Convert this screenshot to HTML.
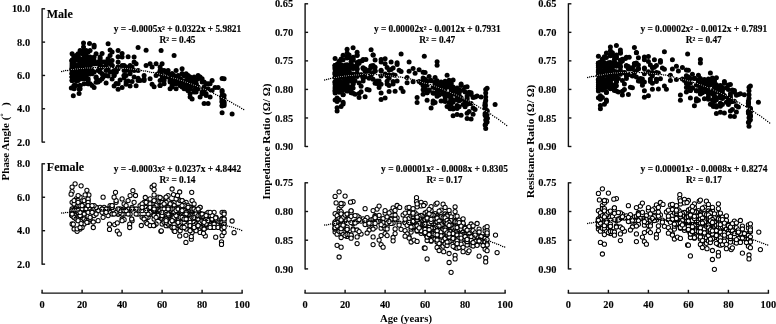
<!DOCTYPE html>
<html><head><meta charset="utf-8"><title>chart</title>
<style>
html,body{margin:0;padding:0;background:#fff;}
body{width:776px;height:324px;overflow:hidden;}
svg{display:block;font-family:"Liberation Serif", serif;font-weight:bold;fill:#000;will-change:transform;opacity:0.999;}
.ax{stroke:#111;stroke-width:1.4;fill:none;}
.tk{font-size:10.4px;stroke:#000;stroke-width:0.12;}
.grp{font-size:12px;stroke:#000;stroke-width:0.12;}
.xt{font-size:10.7px;}
.yt{font-size:11.05px;}
.yt2{font-size:11.2px;}
.eq{font-size:9.4px;stroke:#000;stroke-width:0.15;}
.fd circle{fill:#000;}
.od circle{fill:#fff;stroke:#000;stroke-width:1.02;}
.tr{fill:#000;}
.trm{fill:#c4c4c4;mix-blend-mode:difference;}
</style></head><body>
<svg width="776" height="324" viewBox="0 0 776 324">
<g class="fd"><circle cx="74.1" cy="60.5" r="2.5"/><circle cx="72.1" cy="60.5" r="2.5"/><circle cx="74.1" cy="85.4" r="2.5"/><circle cx="72.1" cy="60.5" r="2.5"/><circle cx="72.1" cy="68.8" r="2.5"/><circle cx="72.1" cy="67.1" r="2.5"/><circle cx="72.1" cy="77.1" r="2.5"/><circle cx="72.1" cy="77.1" r="2.5"/><circle cx="72.1" cy="53.8" r="2.5"/><circle cx="74.1" cy="78.8" r="2.5"/><circle cx="76.1" cy="75.4" r="2.5"/><circle cx="72.1" cy="60.5" r="2.5"/><circle cx="72.1" cy="77.1" r="2.5"/><circle cx="72.1" cy="80.4" r="2.5"/><circle cx="74.1" cy="73.8" r="2.5"/><circle cx="74.1" cy="88.8" r="2.5"/><circle cx="74.1" cy="73.8" r="2.5"/><circle cx="76.1" cy="68.8" r="2.5"/><circle cx="74.1" cy="87.1" r="2.5"/><circle cx="76.1" cy="80.4" r="2.5"/><circle cx="72.1" cy="63.8" r="2.5"/><circle cx="74.1" cy="63.8" r="2.5"/><circle cx="72.1" cy="65.5" r="2.5"/><circle cx="76.1" cy="85.4" r="2.5"/><circle cx="74.1" cy="73.8" r="2.5"/><circle cx="74.1" cy="77.1" r="2.5"/><circle cx="72.1" cy="60.5" r="2.5"/><circle cx="76.1" cy="55.5" r="2.5"/><circle cx="74.1" cy="85.4" r="2.5"/><circle cx="74.1" cy="70.5" r="2.5"/><circle cx="76.1" cy="80.4" r="2.5"/><circle cx="74.1" cy="67.1" r="2.5"/><circle cx="72.1" cy="68.8" r="2.5"/><circle cx="76.1" cy="68.8" r="2.5"/><circle cx="74.1" cy="60.5" r="2.5"/><circle cx="76.1" cy="70.5" r="2.5"/><circle cx="74.1" cy="65.5" r="2.5"/><circle cx="74.1" cy="57.1" r="2.5"/><circle cx="74.1" cy="63.8" r="2.5"/><circle cx="72.1" cy="62.1" r="2.5"/><circle cx="72.1" cy="80.4" r="2.5"/><circle cx="74.1" cy="70.5" r="2.5"/><circle cx="76.1" cy="77.1" r="2.5"/><circle cx="72.1" cy="73.8" r="2.5"/><circle cx="76.1" cy="77.1" r="2.5"/><circle cx="74.1" cy="57.1" r="2.5"/><circle cx="76.1" cy="67.1" r="2.5"/><circle cx="74.1" cy="77.1" r="2.5"/><circle cx="74.1" cy="67.1" r="2.5"/><circle cx="72.1" cy="73.8" r="2.5"/><circle cx="76.1" cy="68.8" r="2.5"/><circle cx="72.1" cy="73.8" r="2.5"/><circle cx="72.1" cy="72.1" r="2.5"/><circle cx="74.1" cy="72.1" r="2.5"/><circle cx="74.1" cy="72.1" r="2.5"/><circle cx="74.1" cy="57.1" r="2.5"/><circle cx="72.1" cy="68.8" r="2.5"/><circle cx="74.1" cy="65.5" r="2.5"/><circle cx="76.1" cy="67.1" r="2.5"/><circle cx="76.1" cy="65.5" r="2.5"/><circle cx="78.1" cy="57.1" r="2.5"/><circle cx="78.1" cy="77.1" r="2.5"/><circle cx="82.1" cy="75.4" r="2.5"/><circle cx="80.1" cy="73.8" r="2.5"/><circle cx="82.1" cy="72.1" r="2.5"/><circle cx="80.1" cy="78.8" r="2.5"/><circle cx="80.1" cy="85.4" r="2.5"/><circle cx="78.1" cy="58.8" r="2.5"/><circle cx="84.1" cy="68.8" r="2.5"/><circle cx="82.1" cy="53.8" r="2.5"/><circle cx="82.1" cy="60.5" r="2.5"/><circle cx="80.1" cy="70.5" r="2.5"/><circle cx="82.1" cy="62.1" r="2.5"/><circle cx="78.1" cy="55.5" r="2.5"/><circle cx="78.1" cy="67.1" r="2.5"/><circle cx="84.1" cy="72.1" r="2.5"/><circle cx="84.1" cy="83.8" r="2.5"/><circle cx="82.1" cy="75.4" r="2.5"/><circle cx="84.1" cy="55.5" r="2.5"/><circle cx="78.1" cy="65.5" r="2.5"/><circle cx="80.1" cy="73.8" r="2.5"/><circle cx="84.1" cy="65.5" r="2.5"/><circle cx="84.1" cy="73.8" r="2.5"/><circle cx="80.1" cy="75.4" r="2.5"/><circle cx="78.1" cy="67.1" r="2.5"/><circle cx="84.1" cy="72.1" r="2.5"/><circle cx="80.1" cy="68.8" r="2.5"/><circle cx="80.1" cy="67.1" r="2.5"/><circle cx="84.1" cy="77.1" r="2.5"/><circle cx="82.1" cy="72.1" r="2.5"/><circle cx="84.1" cy="77.1" r="2.5"/><circle cx="80.1" cy="85.4" r="2.5"/><circle cx="78.1" cy="70.5" r="2.5"/><circle cx="78.1" cy="80.4" r="2.5"/><circle cx="80.1" cy="73.8" r="2.5"/><circle cx="78.1" cy="67.1" r="2.5"/><circle cx="84.1" cy="58.8" r="2.5"/><circle cx="78.1" cy="73.8" r="2.5"/><circle cx="78.1" cy="60.5" r="2.5"/><circle cx="78.1" cy="68.8" r="2.5"/><circle cx="80.1" cy="63.8" r="2.5"/><circle cx="84.1" cy="78.8" r="2.5"/><circle cx="82.1" cy="68.8" r="2.5"/><circle cx="80.1" cy="78.8" r="2.5"/><circle cx="78.1" cy="73.8" r="2.5"/><circle cx="80.1" cy="63.8" r="2.5"/><circle cx="82.1" cy="65.5" r="2.5"/><circle cx="80.1" cy="88.8" r="2.5"/><circle cx="82.1" cy="73.8" r="2.5"/><circle cx="84.1" cy="52.1" r="2.5"/><circle cx="84.1" cy="63.8" r="2.5"/><circle cx="80.1" cy="63.8" r="2.5"/><circle cx="84.1" cy="72.1" r="2.5"/><circle cx="82.1" cy="60.5" r="2.5"/><circle cx="82.1" cy="78.8" r="2.5"/><circle cx="78.1" cy="77.1" r="2.5"/><circle cx="82.1" cy="72.1" r="2.5"/><circle cx="80.1" cy="63.8" r="2.5"/><circle cx="82.1" cy="72.1" r="2.5"/><circle cx="80.1" cy="68.8" r="2.5"/><circle cx="84.1" cy="60.5" r="2.5"/><circle cx="82.1" cy="78.8" r="2.5"/><circle cx="84.1" cy="68.8" r="2.5"/><circle cx="78.1" cy="67.1" r="2.5"/><circle cx="78.1" cy="68.8" r="2.5"/><circle cx="78.1" cy="67.1" r="2.5"/><circle cx="80.1" cy="50.5" r="2.5"/><circle cx="84.1" cy="65.5" r="2.5"/><circle cx="80.1" cy="58.8" r="2.5"/><circle cx="78.1" cy="65.5" r="2.5"/><circle cx="80.1" cy="70.5" r="2.5"/><circle cx="82.1" cy="60.5" r="2.5"/><circle cx="84.1" cy="68.8" r="2.5"/><circle cx="82.1" cy="68.8" r="2.5"/><circle cx="78.1" cy="53.8" r="2.5"/><circle cx="80.1" cy="75.4" r="2.5"/><circle cx="84.1" cy="53.8" r="2.5"/><circle cx="84.1" cy="75.4" r="2.5"/><circle cx="84.1" cy="60.5" r="2.5"/><circle cx="80.1" cy="60.5" r="2.5"/><circle cx="80.1" cy="75.4" r="2.5"/><circle cx="78.1" cy="68.8" r="2.5"/><circle cx="82.1" cy="72.1" r="2.5"/><circle cx="84.1" cy="58.8" r="2.5"/><circle cx="88.1" cy="78.8" r="2.5"/><circle cx="86.1" cy="73.8" r="2.5"/><circle cx="88.1" cy="58.8" r="2.5"/><circle cx="88.1" cy="57.1" r="2.5"/><circle cx="86.1" cy="50.5" r="2.5"/><circle cx="86.1" cy="68.8" r="2.5"/><circle cx="88.1" cy="62.1" r="2.5"/><circle cx="90.1" cy="65.5" r="2.5"/><circle cx="86.1" cy="53.8" r="2.5"/><circle cx="86.1" cy="70.5" r="2.5"/><circle cx="86.1" cy="72.1" r="2.5"/><circle cx="86.1" cy="77.1" r="2.5"/><circle cx="86.1" cy="75.4" r="2.5"/><circle cx="90.1" cy="73.8" r="2.5"/><circle cx="88.1" cy="58.8" r="2.5"/><circle cx="90.1" cy="57.1" r="2.5"/><circle cx="90.1" cy="58.8" r="2.5"/><circle cx="90.1" cy="70.5" r="2.5"/><circle cx="90.1" cy="67.1" r="2.5"/><circle cx="86.1" cy="62.1" r="2.5"/><circle cx="90.1" cy="73.8" r="2.5"/><circle cx="86.1" cy="65.5" r="2.5"/><circle cx="90.1" cy="70.5" r="2.5"/><circle cx="88.1" cy="80.4" r="2.5"/><circle cx="90.1" cy="73.8" r="2.5"/><circle cx="88.1" cy="52.1" r="2.5"/><circle cx="90.1" cy="50.5" r="2.5"/><circle cx="86.1" cy="70.5" r="2.5"/><circle cx="90.1" cy="83.8" r="2.5"/><circle cx="88.1" cy="67.1" r="2.5"/><circle cx="86.1" cy="70.5" r="2.5"/><circle cx="88.1" cy="65.5" r="2.5"/><circle cx="90.1" cy="68.8" r="2.5"/><circle cx="90.1" cy="70.5" r="2.5"/><circle cx="86.1" cy="73.8" r="2.5"/><circle cx="90.1" cy="72.1" r="2.5"/><circle cx="86.1" cy="78.8" r="2.5"/><circle cx="90.1" cy="62.1" r="2.5"/><circle cx="88.1" cy="70.5" r="2.5"/><circle cx="88.1" cy="83.8" r="2.5"/><circle cx="90.1" cy="60.5" r="2.5"/><circle cx="88.1" cy="58.8" r="2.5"/><circle cx="90.1" cy="58.8" r="2.5"/><circle cx="88.1" cy="83.8" r="2.5"/><circle cx="86.1" cy="65.5" r="2.5"/><circle cx="90.1" cy="70.5" r="2.5"/><circle cx="96.1" cy="53.8" r="2.5"/><circle cx="94.1" cy="63.8" r="2.5"/><circle cx="94.1" cy="47.1" r="2.5"/><circle cx="94.1" cy="63.8" r="2.5"/><circle cx="96.1" cy="77.1" r="2.5"/><circle cx="94.1" cy="60.5" r="2.5"/><circle cx="94.1" cy="62.1" r="2.5"/><circle cx="92.1" cy="85.4" r="2.5"/><circle cx="92.1" cy="70.5" r="2.5"/><circle cx="94.1" cy="72.1" r="2.5"/><circle cx="96.1" cy="63.8" r="2.5"/><circle cx="94.1" cy="57.1" r="2.5"/><circle cx="92.1" cy="73.8" r="2.5"/><circle cx="100.1" cy="72.1" r="2.5"/><circle cx="106.1" cy="62.1" r="2.5"/><circle cx="110.1" cy="55.5" r="2.5"/><circle cx="110.1" cy="72.1" r="2.5"/><circle cx="106.1" cy="75.4" r="2.5"/><circle cx="98.1" cy="70.5" r="2.5"/><circle cx="106.1" cy="70.5" r="2.5"/><circle cx="102.1" cy="78.8" r="2.5"/><circle cx="106.1" cy="65.5" r="2.5"/><circle cx="102.1" cy="62.1" r="2.5"/><circle cx="108.1" cy="62.1" r="2.5"/><circle cx="108.1" cy="68.8" r="2.5"/><circle cx="108.1" cy="58.8" r="2.5"/><circle cx="100.1" cy="65.5" r="2.5"/><circle cx="110.1" cy="63.8" r="2.5"/><circle cx="102.1" cy="67.1" r="2.5"/><circle cx="100.1" cy="67.1" r="2.5"/><circle cx="100.1" cy="68.8" r="2.5"/><circle cx="100.1" cy="65.5" r="2.5"/><circle cx="100.1" cy="57.1" r="2.5"/><circle cx="104.1" cy="75.4" r="2.5"/><circle cx="100.1" cy="58.8" r="2.5"/><circle cx="98.1" cy="62.1" r="2.5"/><circle cx="102.1" cy="67.1" r="2.5"/><circle cx="108.1" cy="60.5" r="2.5"/><circle cx="98.1" cy="82.1" r="2.5"/><circle cx="104.1" cy="62.1" r="2.5"/><circle cx="102.1" cy="73.8" r="2.5"/><circle cx="98.1" cy="80.4" r="2.5"/><circle cx="110.1" cy="62.1" r="2.5"/><circle cx="130.1" cy="73.8" r="2.5"/><circle cx="128.1" cy="68.8" r="2.5"/><circle cx="118.1" cy="83.8" r="2.5"/><circle cx="116.1" cy="72.1" r="2.5"/><circle cx="134.1" cy="70.5" r="2.5"/><circle cx="126.1" cy="82.1" r="2.5"/><circle cx="112.1" cy="60.5" r="2.5"/><circle cx="112.1" cy="72.1" r="2.5"/><circle cx="116.1" cy="72.1" r="2.5"/><circle cx="124.1" cy="75.4" r="2.5"/><circle cx="114.1" cy="70.5" r="2.5"/><circle cx="118.1" cy="50.5" r="2.5"/><circle cx="130.1" cy="65.5" r="2.5"/><circle cx="126.1" cy="68.8" r="2.5"/><circle cx="118.1" cy="62.1" r="2.5"/><circle cx="118.1" cy="67.1" r="2.5"/><circle cx="132.1" cy="67.1" r="2.5"/><circle cx="126.1" cy="67.1" r="2.5"/><circle cx="114.1" cy="75.4" r="2.5"/><circle cx="122.1" cy="57.1" r="2.5"/><circle cx="122.1" cy="65.5" r="2.5"/><circle cx="124.1" cy="75.4" r="2.5"/><circle cx="134.1" cy="57.1" r="2.5"/><circle cx="126.1" cy="70.5" r="2.5"/><circle cx="118.1" cy="68.8" r="2.5"/><circle cx="136.1" cy="63.8" r="2.5"/><circle cx="130.1" cy="70.5" r="2.5"/><circle cx="118.1" cy="67.1" r="2.5"/><circle cx="112.1" cy="65.5" r="2.5"/><circle cx="124.1" cy="70.5" r="2.5"/><circle cx="130.1" cy="68.8" r="2.5"/><circle cx="112.1" cy="65.5" r="2.5"/><circle cx="134.1" cy="62.1" r="2.5"/><circle cx="114.1" cy="75.4" r="2.5"/><circle cx="116.1" cy="70.5" r="2.5"/><circle cx="126.1" cy="75.4" r="2.5"/><circle cx="124.1" cy="65.5" r="2.5"/><circle cx="126.1" cy="68.8" r="2.5"/><circle cx="146.1" cy="65.5" r="2.5"/><circle cx="140.1" cy="80.4" r="2.5"/><circle cx="150.1" cy="78.8" r="2.5"/><circle cx="150.1" cy="63.8" r="2.5"/><circle cx="144.1" cy="80.4" r="2.5"/><circle cx="144.1" cy="75.4" r="2.5"/><circle cx="152.1" cy="67.1" r="2.5"/><circle cx="158.1" cy="73.8" r="2.5"/><circle cx="138.1" cy="80.4" r="2.5"/><circle cx="138.1" cy="70.5" r="2.5"/><circle cx="156.1" cy="75.4" r="2.5"/><circle cx="156.1" cy="63.8" r="2.5"/><circle cx="164.1" cy="70.5" r="2.5"/><circle cx="168.1" cy="70.5" r="2.5"/><circle cx="160.1" cy="70.5" r="2.5"/><circle cx="166.1" cy="77.1" r="2.5"/><circle cx="166.1" cy="72.1" r="2.5"/><circle cx="166.1" cy="72.1" r="2.5"/><circle cx="160.1" cy="72.1" r="2.5"/><circle cx="162.1" cy="78.8" r="2.5"/><circle cx="164.1" cy="83.8" r="2.5"/><circle cx="168.1" cy="73.8" r="2.5"/><circle cx="162.1" cy="75.4" r="2.5"/><circle cx="160.1" cy="80.4" r="2.5"/><circle cx="162.1" cy="63.8" r="2.5"/><circle cx="160.1" cy="73.8" r="2.5"/><circle cx="160.1" cy="67.1" r="2.5"/><circle cx="162.1" cy="75.4" r="2.5"/><circle cx="162.1" cy="70.5" r="2.5"/><circle cx="160.1" cy="85.4" r="2.5"/><circle cx="164.1" cy="80.4" r="2.5"/><circle cx="164.1" cy="77.1" r="2.5"/><circle cx="172.1" cy="73.8" r="2.5"/><circle cx="178.1" cy="75.4" r="2.5"/><circle cx="174.1" cy="75.4" r="2.5"/><circle cx="172.1" cy="77.1" r="2.5"/><circle cx="176.1" cy="80.4" r="2.5"/><circle cx="176.1" cy="78.8" r="2.5"/><circle cx="176.1" cy="82.1" r="2.5"/><circle cx="174.1" cy="78.8" r="2.5"/><circle cx="178.1" cy="77.1" r="2.5"/><circle cx="170.1" cy="78.8" r="2.5"/><circle cx="176.1" cy="70.5" r="2.5"/><circle cx="180.1" cy="85.4" r="2.5"/><circle cx="178.1" cy="80.4" r="2.5"/><circle cx="170.1" cy="82.1" r="2.5"/><circle cx="172.1" cy="75.4" r="2.5"/><circle cx="180.1" cy="80.4" r="2.5"/><circle cx="170.1" cy="80.4" r="2.5"/><circle cx="174.1" cy="83.8" r="2.5"/><circle cx="172.1" cy="73.8" r="2.5"/><circle cx="176.1" cy="77.1" r="2.5"/><circle cx="176.1" cy="77.1" r="2.5"/><circle cx="178.1" cy="82.1" r="2.5"/><circle cx="180.1" cy="78.8" r="2.5"/><circle cx="180.1" cy="85.4" r="2.5"/><circle cx="174.1" cy="78.8" r="2.5"/><circle cx="176.1" cy="88.8" r="2.5"/><circle cx="174.1" cy="82.1" r="2.5"/><circle cx="176.1" cy="78.8" r="2.5"/><circle cx="172.1" cy="87.1" r="2.5"/><circle cx="176.1" cy="83.8" r="2.5"/><circle cx="172.1" cy="75.4" r="2.5"/><circle cx="172.1" cy="85.4" r="2.5"/><circle cx="170.1" cy="88.8" r="2.5"/><circle cx="180.1" cy="83.8" r="2.5"/><circle cx="190.1" cy="82.1" r="2.5"/><circle cx="184.1" cy="75.4" r="2.5"/><circle cx="188.1" cy="85.4" r="2.5"/><circle cx="182.1" cy="73.8" r="2.5"/><circle cx="182.1" cy="87.1" r="2.5"/><circle cx="184.1" cy="75.4" r="2.5"/><circle cx="186.1" cy="88.8" r="2.5"/><circle cx="200.1" cy="97.1" r="2.5"/><circle cx="196.1" cy="83.8" r="2.5"/><circle cx="194.1" cy="82.1" r="2.5"/><circle cx="192.1" cy="80.4" r="2.5"/><circle cx="188.1" cy="75.4" r="2.5"/><circle cx="182.1" cy="83.8" r="2.5"/><circle cx="194.1" cy="90.4" r="2.5"/><circle cx="190.1" cy="87.1" r="2.5"/><circle cx="188.1" cy="90.4" r="2.5"/><circle cx="196.1" cy="88.8" r="2.5"/><circle cx="182.1" cy="85.4" r="2.5"/><circle cx="188.1" cy="90.4" r="2.5"/><circle cx="196.1" cy="80.4" r="2.5"/><circle cx="194.1" cy="82.1" r="2.5"/><circle cx="194.1" cy="92.1" r="2.5"/><circle cx="198.1" cy="88.8" r="2.5"/><circle cx="186.1" cy="73.8" r="2.5"/><circle cx="198.1" cy="78.8" r="2.5"/><circle cx="194.1" cy="90.4" r="2.5"/><circle cx="182.1" cy="68.8" r="2.5"/><circle cx="184.1" cy="75.4" r="2.5"/><circle cx="196.1" cy="88.8" r="2.5"/><circle cx="186.1" cy="85.4" r="2.5"/><circle cx="188.1" cy="77.1" r="2.5"/><circle cx="190.1" cy="77.1" r="2.5"/><circle cx="190.1" cy="78.8" r="2.5"/><circle cx="190.1" cy="97.1" r="2.5"/><circle cx="188.1" cy="88.8" r="2.5"/><circle cx="188.1" cy="83.8" r="2.5"/><circle cx="186.1" cy="88.8" r="2.5"/><circle cx="190.1" cy="88.8" r="2.5"/><circle cx="186.1" cy="80.4" r="2.5"/><circle cx="198.1" cy="75.4" r="2.5"/><circle cx="196.1" cy="92.1" r="2.5"/><circle cx="184.1" cy="82.1" r="2.5"/><circle cx="194.1" cy="85.4" r="2.5"/><circle cx="194.1" cy="77.1" r="2.5"/><circle cx="192.1" cy="85.4" r="2.5"/><circle cx="188.1" cy="78.8" r="2.5"/><circle cx="182.1" cy="82.1" r="2.5"/><circle cx="190.1" cy="93.8" r="2.5"/><circle cx="200.1" cy="77.1" r="2.5"/><circle cx="182.1" cy="80.4" r="2.5"/><circle cx="190.1" cy="88.8" r="2.5"/><circle cx="198.1" cy="87.1" r="2.5"/><circle cx="196.1" cy="83.8" r="2.5"/><circle cx="182.1" cy="73.8" r="2.5"/><circle cx="190.1" cy="78.8" r="2.5"/><circle cx="188.1" cy="87.1" r="2.5"/><circle cx="186.1" cy="80.4" r="2.5"/><circle cx="196.1" cy="85.4" r="2.5"/><circle cx="188.1" cy="83.8" r="2.5"/><circle cx="184.1" cy="88.8" r="2.5"/><circle cx="206.1" cy="93.8" r="2.5"/><circle cx="202.1" cy="78.8" r="2.5"/><circle cx="206.1" cy="95.4" r="2.5"/><circle cx="210.1" cy="83.8" r="2.5"/><circle cx="204.1" cy="88.8" r="2.5"/><circle cx="202.1" cy="93.8" r="2.5"/><circle cx="204.1" cy="82.1" r="2.5"/><circle cx="202.1" cy="82.1" r="2.5"/><circle cx="204.1" cy="87.1" r="2.5"/><circle cx="210.1" cy="97.1" r="2.5"/><circle cx="208.1" cy="88.8" r="2.5"/><circle cx="206.1" cy="83.8" r="2.5"/><circle cx="212.1" cy="90.4" r="2.5"/><circle cx="202.1" cy="92.1" r="2.5"/><circle cx="208.1" cy="83.8" r="2.5"/><circle cx="204.1" cy="88.8" r="2.5"/><circle cx="204.1" cy="90.4" r="2.5"/><circle cx="212.1" cy="80.4" r="2.5"/><circle cx="222.1" cy="98.8" r="2.5"/><circle cx="222.1" cy="102.1" r="2.5"/><circle cx="222.1" cy="100.4" r="2.5"/><circle cx="222.1" cy="92.1" r="2.5"/><circle cx="222.1" cy="97.1" r="2.5"/><circle cx="222.1" cy="90.4" r="2.5"/><circle cx="222.1" cy="95.4" r="2.5"/><circle cx="222.1" cy="105.4" r="2.5"/><circle cx="224.1" cy="105.4" r="2.5"/><circle cx="224.1" cy="95.4" r="2.5"/><circle cx="224.1" cy="102.1" r="2.5"/><circle cx="224.1" cy="103.8" r="2.5"/><circle cx="224.1" cy="98.8" r="2.5"/><circle cx="83.5" cy="43.1" r="2.5"/><circle cx="83.5" cy="47.0" r="2.5"/><circle cx="83.5" cy="51.0" r="2.5"/><circle cx="89.5" cy="43.5" r="2.5"/><circle cx="94.1" cy="45.3" r="2.5"/><circle cx="108.1" cy="43.8" r="2.5"/><circle cx="110.1" cy="50.0" r="2.5"/><circle cx="112.1" cy="52.0" r="2.5"/><circle cx="102.1" cy="53.5" r="2.5"/><circle cx="122.1" cy="53.5" r="2.5"/><circle cx="118.1" cy="56.8" r="2.5"/><circle cx="128.1" cy="56.8" r="2.5"/><circle cx="138.1" cy="47.4" r="2.5"/><circle cx="146.1" cy="50.3" r="2.5"/><circle cx="161.1" cy="50.5" r="2.5"/><circle cx="174.1" cy="55.4" r="2.5"/><circle cx="73.3" cy="95.8" r="2.5"/><circle cx="79.1" cy="93.6" r="2.5"/><circle cx="79.1" cy="89.3" r="2.5"/><circle cx="71.3" cy="88.0" r="2.5"/><circle cx="94.1" cy="87.4" r="2.5"/><circle cx="118.1" cy="89.3" r="2.5"/><circle cx="122.1" cy="87.4" r="2.5"/><circle cx="136.1" cy="85.7" r="2.5"/><circle cx="154.1" cy="86.8" r="2.5"/><circle cx="152.1" cy="84.2" r="2.5"/><circle cx="160.1" cy="85.5" r="2.5"/><circle cx="96.1" cy="82.2" r="2.5"/><circle cx="96.1" cy="77.7" r="2.5"/><circle cx="103.1" cy="77.0" r="2.5"/><circle cx="112.1" cy="79.0" r="2.5"/><circle cx="116.1" cy="83.5" r="2.5"/><circle cx="126.1" cy="84.2" r="2.5"/><circle cx="132.1" cy="81.6" r="2.5"/><circle cx="138.1" cy="78.3" r="2.5"/><circle cx="144.1" cy="79.0" r="2.5"/><circle cx="100.1" cy="80.5" r="2.5"/><circle cx="106.1" cy="83.0" r="2.5"/><circle cx="108.1" cy="76.0" r="2.5"/><circle cx="114.1" cy="86.0" r="2.5"/><circle cx="120.1" cy="80.0" r="2.5"/><circle cx="124.1" cy="78.0" r="2.5"/><circle cx="128.1" cy="81.0" r="2.5"/><circle cx="130.1" cy="86.0" r="2.5"/><circle cx="134.1" cy="77.0" r="2.5"/><circle cx="222.1" cy="78.5" r="2.5"/><circle cx="224.1" cy="78.8" r="2.5"/><circle cx="222.1" cy="112.8" r="2.5"/><circle cx="232.1" cy="114.0" r="2.5"/><circle cx="204.1" cy="103.5" r="2.5"/><circle cx="208.1" cy="103.5" r="2.5"/><circle cx="192.1" cy="99.0" r="2.5"/><circle cx="215.1" cy="87.4" r="2.5"/><circle cx="218.1" cy="87.4" r="2.5"/><circle cx="222.1" cy="106.0" r="2.5"/><circle cx="222.1" cy="102.0" r="2.5"/><circle cx="222.1" cy="98.0" r="2.5"/></g>
<g fill="#000"><rect x="61" y="70.88" width="1.25" height="1.25"/><rect x="63" y="70.38" width="1.25" height="1.25"/><rect x="65" y="69.88" width="1.25" height="1.25"/><rect x="67" y="69.88" width="1.25" height="1.25"/><rect x="69" y="69.38" width="1.25" height="1.25"/><rect x="93" y="66.88" width="1.25" height="1.25"/><rect x="95" y="66.88" width="1.25" height="1.25"/><rect x="97" y="66.88" width="1.25" height="1.25"/><rect x="113" y="66.88" width="1.25" height="1.25"/><rect x="115" y="66.88" width="1.25" height="1.25"/><rect x="121" y="67.38" width="1.25" height="1.25"/><rect x="141" y="69.88" width="1.25" height="1.25"/><rect x="143" y="70.38" width="1.25" height="1.25"/><rect x="145" y="70.38" width="1.25" height="1.25"/><rect x="147" y="70.88" width="1.25" height="1.25"/><rect x="149" y="71.38" width="1.25" height="1.25"/><rect x="151" y="71.88" width="1.25" height="1.25"/><rect x="153" y="71.88" width="1.25" height="1.25"/><rect x="155" y="72.38" width="1.25" height="1.25"/><rect x="169" y="75.88" width="1.25" height="1.25"/><rect x="201" y="87.38" width="1.25" height="1.25"/><rect x="209" y="90.88" width="1.25" height="1.25"/><rect x="213" y="92.88" width="1.25" height="1.25"/><rect x="215" y="93.88" width="1.25" height="1.25"/><rect x="217" y="94.88" width="1.25" height="1.25"/><rect x="219" y="95.88" width="1.25" height="1.25"/><rect x="227" y="99.88" width="1.25" height="1.25"/><rect x="229" y="100.88" width="1.25" height="1.25"/><rect x="231" y="101.88" width="1.25" height="1.25"/><rect x="233" y="103.38" width="1.25" height="1.25"/><rect x="235" y="104.38" width="1.25" height="1.25"/><rect x="237" y="105.38" width="1.25" height="1.25"/><rect x="239" y="106.38" width="1.25" height="1.25"/><rect x="241" y="107.88" width="1.25" height="1.25"/><rect x="243" y="108.88" width="1.25" height="1.25"/></g>
<g fill="#b4b4b4"><rect x="71.1" y="69.05" width="0.9" height="0.9"/><rect x="73.1" y="69.05" width="0.9" height="0.9"/><rect x="75.1" y="68.55" width="0.9" height="0.9"/><rect x="77.1" y="68.55" width="0.9" height="0.9"/><rect x="79.1" y="68.05" width="0.9" height="0.9"/><rect x="81.1" y="68.05" width="0.9" height="0.9"/><rect x="83.1" y="68.05" width="0.9" height="0.9"/><rect x="85.1" y="67.55" width="0.9" height="0.9"/><rect x="87.1" y="67.55" width="0.9" height="0.9"/><rect x="89.1" y="67.55" width="0.9" height="0.9"/><rect x="91.1" y="67.55" width="0.9" height="0.9"/><rect x="99.1" y="67.05" width="0.9" height="0.9"/><rect x="101.1" y="67.05" width="0.9" height="0.9"/><rect x="103.1" y="67.05" width="0.9" height="0.9"/><rect x="105.1" y="67.05" width="0.9" height="0.9"/><rect x="107.1" y="67.05" width="0.9" height="0.9"/><rect x="109.1" y="67.05" width="0.9" height="0.9"/><rect x="111.1" y="67.05" width="0.9" height="0.9"/><rect x="117.1" y="67.55" width="0.9" height="0.9"/><rect x="119.1" y="67.55" width="0.9" height="0.9"/><rect x="123.1" y="68.05" width="0.9" height="0.9"/><rect x="125.1" y="68.05" width="0.9" height="0.9"/><rect x="127.1" y="68.05" width="0.9" height="0.9"/><rect x="129.1" y="68.55" width="0.9" height="0.9"/><rect x="131.1" y="68.55" width="0.9" height="0.9"/><rect x="133.1" y="69.05" width="0.9" height="0.9"/><rect x="135.1" y="69.05" width="0.9" height="0.9"/><rect x="137.1" y="69.55" width="0.9" height="0.9"/><rect x="139.1" y="69.55" width="0.9" height="0.9"/><rect x="157.1" y="73.05" width="0.9" height="0.9"/><rect x="159.1" y="73.55" width="0.9" height="0.9"/><rect x="161.1" y="74.05" width="0.9" height="0.9"/><rect x="163.1" y="74.55" width="0.9" height="0.9"/><rect x="165.1" y="75.05" width="0.9" height="0.9"/><rect x="167.1" y="75.55" width="0.9" height="0.9"/><rect x="171.1" y="77.05" width="0.9" height="0.9"/><rect x="173.1" y="77.55" width="0.9" height="0.9"/><rect x="175.1" y="78.05" width="0.9" height="0.9"/><rect x="177.1" y="78.55" width="0.9" height="0.9"/><rect x="179.1" y="79.55" width="0.9" height="0.9"/><rect x="181.1" y="80.05" width="0.9" height="0.9"/><rect x="183.1" y="80.55" width="0.9" height="0.9"/><rect x="185.1" y="81.55" width="0.9" height="0.9"/><rect x="187.1" y="82.05" width="0.9" height="0.9"/><rect x="189.1" y="83.05" width="0.9" height="0.9"/><rect x="191.1" y="83.55" width="0.9" height="0.9"/><rect x="193.1" y="84.55" width="0.9" height="0.9"/><rect x="195.1" y="85.05" width="0.9" height="0.9"/><rect x="197.1" y="86.05" width="0.9" height="0.9"/><rect x="199.1" y="86.55" width="0.9" height="0.9"/><rect x="203.1" y="88.55" width="0.9" height="0.9"/><rect x="205.1" y="89.05" width="0.9" height="0.9"/><rect x="207.1" y="90.05" width="0.9" height="0.9"/><rect x="211.1" y="92.05" width="0.9" height="0.9"/><rect x="221.1" y="97.05" width="0.9" height="0.9"/><rect x="223.1" y="98.05" width="0.9" height="0.9"/><rect x="225.1" y="99.05" width="0.9" height="0.9"/></g>
<g class="fd"><circle cx="337.1" cy="70.0" r="2.5"/><circle cx="335.1" cy="65.6" r="2.5"/><circle cx="337.1" cy="101.6" r="2.5"/><circle cx="335.1" cy="67.4" r="2.5"/><circle cx="335.1" cy="72.2" r="2.5"/><circle cx="335.1" cy="77.2" r="2.5"/><circle cx="335.1" cy="91.1" r="2.5"/><circle cx="335.1" cy="88.8" r="2.5"/><circle cx="335.1" cy="58.5" r="2.5"/><circle cx="337.1" cy="85.9" r="2.5"/><circle cx="339.1" cy="76.4" r="2.5"/><circle cx="335.1" cy="65.4" r="2.5"/><circle cx="335.1" cy="82.8" r="2.5"/><circle cx="335.1" cy="93.1" r="2.5"/><circle cx="337.1" cy="86.0" r="2.5"/><circle cx="337.1" cy="98.0" r="2.5"/><circle cx="337.1" cy="75.9" r="2.5"/><circle cx="339.1" cy="77.9" r="2.5"/><circle cx="337.1" cy="99.4" r="2.5"/><circle cx="339.1" cy="88.5" r="2.5"/><circle cx="335.1" cy="68.1" r="2.5"/><circle cx="337.1" cy="67.7" r="2.5"/><circle cx="335.1" cy="74.5" r="2.5"/><circle cx="339.1" cy="99.7" r="2.5"/><circle cx="337.1" cy="79.0" r="2.5"/><circle cx="337.1" cy="89.5" r="2.5"/><circle cx="335.1" cy="69.5" r="2.5"/><circle cx="339.1" cy="61.2" r="2.5"/><circle cx="337.1" cy="107.7" r="2.5"/><circle cx="337.1" cy="75.6" r="2.5"/><circle cx="339.1" cy="82.6" r="2.5"/><circle cx="337.1" cy="73.4" r="2.5"/><circle cx="335.1" cy="73.1" r="2.5"/><circle cx="339.1" cy="73.1" r="2.5"/><circle cx="337.1" cy="66.7" r="2.5"/><circle cx="339.1" cy="75.8" r="2.5"/><circle cx="337.1" cy="74.8" r="2.5"/><circle cx="337.1" cy="64.2" r="2.5"/><circle cx="337.1" cy="72.9" r="2.5"/><circle cx="335.1" cy="65.5" r="2.5"/><circle cx="335.1" cy="90.8" r="2.5"/><circle cx="337.1" cy="76.2" r="2.5"/><circle cx="339.1" cy="82.0" r="2.5"/><circle cx="335.1" cy="87.0" r="2.5"/><circle cx="339.1" cy="92.3" r="2.5"/><circle cx="337.1" cy="68.5" r="2.5"/><circle cx="339.1" cy="78.0" r="2.5"/><circle cx="337.1" cy="83.5" r="2.5"/><circle cx="337.1" cy="73.6" r="2.5"/><circle cx="335.1" cy="81.5" r="2.5"/><circle cx="339.1" cy="76.7" r="2.5"/><circle cx="335.1" cy="84.6" r="2.5"/><circle cx="335.1" cy="82.0" r="2.5"/><circle cx="337.1" cy="75.7" r="2.5"/><circle cx="337.1" cy="75.4" r="2.5"/><circle cx="337.1" cy="68.3" r="2.5"/><circle cx="335.1" cy="73.9" r="2.5"/><circle cx="337.1" cy="78.1" r="2.5"/><circle cx="339.1" cy="66.0" r="2.5"/><circle cx="339.1" cy="77.5" r="2.5"/><circle cx="341.1" cy="64.8" r="2.5"/><circle cx="341.1" cy="87.4" r="2.5"/><circle cx="345.1" cy="81.1" r="2.5"/><circle cx="343.1" cy="89.5" r="2.5"/><circle cx="345.1" cy="84.0" r="2.5"/><circle cx="343.1" cy="85.5" r="2.5"/><circle cx="343.1" cy="94.7" r="2.5"/><circle cx="341.1" cy="59.0" r="2.5"/><circle cx="347.1" cy="77.5" r="2.5"/><circle cx="345.1" cy="69.1" r="2.5"/><circle cx="345.1" cy="65.0" r="2.5"/><circle cx="343.1" cy="75.6" r="2.5"/><circle cx="345.1" cy="67.9" r="2.5"/><circle cx="341.1" cy="68.7" r="2.5"/><circle cx="341.1" cy="73.8" r="2.5"/><circle cx="347.1" cy="79.4" r="2.5"/><circle cx="347.1" cy="91.0" r="2.5"/><circle cx="345.1" cy="75.2" r="2.5"/><circle cx="347.1" cy="69.3" r="2.5"/><circle cx="341.1" cy="73.2" r="2.5"/><circle cx="343.1" cy="77.6" r="2.5"/><circle cx="347.1" cy="72.8" r="2.5"/><circle cx="347.1" cy="84.1" r="2.5"/><circle cx="343.1" cy="77.6" r="2.5"/><circle cx="341.1" cy="83.7" r="2.5"/><circle cx="347.1" cy="77.4" r="2.5"/><circle cx="343.1" cy="74.4" r="2.5"/><circle cx="343.1" cy="74.9" r="2.5"/><circle cx="347.1" cy="85.2" r="2.5"/><circle cx="345.1" cy="74.7" r="2.5"/><circle cx="347.1" cy="81.8" r="2.5"/><circle cx="343.1" cy="102.3" r="2.5"/><circle cx="341.1" cy="74.5" r="2.5"/><circle cx="341.1" cy="90.4" r="2.5"/><circle cx="343.1" cy="89.6" r="2.5"/><circle cx="341.1" cy="76.0" r="2.5"/><circle cx="347.1" cy="64.8" r="2.5"/><circle cx="341.1" cy="81.9" r="2.5"/><circle cx="341.1" cy="73.4" r="2.5"/><circle cx="341.1" cy="82.9" r="2.5"/><circle cx="343.1" cy="73.0" r="2.5"/><circle cx="347.1" cy="90.8" r="2.5"/><circle cx="345.1" cy="69.5" r="2.5"/><circle cx="343.1" cy="86.4" r="2.5"/><circle cx="341.1" cy="84.8" r="2.5"/><circle cx="343.1" cy="73.2" r="2.5"/><circle cx="345.1" cy="71.4" r="2.5"/><circle cx="343.1" cy="94.5" r="2.5"/><circle cx="345.1" cy="76.6" r="2.5"/><circle cx="347.1" cy="57.9" r="2.5"/><circle cx="347.1" cy="72.9" r="2.5"/><circle cx="343.1" cy="67.4" r="2.5"/><circle cx="347.1" cy="77.4" r="2.5"/><circle cx="345.1" cy="66.2" r="2.5"/><circle cx="345.1" cy="89.3" r="2.5"/><circle cx="341.1" cy="83.5" r="2.5"/><circle cx="345.1" cy="80.4" r="2.5"/><circle cx="343.1" cy="72.0" r="2.5"/><circle cx="345.1" cy="71.0" r="2.5"/><circle cx="343.1" cy="75.1" r="2.5"/><circle cx="347.1" cy="71.6" r="2.5"/><circle cx="345.1" cy="84.9" r="2.5"/><circle cx="347.1" cy="79.1" r="2.5"/><circle cx="341.1" cy="77.0" r="2.5"/><circle cx="341.1" cy="76.2" r="2.5"/><circle cx="341.1" cy="76.8" r="2.5"/><circle cx="343.1" cy="55.2" r="2.5"/><circle cx="347.1" cy="81.5" r="2.5"/><circle cx="343.1" cy="59.7" r="2.5"/><circle cx="341.1" cy="69.6" r="2.5"/><circle cx="343.1" cy="76.9" r="2.5"/><circle cx="345.1" cy="70.3" r="2.5"/><circle cx="347.1" cy="80.0" r="2.5"/><circle cx="345.1" cy="72.1" r="2.5"/><circle cx="341.1" cy="59.9" r="2.5"/><circle cx="343.1" cy="85.2" r="2.5"/><circle cx="347.1" cy="57.1" r="2.5"/><circle cx="347.1" cy="88.3" r="2.5"/><circle cx="347.1" cy="68.0" r="2.5"/><circle cx="343.1" cy="67.6" r="2.5"/><circle cx="343.1" cy="82.8" r="2.5"/><circle cx="341.1" cy="76.3" r="2.5"/><circle cx="345.1" cy="79.0" r="2.5"/><circle cx="347.1" cy="69.7" r="2.5"/><circle cx="351.1" cy="92.7" r="2.5"/><circle cx="349.1" cy="81.1" r="2.5"/><circle cx="351.1" cy="66.4" r="2.5"/><circle cx="351.1" cy="64.6" r="2.5"/><circle cx="349.1" cy="55.1" r="2.5"/><circle cx="349.1" cy="75.8" r="2.5"/><circle cx="351.1" cy="67.4" r="2.5"/><circle cx="353.1" cy="67.6" r="2.5"/><circle cx="349.1" cy="57.4" r="2.5"/><circle cx="349.1" cy="77.4" r="2.5"/><circle cx="349.1" cy="74.6" r="2.5"/><circle cx="349.1" cy="89.6" r="2.5"/><circle cx="349.1" cy="90.7" r="2.5"/><circle cx="353.1" cy="80.1" r="2.5"/><circle cx="351.1" cy="61.7" r="2.5"/><circle cx="353.1" cy="59.0" r="2.5"/><circle cx="353.1" cy="68.3" r="2.5"/><circle cx="353.1" cy="83.9" r="2.5"/><circle cx="353.1" cy="80.5" r="2.5"/><circle cx="349.1" cy="74.3" r="2.5"/><circle cx="353.1" cy="88.0" r="2.5"/><circle cx="349.1" cy="72.7" r="2.5"/><circle cx="353.1" cy="76.9" r="2.5"/><circle cx="351.1" cy="91.7" r="2.5"/><circle cx="353.1" cy="83.7" r="2.5"/><circle cx="351.1" cy="58.6" r="2.5"/><circle cx="353.1" cy="60.3" r="2.5"/><circle cx="349.1" cy="79.1" r="2.5"/><circle cx="353.1" cy="93.2" r="2.5"/><circle cx="351.1" cy="67.7" r="2.5"/><circle cx="349.1" cy="89.2" r="2.5"/><circle cx="351.1" cy="74.5" r="2.5"/><circle cx="353.1" cy="74.8" r="2.5"/><circle cx="353.1" cy="79.3" r="2.5"/><circle cx="349.1" cy="77.8" r="2.5"/><circle cx="353.1" cy="74.7" r="2.5"/><circle cx="349.1" cy="87.4" r="2.5"/><circle cx="353.1" cy="68.4" r="2.5"/><circle cx="351.1" cy="73.9" r="2.5"/><circle cx="351.1" cy="91.8" r="2.5"/><circle cx="353.1" cy="57.3" r="2.5"/><circle cx="351.1" cy="64.7" r="2.5"/><circle cx="353.1" cy="66.0" r="2.5"/><circle cx="351.1" cy="87.3" r="2.5"/><circle cx="349.1" cy="71.2" r="2.5"/><circle cx="353.1" cy="74.0" r="2.5"/><circle cx="359.1" cy="61.5" r="2.5"/><circle cx="357.1" cy="69.2" r="2.5"/><circle cx="357.1" cy="55.5" r="2.5"/><circle cx="357.1" cy="72.9" r="2.5"/><circle cx="359.1" cy="82.9" r="2.5"/><circle cx="357.1" cy="65.4" r="2.5"/><circle cx="357.1" cy="68.7" r="2.5"/><circle cx="355.1" cy="94.3" r="2.5"/><circle cx="355.1" cy="75.0" r="2.5"/><circle cx="357.1" cy="76.5" r="2.5"/><circle cx="359.1" cy="63.3" r="2.5"/><circle cx="357.1" cy="62.6" r="2.5"/><circle cx="355.1" cy="80.7" r="2.5"/><circle cx="363.1" cy="80.9" r="2.5"/><circle cx="369.1" cy="71.1" r="2.5"/><circle cx="373.1" cy="54.9" r="2.5"/><circle cx="373.1" cy="79.3" r="2.5"/><circle cx="369.1" cy="90.0" r="2.5"/><circle cx="361.1" cy="75.0" r="2.5"/><circle cx="369.1" cy="78.2" r="2.5"/><circle cx="365.1" cy="96.8" r="2.5"/><circle cx="369.1" cy="70.1" r="2.5"/><circle cx="365.1" cy="68.9" r="2.5"/><circle cx="371.1" cy="65.9" r="2.5"/><circle cx="371.1" cy="75.2" r="2.5"/><circle cx="371.1" cy="67.5" r="2.5"/><circle cx="363.1" cy="67.8" r="2.5"/><circle cx="373.1" cy="73.1" r="2.5"/><circle cx="365.1" cy="70.4" r="2.5"/><circle cx="363.1" cy="77.9" r="2.5"/><circle cx="363.1" cy="77.6" r="2.5"/><circle cx="363.1" cy="76.7" r="2.5"/><circle cx="363.1" cy="59.6" r="2.5"/><circle cx="367.1" cy="89.4" r="2.5"/><circle cx="363.1" cy="68.5" r="2.5"/><circle cx="361.1" cy="74.7" r="2.5"/><circle cx="365.1" cy="71.4" r="2.5"/><circle cx="371.1" cy="66.3" r="2.5"/><circle cx="361.1" cy="91.8" r="2.5"/><circle cx="367.1" cy="71.2" r="2.5"/><circle cx="365.1" cy="77.0" r="2.5"/><circle cx="361.1" cy="86.2" r="2.5"/><circle cx="373.1" cy="65.4" r="2.5"/><circle cx="393.1" cy="83.9" r="2.5"/><circle cx="391.1" cy="69.5" r="2.5"/><circle cx="381.1" cy="93.1" r="2.5"/><circle cx="379.1" cy="87.5" r="2.5"/><circle cx="397.1" cy="81.1" r="2.5"/><circle cx="389.1" cy="85.6" r="2.5"/><circle cx="375.1" cy="67.3" r="2.5"/><circle cx="375.1" cy="83.2" r="2.5"/><circle cx="379.1" cy="84.5" r="2.5"/><circle cx="387.1" cy="83.9" r="2.5"/><circle cx="377.1" cy="82.0" r="2.5"/><circle cx="381.1" cy="59.4" r="2.5"/><circle cx="393.1" cy="67.9" r="2.5"/><circle cx="389.1" cy="76.2" r="2.5"/><circle cx="381.1" cy="71.0" r="2.5"/><circle cx="381.1" cy="70.3" r="2.5"/><circle cx="395.1" cy="75.2" r="2.5"/><circle cx="389.1" cy="70.1" r="2.5"/><circle cx="377.1" cy="83.5" r="2.5"/><circle cx="385.1" cy="63.7" r="2.5"/><circle cx="385.1" cy="73.9" r="2.5"/><circle cx="387.1" cy="81.2" r="2.5"/><circle cx="397.1" cy="62.8" r="2.5"/><circle cx="389.1" cy="74.9" r="2.5"/><circle cx="381.1" cy="76.0" r="2.5"/><circle cx="399.1" cy="70.2" r="2.5"/><circle cx="393.1" cy="81.6" r="2.5"/><circle cx="381.1" cy="84.2" r="2.5"/><circle cx="375.1" cy="71.1" r="2.5"/><circle cx="387.1" cy="76.1" r="2.5"/><circle cx="393.1" cy="74.8" r="2.5"/><circle cx="375.1" cy="71.1" r="2.5"/><circle cx="397.1" cy="64.4" r="2.5"/><circle cx="377.1" cy="80.9" r="2.5"/><circle cx="379.1" cy="81.1" r="2.5"/><circle cx="389.1" cy="78.3" r="2.5"/><circle cx="387.1" cy="67.4" r="2.5"/><circle cx="389.1" cy="75.1" r="2.5"/><circle cx="409.1" cy="71.3" r="2.5"/><circle cx="403.1" cy="91.6" r="2.5"/><circle cx="413.1" cy="81.8" r="2.5"/><circle cx="413.1" cy="68.4" r="2.5"/><circle cx="407.1" cy="82.7" r="2.5"/><circle cx="407.1" cy="77.5" r="2.5"/><circle cx="415.1" cy="73.3" r="2.5"/><circle cx="421.1" cy="82.9" r="2.5"/><circle cx="401.1" cy="88.2" r="2.5"/><circle cx="401.1" cy="71.6" r="2.5"/><circle cx="419.1" cy="81.4" r="2.5"/><circle cx="419.1" cy="69.7" r="2.5"/><circle cx="427.1" cy="80.9" r="2.5"/><circle cx="431.1" cy="80.7" r="2.5"/><circle cx="423.1" cy="78.0" r="2.5"/><circle cx="429.1" cy="90.5" r="2.5"/><circle cx="429.1" cy="89.9" r="2.5"/><circle cx="429.1" cy="76.6" r="2.5"/><circle cx="423.1" cy="85.7" r="2.5"/><circle cx="425.1" cy="89.9" r="2.5"/><circle cx="427.1" cy="92.7" r="2.5"/><circle cx="431.1" cy="80.5" r="2.5"/><circle cx="425.1" cy="81.6" r="2.5"/><circle cx="423.1" cy="89.8" r="2.5"/><circle cx="425.1" cy="72.4" r="2.5"/><circle cx="423.1" cy="81.1" r="2.5"/><circle cx="423.1" cy="72.2" r="2.5"/><circle cx="425.1" cy="88.9" r="2.5"/><circle cx="425.1" cy="79.2" r="2.5"/><circle cx="423.1" cy="94.2" r="2.5"/><circle cx="427.1" cy="92.7" r="2.5"/><circle cx="427.1" cy="85.2" r="2.5"/><circle cx="435.1" cy="82.0" r="2.5"/><circle cx="441.1" cy="83.5" r="2.5"/><circle cx="437.1" cy="80.7" r="2.5"/><circle cx="435.1" cy="87.8" r="2.5"/><circle cx="439.1" cy="88.2" r="2.5"/><circle cx="439.1" cy="85.9" r="2.5"/><circle cx="439.1" cy="89.8" r="2.5"/><circle cx="437.1" cy="87.8" r="2.5"/><circle cx="441.1" cy="81.9" r="2.5"/><circle cx="433.1" cy="93.0" r="2.5"/><circle cx="439.1" cy="84.8" r="2.5"/><circle cx="443.1" cy="94.1" r="2.5"/><circle cx="441.1" cy="90.5" r="2.5"/><circle cx="433.1" cy="93.0" r="2.5"/><circle cx="435.1" cy="83.0" r="2.5"/><circle cx="443.1" cy="91.0" r="2.5"/><circle cx="433.1" cy="87.3" r="2.5"/><circle cx="437.1" cy="91.5" r="2.5"/><circle cx="435.1" cy="77.6" r="2.5"/><circle cx="439.1" cy="84.9" r="2.5"/><circle cx="439.1" cy="87.9" r="2.5"/><circle cx="441.1" cy="89.6" r="2.5"/><circle cx="443.1" cy="89.0" r="2.5"/><circle cx="443.1" cy="85.6" r="2.5"/><circle cx="437.1" cy="96.3" r="2.5"/><circle cx="439.1" cy="94.6" r="2.5"/><circle cx="437.1" cy="94.3" r="2.5"/><circle cx="439.1" cy="87.2" r="2.5"/><circle cx="435.1" cy="93.2" r="2.5"/><circle cx="439.1" cy="95.1" r="2.5"/><circle cx="435.1" cy="84.2" r="2.5"/><circle cx="435.1" cy="102.5" r="2.5"/><circle cx="433.1" cy="103.2" r="2.5"/><circle cx="443.1" cy="93.0" r="2.5"/><circle cx="453.1" cy="89.7" r="2.5"/><circle cx="447.1" cy="82.8" r="2.5"/><circle cx="451.1" cy="89.5" r="2.5"/><circle cx="445.1" cy="84.0" r="2.5"/><circle cx="445.1" cy="101.6" r="2.5"/><circle cx="447.1" cy="87.0" r="2.5"/><circle cx="449.1" cy="106.9" r="2.5"/><circle cx="463.1" cy="104.6" r="2.5"/><circle cx="459.1" cy="92.3" r="2.5"/><circle cx="457.1" cy="93.0" r="2.5"/><circle cx="455.1" cy="89.3" r="2.5"/><circle cx="451.1" cy="84.0" r="2.5"/><circle cx="445.1" cy="96.4" r="2.5"/><circle cx="457.1" cy="105.6" r="2.5"/><circle cx="453.1" cy="100.0" r="2.5"/><circle cx="451.1" cy="98.8" r="2.5"/><circle cx="459.1" cy="100.7" r="2.5"/><circle cx="445.1" cy="99.3" r="2.5"/><circle cx="451.1" cy="99.7" r="2.5"/><circle cx="459.1" cy="96.6" r="2.5"/><circle cx="457.1" cy="91.7" r="2.5"/><circle cx="457.1" cy="97.8" r="2.5"/><circle cx="461.1" cy="99.4" r="2.5"/><circle cx="449.1" cy="80.3" r="2.5"/><circle cx="461.1" cy="85.6" r="2.5"/><circle cx="457.1" cy="108.5" r="2.5"/><circle cx="445.1" cy="87.4" r="2.5"/><circle cx="447.1" cy="75.2" r="2.5"/><circle cx="459.1" cy="92.3" r="2.5"/><circle cx="449.1" cy="102.4" r="2.5"/><circle cx="451.1" cy="86.2" r="2.5"/><circle cx="453.1" cy="80.0" r="2.5"/><circle cx="453.1" cy="90.4" r="2.5"/><circle cx="453.1" cy="109.1" r="2.5"/><circle cx="451.1" cy="103.9" r="2.5"/><circle cx="451.1" cy="92.4" r="2.5"/><circle cx="449.1" cy="96.3" r="2.5"/><circle cx="453.1" cy="108.1" r="2.5"/><circle cx="449.1" cy="93.6" r="2.5"/><circle cx="461.1" cy="83.9" r="2.5"/><circle cx="459.1" cy="106.8" r="2.5"/><circle cx="447.1" cy="86.4" r="2.5"/><circle cx="457.1" cy="100.0" r="2.5"/><circle cx="457.1" cy="87.9" r="2.5"/><circle cx="455.1" cy="94.3" r="2.5"/><circle cx="451.1" cy="82.8" r="2.5"/><circle cx="445.1" cy="87.9" r="2.5"/><circle cx="453.1" cy="115.7" r="2.5"/><circle cx="463.1" cy="90.3" r="2.5"/><circle cx="445.1" cy="93.2" r="2.5"/><circle cx="453.1" cy="102.1" r="2.5"/><circle cx="461.1" cy="97.7" r="2.5"/><circle cx="459.1" cy="89.7" r="2.5"/><circle cx="445.1" cy="81.2" r="2.5"/><circle cx="453.1" cy="87.0" r="2.5"/><circle cx="451.1" cy="95.8" r="2.5"/><circle cx="449.1" cy="84.4" r="2.5"/><circle cx="459.1" cy="95.3" r="2.5"/><circle cx="451.1" cy="99.2" r="2.5"/><circle cx="447.1" cy="106.6" r="2.5"/><circle cx="469.1" cy="103.6" r="2.5"/><circle cx="465.1" cy="87.2" r="2.5"/><circle cx="469.1" cy="111.6" r="2.5"/><circle cx="473.1" cy="97.6" r="2.5"/><circle cx="467.1" cy="100.2" r="2.5"/><circle cx="465.1" cy="106.7" r="2.5"/><circle cx="467.1" cy="86.8" r="2.5"/><circle cx="465.1" cy="91.9" r="2.5"/><circle cx="467.1" cy="96.1" r="2.5"/><circle cx="473.1" cy="114.3" r="2.5"/><circle cx="471.1" cy="103.5" r="2.5"/><circle cx="469.1" cy="92.2" r="2.5"/><circle cx="475.1" cy="109.4" r="2.5"/><circle cx="465.1" cy="101.0" r="2.5"/><circle cx="471.1" cy="92.8" r="2.5"/><circle cx="467.1" cy="98.3" r="2.5"/><circle cx="467.1" cy="104.2" r="2.5"/><circle cx="475.1" cy="96.9" r="2.5"/><circle cx="485.1" cy="115.2" r="2.5"/><circle cx="485.1" cy="124.9" r="2.5"/><circle cx="485.1" cy="105.9" r="2.5"/><circle cx="485.1" cy="103.1" r="2.5"/><circle cx="485.1" cy="108.3" r="2.5"/><circle cx="485.1" cy="104.7" r="2.5"/><circle cx="485.1" cy="105.4" r="2.5"/><circle cx="485.1" cy="113.5" r="2.5"/><circle cx="487.1" cy="118.4" r="2.5"/><circle cx="487.1" cy="111.6" r="2.5"/><circle cx="487.1" cy="118.3" r="2.5"/><circle cx="487.1" cy="114.6" r="2.5"/><circle cx="487.1" cy="110.6" r="2.5"/><circle cx="347.1" cy="49.3" r="2.5"/><circle cx="347.1" cy="53.0" r="2.5"/><circle cx="347.1" cy="57.0" r="2.5"/><circle cx="353.1" cy="47.8" r="2.5"/><circle cx="357.1" cy="52.3" r="2.5"/><circle cx="357.1" cy="54.9" r="2.5"/><circle cx="371.1" cy="49.7" r="2.5"/><circle cx="373.1" cy="54.9" r="2.5"/><circle cx="375.1" cy="60.1" r="2.5"/><circle cx="362.1" cy="60.8" r="2.5"/><circle cx="365.9" cy="59.5" r="2.5"/><circle cx="385.1" cy="58.8" r="2.5"/><circle cx="381.1" cy="62.0" r="2.5"/><circle cx="391.1" cy="62.0" r="2.5"/><circle cx="401.1" cy="54.0" r="2.5"/><circle cx="409.1" cy="62.0" r="2.5"/><circle cx="424.3" cy="56.2" r="2.5"/><circle cx="437.1" cy="61.7" r="2.5"/><circle cx="437.1" cy="65.3" r="2.5"/><circle cx="337.1" cy="111.0" r="2.5"/><circle cx="341.1" cy="106.5" r="2.5"/><circle cx="343.1" cy="103.9" r="2.5"/><circle cx="335.1" cy="100.0" r="2.5"/><circle cx="359.1" cy="97.4" r="2.5"/><circle cx="359.1" cy="93.5" r="2.5"/><circle cx="381.1" cy="99.6" r="2.5"/><circle cx="385.1" cy="98.0" r="2.5"/><circle cx="389.1" cy="91.6" r="2.5"/><circle cx="395.1" cy="91.3" r="2.5"/><circle cx="417.1" cy="97.4" r="2.5"/><circle cx="417.1" cy="102.6" r="2.5"/><circle cx="427.1" cy="100.3" r="2.5"/><circle cx="431.1" cy="108.1" r="2.5"/><circle cx="433.1" cy="101.0" r="2.5"/><circle cx="441.1" cy="101.0" r="2.5"/><circle cx="450.1" cy="108.8" r="2.5"/><circle cx="457.1" cy="114.6" r="2.5"/><circle cx="461.1" cy="115.2" r="2.5"/><circle cx="467.1" cy="113.3" r="2.5"/><circle cx="467.1" cy="118.5" r="2.5"/><circle cx="471.1" cy="118.9" r="2.5"/><circle cx="473.1" cy="108.1" r="2.5"/><circle cx="471.1" cy="94.5" r="2.5"/><circle cx="477.1" cy="96.0" r="2.5"/><circle cx="481.1" cy="97.0" r="2.5"/><circle cx="485.7" cy="89.5" r="2.5"/><circle cx="487.1" cy="88.3" r="2.5"/><circle cx="495.1" cy="104.6" r="2.5"/><circle cx="485.7" cy="128.6" r="2.5"/><circle cx="485.7" cy="124.0" r="2.5"/><circle cx="485.7" cy="120.0" r="2.5"/><circle cx="485.7" cy="116.0" r="2.5"/><circle cx="485.7" cy="93.0" r="2.5"/><circle cx="485.7" cy="97.0" r="2.5"/><circle cx="485.7" cy="100.5" r="2.5"/><circle cx="487.1" cy="122.0" r="2.5"/><circle cx="487.1" cy="118.0" r="2.5"/></g>
<g fill="#000"><rect x="324" y="79.38" width="1.25" height="1.25"/><rect x="326" y="78.88" width="1.25" height="1.25"/><rect x="328" y="78.38" width="1.25" height="1.25"/><rect x="330" y="77.88" width="1.25" height="1.25"/><rect x="332" y="77.38" width="1.25" height="1.25"/><rect x="364" y="73.88" width="1.25" height="1.25"/><rect x="366" y="73.88" width="1.25" height="1.25"/><rect x="368" y="73.88" width="1.25" height="1.25"/><rect x="376" y="73.88" width="1.25" height="1.25"/><rect x="378" y="74.38" width="1.25" height="1.25"/><rect x="398" y="76.38" width="1.25" height="1.25"/><rect x="400" y="76.38" width="1.25" height="1.25"/><rect x="402" y="76.88" width="1.25" height="1.25"/><rect x="404" y="77.38" width="1.25" height="1.25"/><rect x="410" y="78.38" width="1.25" height="1.25"/><rect x="412" y="78.88" width="1.25" height="1.25"/><rect x="414" y="79.38" width="1.25" height="1.25"/><rect x="416" y="79.88" width="1.25" height="1.25"/><rect x="430" y="83.88" width="1.25" height="1.25"/><rect x="446" y="89.88" width="1.25" height="1.25"/><rect x="474" y="103.88" width="1.25" height="1.25"/><rect x="476" y="104.88" width="1.25" height="1.25"/><rect x="478" y="106.38" width="1.25" height="1.25"/><rect x="480" y="107.38" width="1.25" height="1.25"/><rect x="482" y="108.38" width="1.25" height="1.25"/><rect x="490" y="113.38" width="1.25" height="1.25"/><rect x="492" y="114.88" width="1.25" height="1.25"/><rect x="494" y="116.38" width="1.25" height="1.25"/><rect x="496" y="117.38" width="1.25" height="1.25"/><rect x="498" y="118.88" width="1.25" height="1.25"/><rect x="500" y="120.38" width="1.25" height="1.25"/><rect x="502" y="121.88" width="1.25" height="1.25"/><rect x="504" y="123.38" width="1.25" height="1.25"/><rect x="506" y="124.88" width="1.25" height="1.25"/></g>
<g fill="#b4b4b4"><rect x="334.1" y="77.05" width="0.9" height="0.9"/><rect x="336.1" y="77.05" width="0.9" height="0.9"/><rect x="338.1" y="76.55" width="0.9" height="0.9"/><rect x="340.1" y="76.05" width="0.9" height="0.9"/><rect x="342.1" y="76.05" width="0.9" height="0.9"/><rect x="344.1" y="75.55" width="0.9" height="0.9"/><rect x="346.1" y="75.55" width="0.9" height="0.9"/><rect x="348.1" y="75.05" width="0.9" height="0.9"/><rect x="350.1" y="75.05" width="0.9" height="0.9"/><rect x="352.1" y="75.05" width="0.9" height="0.9"/><rect x="354.1" y="74.55" width="0.9" height="0.9"/><rect x="356.1" y="74.55" width="0.9" height="0.9"/><rect x="358.1" y="74.55" width="0.9" height="0.9"/><rect x="360.1" y="74.05" width="0.9" height="0.9"/><rect x="362.1" y="74.05" width="0.9" height="0.9"/><rect x="370.1" y="74.05" width="0.9" height="0.9"/><rect x="372.1" y="74.05" width="0.9" height="0.9"/><rect x="374.1" y="74.05" width="0.9" height="0.9"/><rect x="380.1" y="74.55" width="0.9" height="0.9"/><rect x="382.1" y="74.55" width="0.9" height="0.9"/><rect x="384.1" y="74.55" width="0.9" height="0.9"/><rect x="386.1" y="75.05" width="0.9" height="0.9"/><rect x="388.1" y="75.05" width="0.9" height="0.9"/><rect x="390.1" y="75.55" width="0.9" height="0.9"/><rect x="392.1" y="75.55" width="0.9" height="0.9"/><rect x="394.1" y="76.05" width="0.9" height="0.9"/><rect x="396.1" y="76.05" width="0.9" height="0.9"/><rect x="406.1" y="78.05" width="0.9" height="0.9"/><rect x="408.1" y="78.55" width="0.9" height="0.9"/><rect x="418.1" y="80.55" width="0.9" height="0.9"/><rect x="420.1" y="81.05" width="0.9" height="0.9"/><rect x="422.1" y="82.05" width="0.9" height="0.9"/><rect x="424.1" y="82.55" width="0.9" height="0.9"/><rect x="426.1" y="83.05" width="0.9" height="0.9"/><rect x="428.1" y="83.55" width="0.9" height="0.9"/><rect x="432.1" y="85.05" width="0.9" height="0.9"/><rect x="434.1" y="85.55" width="0.9" height="0.9"/><rect x="436.1" y="86.55" width="0.9" height="0.9"/><rect x="438.1" y="87.05" width="0.9" height="0.9"/><rect x="440.1" y="88.05" width="0.9" height="0.9"/><rect x="442.1" y="88.55" width="0.9" height="0.9"/><rect x="444.1" y="89.55" width="0.9" height="0.9"/><rect x="448.1" y="91.05" width="0.9" height="0.9"/><rect x="450.1" y="92.05" width="0.9" height="0.9"/><rect x="452.1" y="93.05" width="0.9" height="0.9"/><rect x="454.1" y="93.55" width="0.9" height="0.9"/><rect x="456.1" y="94.55" width="0.9" height="0.9"/><rect x="458.1" y="95.55" width="0.9" height="0.9"/><rect x="460.1" y="96.55" width="0.9" height="0.9"/><rect x="462.1" y="97.55" width="0.9" height="0.9"/><rect x="464.1" y="98.55" width="0.9" height="0.9"/><rect x="466.1" y="99.55" width="0.9" height="0.9"/><rect x="468.1" y="100.55" width="0.9" height="0.9"/><rect x="470.1" y="101.55" width="0.9" height="0.9"/><rect x="472.1" y="103.05" width="0.9" height="0.9"/><rect x="484.1" y="110.05" width="0.9" height="0.9"/><rect x="486.1" y="111.05" width="0.9" height="0.9"/><rect x="488.1" y="112.55" width="0.9" height="0.9"/></g>
<g class="fd"><circle cx="600.4" cy="67.7" r="2.5"/><circle cx="598.4" cy="63.3" r="2.5"/><circle cx="600.4" cy="99.3" r="2.5"/><circle cx="598.4" cy="65.1" r="2.5"/><circle cx="598.4" cy="70.0" r="2.5"/><circle cx="598.4" cy="74.9" r="2.5"/><circle cx="598.4" cy="88.8" r="2.5"/><circle cx="598.4" cy="86.5" r="2.5"/><circle cx="598.4" cy="56.2" r="2.5"/><circle cx="600.4" cy="83.6" r="2.5"/><circle cx="602.4" cy="74.2" r="2.5"/><circle cx="598.4" cy="63.1" r="2.5"/><circle cx="598.4" cy="80.5" r="2.5"/><circle cx="598.4" cy="90.9" r="2.5"/><circle cx="600.4" cy="83.7" r="2.5"/><circle cx="600.4" cy="95.7" r="2.5"/><circle cx="600.4" cy="73.6" r="2.5"/><circle cx="602.4" cy="75.6" r="2.5"/><circle cx="600.4" cy="97.1" r="2.5"/><circle cx="602.4" cy="86.2" r="2.5"/><circle cx="598.4" cy="65.8" r="2.5"/><circle cx="600.4" cy="65.5" r="2.5"/><circle cx="598.4" cy="72.2" r="2.5"/><circle cx="602.4" cy="97.4" r="2.5"/><circle cx="600.4" cy="76.8" r="2.5"/><circle cx="600.4" cy="87.2" r="2.5"/><circle cx="598.4" cy="67.2" r="2.5"/><circle cx="602.4" cy="58.9" r="2.5"/><circle cx="600.4" cy="105.4" r="2.5"/><circle cx="600.4" cy="73.3" r="2.5"/><circle cx="602.4" cy="80.3" r="2.5"/><circle cx="600.4" cy="71.2" r="2.5"/><circle cx="598.4" cy="70.9" r="2.5"/><circle cx="602.4" cy="70.8" r="2.5"/><circle cx="600.4" cy="64.4" r="2.5"/><circle cx="602.4" cy="73.5" r="2.5"/><circle cx="600.4" cy="72.5" r="2.5"/><circle cx="600.4" cy="61.9" r="2.5"/><circle cx="600.4" cy="70.6" r="2.5"/><circle cx="598.4" cy="63.2" r="2.5"/><circle cx="598.4" cy="88.5" r="2.5"/><circle cx="600.4" cy="73.9" r="2.5"/><circle cx="602.4" cy="79.7" r="2.5"/><circle cx="598.4" cy="84.7" r="2.5"/><circle cx="602.4" cy="90.0" r="2.5"/><circle cx="600.4" cy="66.2" r="2.5"/><circle cx="602.4" cy="75.7" r="2.5"/><circle cx="600.4" cy="81.2" r="2.5"/><circle cx="600.4" cy="71.4" r="2.5"/><circle cx="598.4" cy="79.2" r="2.5"/><circle cx="602.4" cy="74.4" r="2.5"/><circle cx="598.4" cy="82.3" r="2.5"/><circle cx="598.4" cy="79.8" r="2.5"/><circle cx="600.4" cy="73.5" r="2.5"/><circle cx="600.4" cy="73.1" r="2.5"/><circle cx="600.4" cy="66.0" r="2.5"/><circle cx="598.4" cy="71.6" r="2.5"/><circle cx="600.4" cy="75.9" r="2.5"/><circle cx="602.4" cy="63.7" r="2.5"/><circle cx="602.4" cy="75.2" r="2.5"/><circle cx="604.4" cy="62.5" r="2.5"/><circle cx="604.4" cy="85.1" r="2.5"/><circle cx="608.4" cy="78.8" r="2.5"/><circle cx="606.4" cy="87.2" r="2.5"/><circle cx="608.4" cy="81.7" r="2.5"/><circle cx="606.4" cy="83.3" r="2.5"/><circle cx="606.4" cy="92.4" r="2.5"/><circle cx="604.4" cy="56.7" r="2.5"/><circle cx="610.4" cy="75.2" r="2.5"/><circle cx="608.4" cy="66.8" r="2.5"/><circle cx="608.4" cy="62.7" r="2.5"/><circle cx="606.4" cy="73.3" r="2.5"/><circle cx="608.4" cy="65.6" r="2.5"/><circle cx="604.4" cy="66.4" r="2.5"/><circle cx="604.4" cy="71.5" r="2.5"/><circle cx="610.4" cy="77.1" r="2.5"/><circle cx="610.4" cy="88.7" r="2.5"/><circle cx="608.4" cy="72.9" r="2.5"/><circle cx="610.4" cy="67.1" r="2.5"/><circle cx="604.4" cy="70.9" r="2.5"/><circle cx="606.4" cy="75.3" r="2.5"/><circle cx="610.4" cy="70.5" r="2.5"/><circle cx="610.4" cy="81.8" r="2.5"/><circle cx="606.4" cy="75.3" r="2.5"/><circle cx="604.4" cy="81.5" r="2.5"/><circle cx="610.4" cy="75.2" r="2.5"/><circle cx="606.4" cy="72.1" r="2.5"/><circle cx="606.4" cy="72.6" r="2.5"/><circle cx="610.4" cy="82.9" r="2.5"/><circle cx="608.4" cy="72.4" r="2.5"/><circle cx="610.4" cy="79.6" r="2.5"/><circle cx="606.4" cy="100.0" r="2.5"/><circle cx="604.4" cy="72.2" r="2.5"/><circle cx="604.4" cy="88.2" r="2.5"/><circle cx="606.4" cy="87.3" r="2.5"/><circle cx="604.4" cy="73.8" r="2.5"/><circle cx="610.4" cy="62.5" r="2.5"/><circle cx="604.4" cy="79.6" r="2.5"/><circle cx="604.4" cy="71.1" r="2.5"/><circle cx="604.4" cy="80.6" r="2.5"/><circle cx="606.4" cy="70.7" r="2.5"/><circle cx="610.4" cy="88.5" r="2.5"/><circle cx="608.4" cy="67.2" r="2.5"/><circle cx="606.4" cy="84.1" r="2.5"/><circle cx="604.4" cy="82.5" r="2.5"/><circle cx="606.4" cy="70.9" r="2.5"/><circle cx="608.4" cy="69.1" r="2.5"/><circle cx="606.4" cy="92.2" r="2.5"/><circle cx="608.4" cy="74.4" r="2.5"/><circle cx="610.4" cy="55.7" r="2.5"/><circle cx="610.4" cy="70.6" r="2.5"/><circle cx="606.4" cy="65.1" r="2.5"/><circle cx="610.4" cy="75.2" r="2.5"/><circle cx="608.4" cy="63.9" r="2.5"/><circle cx="608.4" cy="87.0" r="2.5"/><circle cx="604.4" cy="81.2" r="2.5"/><circle cx="608.4" cy="78.1" r="2.5"/><circle cx="606.4" cy="69.8" r="2.5"/><circle cx="608.4" cy="68.7" r="2.5"/><circle cx="606.4" cy="72.8" r="2.5"/><circle cx="610.4" cy="69.3" r="2.5"/><circle cx="608.4" cy="82.6" r="2.5"/><circle cx="610.4" cy="76.8" r="2.5"/><circle cx="604.4" cy="74.7" r="2.5"/><circle cx="604.4" cy="73.9" r="2.5"/><circle cx="604.4" cy="74.5" r="2.5"/><circle cx="606.4" cy="52.9" r="2.5"/><circle cx="610.4" cy="79.2" r="2.5"/><circle cx="606.4" cy="57.5" r="2.5"/><circle cx="604.4" cy="67.3" r="2.5"/><circle cx="606.4" cy="74.7" r="2.5"/><circle cx="608.4" cy="68.1" r="2.5"/><circle cx="610.4" cy="77.7" r="2.5"/><circle cx="608.4" cy="69.8" r="2.5"/><circle cx="604.4" cy="57.6" r="2.5"/><circle cx="606.4" cy="82.9" r="2.5"/><circle cx="610.4" cy="54.8" r="2.5"/><circle cx="610.4" cy="86.0" r="2.5"/><circle cx="610.4" cy="65.7" r="2.5"/><circle cx="606.4" cy="65.4" r="2.5"/><circle cx="606.4" cy="80.6" r="2.5"/><circle cx="604.4" cy="74.0" r="2.5"/><circle cx="608.4" cy="76.7" r="2.5"/><circle cx="610.4" cy="67.4" r="2.5"/><circle cx="614.4" cy="90.4" r="2.5"/><circle cx="612.4" cy="78.8" r="2.5"/><circle cx="614.4" cy="64.2" r="2.5"/><circle cx="614.4" cy="62.3" r="2.5"/><circle cx="612.4" cy="52.8" r="2.5"/><circle cx="612.4" cy="73.5" r="2.5"/><circle cx="614.4" cy="65.1" r="2.5"/><circle cx="616.4" cy="65.4" r="2.5"/><circle cx="612.4" cy="55.1" r="2.5"/><circle cx="612.4" cy="75.1" r="2.5"/><circle cx="612.4" cy="72.4" r="2.5"/><circle cx="612.4" cy="87.3" r="2.5"/><circle cx="612.4" cy="88.4" r="2.5"/><circle cx="616.4" cy="77.8" r="2.5"/><circle cx="614.4" cy="59.4" r="2.5"/><circle cx="616.4" cy="56.7" r="2.5"/><circle cx="616.4" cy="66.0" r="2.5"/><circle cx="616.4" cy="81.7" r="2.5"/><circle cx="616.4" cy="78.3" r="2.5"/><circle cx="612.4" cy="72.0" r="2.5"/><circle cx="616.4" cy="85.7" r="2.5"/><circle cx="612.4" cy="70.4" r="2.5"/><circle cx="616.4" cy="74.6" r="2.5"/><circle cx="614.4" cy="89.4" r="2.5"/><circle cx="616.4" cy="81.5" r="2.5"/><circle cx="614.4" cy="56.3" r="2.5"/><circle cx="616.4" cy="58.0" r="2.5"/><circle cx="612.4" cy="76.8" r="2.5"/><circle cx="616.4" cy="90.9" r="2.5"/><circle cx="614.4" cy="65.4" r="2.5"/><circle cx="612.4" cy="86.9" r="2.5"/><circle cx="614.4" cy="72.2" r="2.5"/><circle cx="616.4" cy="72.5" r="2.5"/><circle cx="616.4" cy="77.0" r="2.5"/><circle cx="612.4" cy="75.6" r="2.5"/><circle cx="616.4" cy="72.4" r="2.5"/><circle cx="612.4" cy="85.1" r="2.5"/><circle cx="616.4" cy="66.1" r="2.5"/><circle cx="614.4" cy="71.6" r="2.5"/><circle cx="614.4" cy="89.5" r="2.5"/><circle cx="616.4" cy="55.0" r="2.5"/><circle cx="614.4" cy="62.4" r="2.5"/><circle cx="616.4" cy="63.8" r="2.5"/><circle cx="614.4" cy="85.0" r="2.5"/><circle cx="612.4" cy="69.0" r="2.5"/><circle cx="616.4" cy="71.8" r="2.5"/><circle cx="622.4" cy="59.2" r="2.5"/><circle cx="620.4" cy="66.9" r="2.5"/><circle cx="620.4" cy="53.2" r="2.5"/><circle cx="620.4" cy="70.6" r="2.5"/><circle cx="622.4" cy="80.6" r="2.5"/><circle cx="620.4" cy="63.1" r="2.5"/><circle cx="620.4" cy="66.5" r="2.5"/><circle cx="618.4" cy="92.0" r="2.5"/><circle cx="618.4" cy="72.7" r="2.5"/><circle cx="620.4" cy="74.2" r="2.5"/><circle cx="622.4" cy="61.0" r="2.5"/><circle cx="620.4" cy="60.3" r="2.5"/><circle cx="618.4" cy="78.4" r="2.5"/><circle cx="626.4" cy="78.6" r="2.5"/><circle cx="632.4" cy="68.8" r="2.5"/><circle cx="636.4" cy="52.7" r="2.5"/><circle cx="636.4" cy="77.0" r="2.5"/><circle cx="632.4" cy="87.7" r="2.5"/><circle cx="624.4" cy="72.7" r="2.5"/><circle cx="632.4" cy="75.9" r="2.5"/><circle cx="628.4" cy="94.5" r="2.5"/><circle cx="632.4" cy="67.8" r="2.5"/><circle cx="628.4" cy="66.6" r="2.5"/><circle cx="634.4" cy="63.6" r="2.5"/><circle cx="634.4" cy="73.0" r="2.5"/><circle cx="634.4" cy="65.2" r="2.5"/><circle cx="626.4" cy="65.6" r="2.5"/><circle cx="636.4" cy="70.8" r="2.5"/><circle cx="628.4" cy="68.1" r="2.5"/><circle cx="626.4" cy="75.6" r="2.5"/><circle cx="626.4" cy="75.3" r="2.5"/><circle cx="626.4" cy="74.4" r="2.5"/><circle cx="626.4" cy="57.3" r="2.5"/><circle cx="630.4" cy="87.2" r="2.5"/><circle cx="626.4" cy="66.2" r="2.5"/><circle cx="624.4" cy="72.4" r="2.5"/><circle cx="628.4" cy="69.1" r="2.5"/><circle cx="634.4" cy="64.0" r="2.5"/><circle cx="624.4" cy="89.6" r="2.5"/><circle cx="630.4" cy="68.9" r="2.5"/><circle cx="628.4" cy="74.7" r="2.5"/><circle cx="624.4" cy="84.0" r="2.5"/><circle cx="636.4" cy="63.1" r="2.5"/><circle cx="656.4" cy="81.6" r="2.5"/><circle cx="654.4" cy="67.2" r="2.5"/><circle cx="644.4" cy="90.8" r="2.5"/><circle cx="642.4" cy="85.2" r="2.5"/><circle cx="660.4" cy="78.8" r="2.5"/><circle cx="652.4" cy="83.3" r="2.5"/><circle cx="638.4" cy="65.0" r="2.5"/><circle cx="638.4" cy="80.9" r="2.5"/><circle cx="642.4" cy="82.2" r="2.5"/><circle cx="650.4" cy="81.6" r="2.5"/><circle cx="640.4" cy="79.8" r="2.5"/><circle cx="644.4" cy="57.1" r="2.5"/><circle cx="656.4" cy="65.6" r="2.5"/><circle cx="652.4" cy="73.9" r="2.5"/><circle cx="644.4" cy="68.7" r="2.5"/><circle cx="644.4" cy="68.0" r="2.5"/><circle cx="658.4" cy="72.9" r="2.5"/><circle cx="652.4" cy="67.8" r="2.5"/><circle cx="640.4" cy="81.2" r="2.5"/><circle cx="648.4" cy="61.4" r="2.5"/><circle cx="648.4" cy="71.7" r="2.5"/><circle cx="650.4" cy="79.0" r="2.5"/><circle cx="660.4" cy="60.6" r="2.5"/><circle cx="652.4" cy="72.6" r="2.5"/><circle cx="644.4" cy="73.7" r="2.5"/><circle cx="662.4" cy="67.9" r="2.5"/><circle cx="656.4" cy="79.3" r="2.5"/><circle cx="644.4" cy="81.9" r="2.5"/><circle cx="638.4" cy="68.8" r="2.5"/><circle cx="650.4" cy="73.8" r="2.5"/><circle cx="656.4" cy="72.5" r="2.5"/><circle cx="638.4" cy="68.8" r="2.5"/><circle cx="660.4" cy="62.2" r="2.5"/><circle cx="640.4" cy="78.6" r="2.5"/><circle cx="642.4" cy="78.9" r="2.5"/><circle cx="652.4" cy="76.0" r="2.5"/><circle cx="650.4" cy="65.1" r="2.5"/><circle cx="652.4" cy="72.8" r="2.5"/><circle cx="672.4" cy="69.0" r="2.5"/><circle cx="666.4" cy="89.3" r="2.5"/><circle cx="676.4" cy="79.5" r="2.5"/><circle cx="676.4" cy="66.2" r="2.5"/><circle cx="670.4" cy="80.5" r="2.5"/><circle cx="670.4" cy="75.2" r="2.5"/><circle cx="678.4" cy="71.0" r="2.5"/><circle cx="684.4" cy="80.6" r="2.5"/><circle cx="664.4" cy="85.9" r="2.5"/><circle cx="664.4" cy="69.3" r="2.5"/><circle cx="682.4" cy="79.1" r="2.5"/><circle cx="682.4" cy="67.4" r="2.5"/><circle cx="690.4" cy="78.6" r="2.5"/><circle cx="694.4" cy="78.4" r="2.5"/><circle cx="686.4" cy="75.7" r="2.5"/><circle cx="692.4" cy="88.2" r="2.5"/><circle cx="692.4" cy="87.7" r="2.5"/><circle cx="692.4" cy="74.3" r="2.5"/><circle cx="686.4" cy="83.4" r="2.5"/><circle cx="688.4" cy="87.6" r="2.5"/><circle cx="690.4" cy="90.4" r="2.5"/><circle cx="694.4" cy="78.2" r="2.5"/><circle cx="688.4" cy="79.3" r="2.5"/><circle cx="686.4" cy="87.6" r="2.5"/><circle cx="688.4" cy="70.2" r="2.5"/><circle cx="686.4" cy="78.8" r="2.5"/><circle cx="686.4" cy="69.9" r="2.5"/><circle cx="688.4" cy="86.6" r="2.5"/><circle cx="688.4" cy="76.9" r="2.5"/><circle cx="686.4" cy="92.0" r="2.5"/><circle cx="690.4" cy="90.4" r="2.5"/><circle cx="690.4" cy="82.9" r="2.5"/><circle cx="698.4" cy="79.7" r="2.5"/><circle cx="704.4" cy="81.2" r="2.5"/><circle cx="700.4" cy="78.4" r="2.5"/><circle cx="698.4" cy="85.5" r="2.5"/><circle cx="702.4" cy="85.9" r="2.5"/><circle cx="702.4" cy="83.6" r="2.5"/><circle cx="702.4" cy="87.6" r="2.5"/><circle cx="700.4" cy="85.5" r="2.5"/><circle cx="704.4" cy="79.6" r="2.5"/><circle cx="696.4" cy="90.7" r="2.5"/><circle cx="702.4" cy="82.5" r="2.5"/><circle cx="706.4" cy="91.8" r="2.5"/><circle cx="704.4" cy="88.3" r="2.5"/><circle cx="696.4" cy="90.7" r="2.5"/><circle cx="698.4" cy="80.7" r="2.5"/><circle cx="706.4" cy="88.7" r="2.5"/><circle cx="696.4" cy="85.0" r="2.5"/><circle cx="700.4" cy="89.3" r="2.5"/><circle cx="698.4" cy="75.3" r="2.5"/><circle cx="702.4" cy="82.6" r="2.5"/><circle cx="702.4" cy="85.6" r="2.5"/><circle cx="704.4" cy="87.3" r="2.5"/><circle cx="706.4" cy="86.7" r="2.5"/><circle cx="706.4" cy="83.3" r="2.5"/><circle cx="700.4" cy="94.0" r="2.5"/><circle cx="702.4" cy="92.3" r="2.5"/><circle cx="700.4" cy="92.1" r="2.5"/><circle cx="702.4" cy="84.9" r="2.5"/><circle cx="698.4" cy="90.9" r="2.5"/><circle cx="702.4" cy="92.8" r="2.5"/><circle cx="698.4" cy="81.9" r="2.5"/><circle cx="698.4" cy="100.3" r="2.5"/><circle cx="696.4" cy="100.9" r="2.5"/><circle cx="706.4" cy="90.7" r="2.5"/><circle cx="716.4" cy="87.4" r="2.5"/><circle cx="710.4" cy="80.5" r="2.5"/><circle cx="714.4" cy="87.3" r="2.5"/><circle cx="708.4" cy="81.7" r="2.5"/><circle cx="708.4" cy="99.3" r="2.5"/><circle cx="710.4" cy="84.7" r="2.5"/><circle cx="712.4" cy="104.7" r="2.5"/><circle cx="726.4" cy="102.3" r="2.5"/><circle cx="722.4" cy="90.0" r="2.5"/><circle cx="720.4" cy="90.7" r="2.5"/><circle cx="718.4" cy="87.0" r="2.5"/><circle cx="714.4" cy="81.7" r="2.5"/><circle cx="708.4" cy="94.1" r="2.5"/><circle cx="720.4" cy="103.3" r="2.5"/><circle cx="716.4" cy="97.7" r="2.5"/><circle cx="714.4" cy="96.6" r="2.5"/><circle cx="722.4" cy="98.5" r="2.5"/><circle cx="708.4" cy="97.1" r="2.5"/><circle cx="714.4" cy="97.4" r="2.5"/><circle cx="722.4" cy="94.3" r="2.5"/><circle cx="720.4" cy="89.5" r="2.5"/><circle cx="720.4" cy="95.5" r="2.5"/><circle cx="724.4" cy="97.1" r="2.5"/><circle cx="712.4" cy="78.1" r="2.5"/><circle cx="724.4" cy="83.3" r="2.5"/><circle cx="720.4" cy="106.2" r="2.5"/><circle cx="708.4" cy="85.2" r="2.5"/><circle cx="710.4" cy="72.9" r="2.5"/><circle cx="722.4" cy="90.0" r="2.5"/><circle cx="712.4" cy="100.1" r="2.5"/><circle cx="714.4" cy="83.9" r="2.5"/><circle cx="716.4" cy="77.7" r="2.5"/><circle cx="716.4" cy="88.1" r="2.5"/><circle cx="716.4" cy="106.9" r="2.5"/><circle cx="714.4" cy="101.6" r="2.5"/><circle cx="714.4" cy="90.1" r="2.5"/><circle cx="712.4" cy="94.1" r="2.5"/><circle cx="716.4" cy="105.8" r="2.5"/><circle cx="712.4" cy="91.4" r="2.5"/><circle cx="724.4" cy="81.6" r="2.5"/><circle cx="722.4" cy="104.5" r="2.5"/><circle cx="710.4" cy="84.1" r="2.5"/><circle cx="720.4" cy="97.8" r="2.5"/><circle cx="720.4" cy="85.6" r="2.5"/><circle cx="718.4" cy="92.0" r="2.5"/><circle cx="714.4" cy="80.5" r="2.5"/><circle cx="708.4" cy="85.6" r="2.5"/><circle cx="716.4" cy="113.4" r="2.5"/><circle cx="726.4" cy="88.1" r="2.5"/><circle cx="708.4" cy="91.0" r="2.5"/><circle cx="716.4" cy="99.8" r="2.5"/><circle cx="724.4" cy="95.5" r="2.5"/><circle cx="722.4" cy="87.5" r="2.5"/><circle cx="708.4" cy="78.9" r="2.5"/><circle cx="716.4" cy="84.7" r="2.5"/><circle cx="714.4" cy="93.5" r="2.5"/><circle cx="712.4" cy="82.1" r="2.5"/><circle cx="722.4" cy="93.0" r="2.5"/><circle cx="714.4" cy="96.9" r="2.5"/><circle cx="710.4" cy="104.3" r="2.5"/><circle cx="732.4" cy="101.4" r="2.5"/><circle cx="728.4" cy="84.9" r="2.5"/><circle cx="732.4" cy="109.4" r="2.5"/><circle cx="736.4" cy="95.3" r="2.5"/><circle cx="730.4" cy="98.0" r="2.5"/><circle cx="728.4" cy="104.4" r="2.5"/><circle cx="730.4" cy="84.5" r="2.5"/><circle cx="728.4" cy="89.6" r="2.5"/><circle cx="730.4" cy="93.8" r="2.5"/><circle cx="736.4" cy="112.0" r="2.5"/><circle cx="734.4" cy="101.2" r="2.5"/><circle cx="732.4" cy="89.9" r="2.5"/><circle cx="738.4" cy="107.1" r="2.5"/><circle cx="728.4" cy="98.7" r="2.5"/><circle cx="734.4" cy="90.5" r="2.5"/><circle cx="730.4" cy="96.0" r="2.5"/><circle cx="730.4" cy="101.9" r="2.5"/><circle cx="738.4" cy="94.6" r="2.5"/><circle cx="748.4" cy="112.9" r="2.5"/><circle cx="748.4" cy="122.6" r="2.5"/><circle cx="748.4" cy="103.6" r="2.5"/><circle cx="748.4" cy="100.9" r="2.5"/><circle cx="748.4" cy="106.0" r="2.5"/><circle cx="748.4" cy="102.4" r="2.5"/><circle cx="748.4" cy="103.2" r="2.5"/><circle cx="748.4" cy="111.2" r="2.5"/><circle cx="750.4" cy="116.1" r="2.5"/><circle cx="750.4" cy="109.3" r="2.5"/><circle cx="750.4" cy="116.0" r="2.5"/><circle cx="750.4" cy="112.3" r="2.5"/><circle cx="750.4" cy="108.3" r="2.5"/><circle cx="610.4" cy="47.0" r="2.5"/><circle cx="610.4" cy="50.7" r="2.5"/><circle cx="610.4" cy="54.7" r="2.5"/><circle cx="616.4" cy="45.5" r="2.5"/><circle cx="620.4" cy="50.0" r="2.5"/><circle cx="620.4" cy="52.6" r="2.5"/><circle cx="634.4" cy="47.4" r="2.5"/><circle cx="636.4" cy="52.6" r="2.5"/><circle cx="638.4" cy="57.8" r="2.5"/><circle cx="625.4" cy="58.5" r="2.5"/><circle cx="629.2" cy="57.2" r="2.5"/><circle cx="648.4" cy="56.5" r="2.5"/><circle cx="644.4" cy="59.7" r="2.5"/><circle cx="654.4" cy="59.7" r="2.5"/><circle cx="664.4" cy="51.7" r="2.5"/><circle cx="672.4" cy="59.7" r="2.5"/><circle cx="687.6" cy="53.9" r="2.5"/><circle cx="700.4" cy="59.4" r="2.5"/><circle cx="700.4" cy="63.0" r="2.5"/><circle cx="600.4" cy="108.7" r="2.5"/><circle cx="604.4" cy="104.2" r="2.5"/><circle cx="606.4" cy="101.6" r="2.5"/><circle cx="598.4" cy="97.7" r="2.5"/><circle cx="622.4" cy="95.1" r="2.5"/><circle cx="622.4" cy="91.2" r="2.5"/><circle cx="644.4" cy="97.3" r="2.5"/><circle cx="648.4" cy="95.7" r="2.5"/><circle cx="652.4" cy="89.3" r="2.5"/><circle cx="658.4" cy="89.0" r="2.5"/><circle cx="680.4" cy="95.1" r="2.5"/><circle cx="680.4" cy="100.3" r="2.5"/><circle cx="690.4" cy="98.0" r="2.5"/><circle cx="694.4" cy="105.8" r="2.5"/><circle cx="696.4" cy="98.7" r="2.5"/><circle cx="704.4" cy="98.7" r="2.5"/><circle cx="713.4" cy="106.5" r="2.5"/><circle cx="720.4" cy="112.3" r="2.5"/><circle cx="724.4" cy="112.9" r="2.5"/><circle cx="730.4" cy="111.0" r="2.5"/><circle cx="730.4" cy="116.2" r="2.5"/><circle cx="734.4" cy="116.6" r="2.5"/><circle cx="736.4" cy="105.8" r="2.5"/><circle cx="734.4" cy="92.2" r="2.5"/><circle cx="740.4" cy="93.7" r="2.5"/><circle cx="744.4" cy="94.7" r="2.5"/><circle cx="749.0" cy="87.2" r="2.5"/><circle cx="750.4" cy="86.0" r="2.5"/><circle cx="758.4" cy="102.3" r="2.5"/><circle cx="749.0" cy="126.3" r="2.5"/><circle cx="749.0" cy="121.7" r="2.5"/><circle cx="749.0" cy="117.7" r="2.5"/><circle cx="749.0" cy="113.7" r="2.5"/><circle cx="749.0" cy="90.7" r="2.5"/><circle cx="749.0" cy="94.7" r="2.5"/><circle cx="749.0" cy="98.2" r="2.5"/><circle cx="750.4" cy="119.7" r="2.5"/><circle cx="750.4" cy="115.7" r="2.5"/></g>
<g fill="#000"><rect x="587" y="76.88" width="1.25" height="1.25"/><rect x="589" y="76.38" width="1.25" height="1.25"/><rect x="591" y="75.88" width="1.25" height="1.25"/><rect x="593" y="75.88" width="1.25" height="1.25"/><rect x="595" y="75.38" width="1.25" height="1.25"/><rect x="629" y="71.88" width="1.25" height="1.25"/><rect x="631" y="71.88" width="1.25" height="1.25"/><rect x="639" y="71.88" width="1.25" height="1.25"/><rect x="641" y="71.88" width="1.25" height="1.25"/><rect x="661" y="73.88" width="1.25" height="1.25"/><rect x="663" y="74.38" width="1.25" height="1.25"/><rect x="665" y="74.38" width="1.25" height="1.25"/><rect x="667" y="74.88" width="1.25" height="1.25"/><rect x="673" y="76.38" width="1.25" height="1.25"/><rect x="679" y="77.88" width="1.25" height="1.25"/><rect x="693" y="81.88" width="1.25" height="1.25"/><rect x="709" y="87.88" width="1.25" height="1.25"/><rect x="711" y="88.38" width="1.25" height="1.25"/><rect x="727" y="95.88" width="1.25" height="1.25"/><rect x="737" y="101.38" width="1.25" height="1.25"/><rect x="739" y="102.38" width="1.25" height="1.25"/><rect x="741" y="103.88" width="1.25" height="1.25"/><rect x="743" y="104.88" width="1.25" height="1.25"/><rect x="745" y="105.88" width="1.25" height="1.25"/><rect x="753" y="110.88" width="1.25" height="1.25"/><rect x="755" y="112.38" width="1.25" height="1.25"/><rect x="757" y="113.88" width="1.25" height="1.25"/><rect x="759" y="114.88" width="1.25" height="1.25"/><rect x="761" y="116.38" width="1.25" height="1.25"/><rect x="763" y="117.88" width="1.25" height="1.25"/><rect x="765" y="119.38" width="1.25" height="1.25"/><rect x="767" y="120.88" width="1.25" height="1.25"/><rect x="769" y="122.38" width="1.25" height="1.25"/></g>
<g fill="#b4b4b4"><rect x="597.1" y="75.05" width="0.9" height="0.9"/><rect x="599.1" y="74.55" width="0.9" height="0.9"/><rect x="601.1" y="74.55" width="0.9" height="0.9"/><rect x="603.1" y="74.05" width="0.9" height="0.9"/><rect x="605.1" y="73.55" width="0.9" height="0.9"/><rect x="607.1" y="73.55" width="0.9" height="0.9"/><rect x="609.1" y="73.05" width="0.9" height="0.9"/><rect x="611.1" y="73.05" width="0.9" height="0.9"/><rect x="613.1" y="72.55" width="0.9" height="0.9"/><rect x="615.1" y="72.55" width="0.9" height="0.9"/><rect x="617.1" y="72.55" width="0.9" height="0.9"/><rect x="619.1" y="72.05" width="0.9" height="0.9"/><rect x="621.1" y="72.05" width="0.9" height="0.9"/><rect x="623.1" y="72.05" width="0.9" height="0.9"/><rect x="625.1" y="72.05" width="0.9" height="0.9"/><rect x="627.1" y="72.05" width="0.9" height="0.9"/><rect x="633.1" y="72.05" width="0.9" height="0.9"/><rect x="635.1" y="72.05" width="0.9" height="0.9"/><rect x="637.1" y="72.05" width="0.9" height="0.9"/><rect x="643.1" y="72.05" width="0.9" height="0.9"/><rect x="645.1" y="72.05" width="0.9" height="0.9"/><rect x="647.1" y="72.55" width="0.9" height="0.9"/><rect x="649.1" y="72.55" width="0.9" height="0.9"/><rect x="651.1" y="73.05" width="0.9" height="0.9"/><rect x="653.1" y="73.05" width="0.9" height="0.9"/><rect x="655.1" y="73.05" width="0.9" height="0.9"/><rect x="657.1" y="73.55" width="0.9" height="0.9"/><rect x="659.1" y="74.05" width="0.9" height="0.9"/><rect x="669.1" y="75.55" width="0.9" height="0.9"/><rect x="671.1" y="76.05" width="0.9" height="0.9"/><rect x="675.1" y="77.05" width="0.9" height="0.9"/><rect x="677.1" y="77.55" width="0.9" height="0.9"/><rect x="681.1" y="78.55" width="0.9" height="0.9"/><rect x="683.1" y="79.05" width="0.9" height="0.9"/><rect x="685.1" y="79.55" width="0.9" height="0.9"/><rect x="687.1" y="80.05" width="0.9" height="0.9"/><rect x="689.1" y="80.55" width="0.9" height="0.9"/><rect x="691.1" y="81.05" width="0.9" height="0.9"/><rect x="695.1" y="82.55" width="0.9" height="0.9"/><rect x="697.1" y="83.05" width="0.9" height="0.9"/><rect x="699.1" y="84.05" width="0.9" height="0.9"/><rect x="701.1" y="84.55" width="0.9" height="0.9"/><rect x="703.1" y="85.55" width="0.9" height="0.9"/><rect x="705.1" y="86.05" width="0.9" height="0.9"/><rect x="707.1" y="87.05" width="0.9" height="0.9"/><rect x="713.1" y="89.55" width="0.9" height="0.9"/><rect x="715.1" y="90.55" width="0.9" height="0.9"/><rect x="717.1" y="91.55" width="0.9" height="0.9"/><rect x="719.1" y="92.05" width="0.9" height="0.9"/><rect x="721.1" y="93.05" width="0.9" height="0.9"/><rect x="723.1" y="94.05" width="0.9" height="0.9"/><rect x="725.1" y="95.05" width="0.9" height="0.9"/><rect x="729.1" y="97.05" width="0.9" height="0.9"/><rect x="731.1" y="98.05" width="0.9" height="0.9"/><rect x="733.1" y="99.55" width="0.9" height="0.9"/><rect x="735.1" y="100.55" width="0.9" height="0.9"/><rect x="747.1" y="107.55" width="0.9" height="0.9"/><rect x="749.1" y="108.55" width="0.9" height="0.9"/><rect x="751.1" y="110.05" width="0.9" height="0.9"/></g>
<g class="od"><circle cx="72.1" cy="215.6" r="2.12"/><circle cx="72.1" cy="212.3" r="2.12"/><circle cx="72.1" cy="215.6" r="2.12"/><circle cx="76.1" cy="209.0" r="2.12"/><circle cx="76.1" cy="210.6" r="2.12"/><circle cx="76.1" cy="209.0" r="2.12"/><circle cx="76.1" cy="207.3" r="2.12"/><circle cx="72.1" cy="210.6" r="2.12"/><circle cx="76.1" cy="198.9" r="2.12"/><circle cx="76.1" cy="212.3" r="2.12"/><circle cx="72.1" cy="209.0" r="2.12"/><circle cx="74.1" cy="215.6" r="2.12"/><circle cx="72.1" cy="224.0" r="2.12"/><circle cx="72.1" cy="214.0" r="2.12"/><circle cx="74.1" cy="210.6" r="2.12"/><circle cx="74.1" cy="203.9" r="2.12"/><circle cx="72.1" cy="210.6" r="2.12"/><circle cx="76.1" cy="210.6" r="2.12"/><circle cx="76.1" cy="200.6" r="2.12"/><circle cx="76.1" cy="209.0" r="2.12"/><circle cx="74.1" cy="210.6" r="2.12"/><circle cx="72.1" cy="215.6" r="2.12"/><circle cx="72.1" cy="202.3" r="2.12"/><circle cx="74.1" cy="217.3" r="2.12"/><circle cx="74.1" cy="229.0" r="2.12"/><circle cx="76.1" cy="212.3" r="2.12"/><circle cx="74.1" cy="203.9" r="2.12"/><circle cx="72.1" cy="215.6" r="2.12"/><circle cx="76.1" cy="210.6" r="2.12"/><circle cx="76.1" cy="215.6" r="2.12"/><circle cx="74.1" cy="217.3" r="2.12"/><circle cx="74.1" cy="200.6" r="2.12"/><circle cx="74.1" cy="210.6" r="2.12"/><circle cx="72.1" cy="214.0" r="2.12"/><circle cx="76.1" cy="219.0" r="2.12"/><circle cx="76.1" cy="210.6" r="2.12"/><circle cx="78.1" cy="215.6" r="2.12"/><circle cx="80.1" cy="203.9" r="2.12"/><circle cx="82.1" cy="205.6" r="2.12"/><circle cx="82.1" cy="214.0" r="2.12"/><circle cx="84.1" cy="219.0" r="2.12"/><circle cx="80.1" cy="212.3" r="2.12"/><circle cx="80.1" cy="214.0" r="2.12"/><circle cx="82.1" cy="217.3" r="2.12"/><circle cx="80.1" cy="214.0" r="2.12"/><circle cx="78.1" cy="205.6" r="2.12"/><circle cx="80.1" cy="229.0" r="2.12"/><circle cx="82.1" cy="212.3" r="2.12"/><circle cx="80.1" cy="197.2" r="2.12"/><circle cx="82.1" cy="209.0" r="2.12"/><circle cx="78.1" cy="195.6" r="2.12"/><circle cx="84.1" cy="214.0" r="2.12"/><circle cx="82.1" cy="215.6" r="2.12"/><circle cx="84.1" cy="203.9" r="2.12"/><circle cx="84.1" cy="214.0" r="2.12"/><circle cx="84.1" cy="203.9" r="2.12"/><circle cx="80.1" cy="215.6" r="2.12"/><circle cx="84.1" cy="217.3" r="2.12"/><circle cx="78.1" cy="205.6" r="2.12"/><circle cx="84.1" cy="214.0" r="2.12"/><circle cx="82.1" cy="205.6" r="2.12"/><circle cx="78.1" cy="217.3" r="2.12"/><circle cx="80.1" cy="205.6" r="2.12"/><circle cx="78.1" cy="219.0" r="2.12"/><circle cx="78.1" cy="200.6" r="2.12"/><circle cx="80.1" cy="215.6" r="2.12"/><circle cx="80.1" cy="215.6" r="2.12"/><circle cx="84.1" cy="224.0" r="2.12"/><circle cx="78.1" cy="220.7" r="2.12"/><circle cx="82.1" cy="227.4" r="2.12"/><circle cx="80.1" cy="205.6" r="2.12"/><circle cx="78.1" cy="212.3" r="2.12"/><circle cx="78.1" cy="210.6" r="2.12"/><circle cx="78.1" cy="202.3" r="2.12"/><circle cx="84.1" cy="219.0" r="2.12"/><circle cx="82.1" cy="205.6" r="2.12"/><circle cx="84.1" cy="200.6" r="2.12"/><circle cx="80.1" cy="212.3" r="2.12"/><circle cx="86.1" cy="209.0" r="2.12"/><circle cx="88.1" cy="220.7" r="2.12"/><circle cx="86.1" cy="220.7" r="2.12"/><circle cx="88.1" cy="200.6" r="2.12"/><circle cx="90.1" cy="209.0" r="2.12"/><circle cx="88.1" cy="220.7" r="2.12"/><circle cx="88.1" cy="198.9" r="2.12"/><circle cx="88.1" cy="222.3" r="2.12"/><circle cx="90.1" cy="219.0" r="2.12"/><circle cx="90.1" cy="217.3" r="2.12"/><circle cx="88.1" cy="202.3" r="2.12"/><circle cx="88.1" cy="212.3" r="2.12"/><circle cx="88.1" cy="205.6" r="2.12"/><circle cx="88.1" cy="205.6" r="2.12"/><circle cx="102.1" cy="212.3" r="2.12"/><circle cx="92.1" cy="210.6" r="2.12"/><circle cx="100.1" cy="207.3" r="2.12"/><circle cx="96.1" cy="207.3" r="2.12"/><circle cx="106.1" cy="212.3" r="2.12"/><circle cx="104.1" cy="207.3" r="2.12"/><circle cx="110.1" cy="212.3" r="2.12"/><circle cx="108.1" cy="209.0" r="2.12"/><circle cx="98.1" cy="220.7" r="2.12"/><circle cx="94.1" cy="209.0" r="2.12"/><circle cx="94.1" cy="215.6" r="2.12"/><circle cx="98.1" cy="210.6" r="2.12"/><circle cx="108.1" cy="215.6" r="2.12"/><circle cx="96.1" cy="207.3" r="2.12"/><circle cx="96.1" cy="214.0" r="2.12"/><circle cx="92.1" cy="212.3" r="2.12"/><circle cx="110.1" cy="205.6" r="2.12"/><circle cx="106.1" cy="209.0" r="2.12"/><circle cx="94.1" cy="205.6" r="2.12"/><circle cx="92.1" cy="205.6" r="2.12"/><circle cx="102.1" cy="209.0" r="2.12"/><circle cx="106.1" cy="212.3" r="2.12"/><circle cx="112.1" cy="207.3" r="2.12"/><circle cx="116.1" cy="202.3" r="2.12"/><circle cx="122.1" cy="198.9" r="2.12"/><circle cx="128.1" cy="200.6" r="2.12"/><circle cx="124.1" cy="214.0" r="2.12"/><circle cx="112.1" cy="205.6" r="2.12"/><circle cx="138.1" cy="214.0" r="2.12"/><circle cx="120.1" cy="209.0" r="2.12"/><circle cx="118.1" cy="214.0" r="2.12"/><circle cx="122.1" cy="219.0" r="2.12"/><circle cx="116.1" cy="200.6" r="2.12"/><circle cx="136.1" cy="214.0" r="2.12"/><circle cx="128.1" cy="209.0" r="2.12"/><circle cx="112.1" cy="214.0" r="2.12"/><circle cx="112.1" cy="207.3" r="2.12"/><circle cx="130.1" cy="195.6" r="2.12"/><circle cx="128.1" cy="212.3" r="2.12"/><circle cx="130.1" cy="214.0" r="2.12"/><circle cx="134.1" cy="202.3" r="2.12"/><circle cx="118.1" cy="214.0" r="2.12"/><circle cx="132.1" cy="207.3" r="2.12"/><circle cx="116.1" cy="212.3" r="2.12"/><circle cx="114.1" cy="214.0" r="2.12"/><circle cx="122.1" cy="214.0" r="2.12"/><circle cx="120.1" cy="212.3" r="2.12"/><circle cx="120.1" cy="210.6" r="2.12"/><circle cx="112.1" cy="207.3" r="2.12"/><circle cx="140.1" cy="205.6" r="2.12"/><circle cx="128.1" cy="214.0" r="2.12"/><circle cx="136.1" cy="209.0" r="2.12"/><circle cx="124.1" cy="203.9" r="2.12"/><circle cx="124.1" cy="209.0" r="2.12"/><circle cx="132.1" cy="220.7" r="2.12"/><circle cx="124.1" cy="210.6" r="2.12"/><circle cx="126.1" cy="210.6" r="2.12"/><circle cx="112.1" cy="205.6" r="2.12"/><circle cx="132.1" cy="209.0" r="2.12"/><circle cx="114.1" cy="197.2" r="2.12"/><circle cx="126.1" cy="205.6" r="2.12"/><circle cx="118.1" cy="209.0" r="2.12"/><circle cx="142.1" cy="207.3" r="2.12"/><circle cx="152.1" cy="203.9" r="2.12"/><circle cx="142.1" cy="217.3" r="2.12"/><circle cx="148.1" cy="203.9" r="2.12"/><circle cx="146.1" cy="207.3" r="2.12"/><circle cx="142.1" cy="210.6" r="2.12"/><circle cx="152.1" cy="210.6" r="2.12"/><circle cx="148.1" cy="217.3" r="2.12"/><circle cx="144.1" cy="202.3" r="2.12"/><circle cx="150.1" cy="214.0" r="2.12"/><circle cx="150.1" cy="209.0" r="2.12"/><circle cx="144.1" cy="217.3" r="2.12"/><circle cx="146.1" cy="202.3" r="2.12"/><circle cx="148.1" cy="212.3" r="2.12"/><circle cx="148.1" cy="209.0" r="2.12"/><circle cx="150.1" cy="214.0" r="2.12"/><circle cx="150.1" cy="207.3" r="2.12"/><circle cx="150.1" cy="212.3" r="2.12"/><circle cx="142.1" cy="203.9" r="2.12"/><circle cx="146.1" cy="217.3" r="2.12"/><circle cx="144.1" cy="219.0" r="2.12"/><circle cx="150.1" cy="203.9" r="2.12"/><circle cx="148.1" cy="214.0" r="2.12"/><circle cx="146.1" cy="210.6" r="2.12"/><circle cx="142.1" cy="207.3" r="2.12"/><circle cx="150.1" cy="207.3" r="2.12"/><circle cx="150.1" cy="198.9" r="2.12"/><circle cx="146.1" cy="222.3" r="2.12"/><circle cx="160.1" cy="214.0" r="2.12"/><circle cx="156.1" cy="215.6" r="2.12"/><circle cx="160.1" cy="209.0" r="2.12"/><circle cx="158.1" cy="210.6" r="2.12"/><circle cx="160.1" cy="212.3" r="2.12"/><circle cx="158.1" cy="210.6" r="2.12"/><circle cx="158.1" cy="217.3" r="2.12"/><circle cx="160.1" cy="217.3" r="2.12"/><circle cx="156.1" cy="212.3" r="2.12"/><circle cx="158.1" cy="207.3" r="2.12"/><circle cx="160.1" cy="205.6" r="2.12"/><circle cx="156.1" cy="224.0" r="2.12"/><circle cx="158.1" cy="205.6" r="2.12"/><circle cx="160.1" cy="217.3" r="2.12"/><circle cx="154.1" cy="215.6" r="2.12"/><circle cx="154.1" cy="203.9" r="2.12"/><circle cx="160.1" cy="209.0" r="2.12"/><circle cx="158.1" cy="214.0" r="2.12"/><circle cx="156.1" cy="203.9" r="2.12"/><circle cx="156.1" cy="209.0" r="2.12"/><circle cx="154.1" cy="210.6" r="2.12"/><circle cx="160.1" cy="209.0" r="2.12"/><circle cx="154.1" cy="210.6" r="2.12"/><circle cx="154.1" cy="219.0" r="2.12"/><circle cx="158.1" cy="214.0" r="2.12"/><circle cx="160.1" cy="215.6" r="2.12"/><circle cx="158.1" cy="198.9" r="2.12"/><circle cx="156.1" cy="215.6" r="2.12"/><circle cx="158.1" cy="197.2" r="2.12"/><circle cx="154.1" cy="207.3" r="2.12"/><circle cx="160.1" cy="214.0" r="2.12"/><circle cx="154.1" cy="210.6" r="2.12"/><circle cx="158.1" cy="215.6" r="2.12"/><circle cx="154.1" cy="215.6" r="2.12"/><circle cx="160.1" cy="210.6" r="2.12"/><circle cx="156.1" cy="205.6" r="2.12"/><circle cx="154.1" cy="207.3" r="2.12"/><circle cx="154.1" cy="209.0" r="2.12"/><circle cx="154.1" cy="200.6" r="2.12"/><circle cx="156.1" cy="217.3" r="2.12"/><circle cx="174.1" cy="207.3" r="2.12"/><circle cx="176.1" cy="207.3" r="2.12"/><circle cx="168.1" cy="224.0" r="2.12"/><circle cx="166.1" cy="219.0" r="2.12"/><circle cx="166.1" cy="214.0" r="2.12"/><circle cx="166.1" cy="217.3" r="2.12"/><circle cx="174.1" cy="217.3" r="2.12"/><circle cx="170.1" cy="219.0" r="2.12"/><circle cx="166.1" cy="212.3" r="2.12"/><circle cx="176.1" cy="210.6" r="2.12"/><circle cx="178.1" cy="198.9" r="2.12"/><circle cx="168.1" cy="225.7" r="2.12"/><circle cx="164.1" cy="212.3" r="2.12"/><circle cx="172.1" cy="219.0" r="2.12"/><circle cx="168.1" cy="210.6" r="2.12"/><circle cx="170.1" cy="217.3" r="2.12"/><circle cx="170.1" cy="207.3" r="2.12"/><circle cx="176.1" cy="212.3" r="2.12"/><circle cx="166.1" cy="225.7" r="2.12"/><circle cx="178.1" cy="215.6" r="2.12"/><circle cx="162.1" cy="207.3" r="2.12"/><circle cx="180.1" cy="209.0" r="2.12"/><circle cx="178.1" cy="212.3" r="2.12"/><circle cx="168.1" cy="224.0" r="2.12"/><circle cx="180.1" cy="215.6" r="2.12"/><circle cx="166.1" cy="209.0" r="2.12"/><circle cx="168.1" cy="217.3" r="2.12"/><circle cx="164.1" cy="215.6" r="2.12"/><circle cx="162.1" cy="219.0" r="2.12"/><circle cx="170.1" cy="205.6" r="2.12"/><circle cx="176.1" cy="207.3" r="2.12"/><circle cx="176.1" cy="207.3" r="2.12"/><circle cx="168.1" cy="207.3" r="2.12"/><circle cx="172.1" cy="202.3" r="2.12"/><circle cx="180.1" cy="215.6" r="2.12"/><circle cx="178.1" cy="222.3" r="2.12"/><circle cx="168.1" cy="209.0" r="2.12"/><circle cx="172.1" cy="227.4" r="2.12"/><circle cx="180.1" cy="229.0" r="2.12"/><circle cx="164.1" cy="215.6" r="2.12"/><circle cx="178.1" cy="217.3" r="2.12"/><circle cx="166.1" cy="210.6" r="2.12"/><circle cx="168.1" cy="210.6" r="2.12"/><circle cx="170.1" cy="215.6" r="2.12"/><circle cx="162.1" cy="198.9" r="2.12"/><circle cx="168.1" cy="210.6" r="2.12"/><circle cx="180.1" cy="200.6" r="2.12"/><circle cx="176.1" cy="212.3" r="2.12"/><circle cx="166.1" cy="203.9" r="2.12"/><circle cx="176.1" cy="212.3" r="2.12"/><circle cx="164.1" cy="219.0" r="2.12"/><circle cx="166.1" cy="207.3" r="2.12"/><circle cx="168.1" cy="214.0" r="2.12"/><circle cx="174.1" cy="205.6" r="2.12"/><circle cx="174.1" cy="202.3" r="2.12"/><circle cx="180.1" cy="224.0" r="2.12"/><circle cx="162.1" cy="214.0" r="2.12"/><circle cx="168.1" cy="219.0" r="2.12"/><circle cx="180.1" cy="225.7" r="2.12"/><circle cx="174.1" cy="229.0" r="2.12"/><circle cx="178.1" cy="215.6" r="2.12"/><circle cx="172.1" cy="203.9" r="2.12"/><circle cx="162.1" cy="203.9" r="2.12"/><circle cx="164.1" cy="205.6" r="2.12"/><circle cx="162.1" cy="207.3" r="2.12"/><circle cx="174.1" cy="205.6" r="2.12"/><circle cx="162.1" cy="205.6" r="2.12"/><circle cx="162.1" cy="202.3" r="2.12"/><circle cx="170.1" cy="203.9" r="2.12"/><circle cx="178.1" cy="214.0" r="2.12"/><circle cx="164.1" cy="212.3" r="2.12"/><circle cx="174.1" cy="214.0" r="2.12"/><circle cx="164.1" cy="215.6" r="2.12"/><circle cx="164.1" cy="205.6" r="2.12"/><circle cx="164.1" cy="220.7" r="2.12"/><circle cx="166.1" cy="210.6" r="2.12"/><circle cx="170.1" cy="210.6" r="2.12"/><circle cx="170.1" cy="217.3" r="2.12"/><circle cx="178.1" cy="210.6" r="2.12"/><circle cx="180.1" cy="207.3" r="2.12"/><circle cx="178.1" cy="207.3" r="2.12"/><circle cx="178.1" cy="222.3" r="2.12"/><circle cx="170.1" cy="205.6" r="2.12"/><circle cx="168.1" cy="212.3" r="2.12"/><circle cx="180.1" cy="215.6" r="2.12"/><circle cx="166.1" cy="202.3" r="2.12"/><circle cx="178.1" cy="219.0" r="2.12"/><circle cx="168.1" cy="207.3" r="2.12"/><circle cx="166.1" cy="200.6" r="2.12"/><circle cx="172.1" cy="217.3" r="2.12"/><circle cx="174.1" cy="212.3" r="2.12"/><circle cx="164.1" cy="219.0" r="2.12"/><circle cx="166.1" cy="215.6" r="2.12"/><circle cx="166.1" cy="207.3" r="2.12"/><circle cx="170.1" cy="222.3" r="2.12"/><circle cx="176.1" cy="222.3" r="2.12"/><circle cx="166.1" cy="202.3" r="2.12"/><circle cx="174.1" cy="212.3" r="2.12"/><circle cx="176.1" cy="224.0" r="2.12"/><circle cx="166.1" cy="198.9" r="2.12"/><circle cx="180.1" cy="209.0" r="2.12"/><circle cx="176.1" cy="219.0" r="2.12"/><circle cx="172.1" cy="219.0" r="2.12"/><circle cx="178.1" cy="207.3" r="2.12"/><circle cx="162.1" cy="219.0" r="2.12"/><circle cx="176.1" cy="229.0" r="2.12"/><circle cx="178.1" cy="210.6" r="2.12"/><circle cx="180.1" cy="210.6" r="2.12"/><circle cx="172.1" cy="209.0" r="2.12"/><circle cx="168.1" cy="200.6" r="2.12"/><circle cx="174.1" cy="215.6" r="2.12"/><circle cx="162.1" cy="224.0" r="2.12"/><circle cx="176.1" cy="210.6" r="2.12"/><circle cx="170.1" cy="203.9" r="2.12"/><circle cx="178.1" cy="220.7" r="2.12"/><circle cx="174.1" cy="224.0" r="2.12"/><circle cx="180.1" cy="210.6" r="2.12"/><circle cx="162.1" cy="219.0" r="2.12"/><circle cx="164.1" cy="220.7" r="2.12"/><circle cx="178.1" cy="209.0" r="2.12"/><circle cx="168.1" cy="214.0" r="2.12"/><circle cx="176.1" cy="215.6" r="2.12"/><circle cx="180.1" cy="230.7" r="2.12"/><circle cx="164.1" cy="203.9" r="2.12"/><circle cx="164.1" cy="207.3" r="2.12"/><circle cx="164.1" cy="220.7" r="2.12"/><circle cx="172.1" cy="219.0" r="2.12"/><circle cx="174.1" cy="220.7" r="2.12"/><circle cx="178.1" cy="210.6" r="2.12"/><circle cx="174.1" cy="209.0" r="2.12"/><circle cx="180.1" cy="207.3" r="2.12"/><circle cx="162.1" cy="212.3" r="2.12"/><circle cx="162.1" cy="215.6" r="2.12"/><circle cx="162.1" cy="205.6" r="2.12"/><circle cx="164.1" cy="222.3" r="2.12"/><circle cx="168.1" cy="207.3" r="2.12"/><circle cx="180.1" cy="215.6" r="2.12"/><circle cx="178.1" cy="219.0" r="2.12"/><circle cx="168.1" cy="215.6" r="2.12"/><circle cx="166.1" cy="222.3" r="2.12"/><circle cx="162.1" cy="209.0" r="2.12"/><circle cx="178.1" cy="222.3" r="2.12"/><circle cx="174.1" cy="212.3" r="2.12"/><circle cx="162.1" cy="215.6" r="2.12"/><circle cx="166.1" cy="214.0" r="2.12"/><circle cx="166.1" cy="202.3" r="2.12"/><circle cx="180.1" cy="210.6" r="2.12"/><circle cx="180.1" cy="217.3" r="2.12"/><circle cx="174.1" cy="230.7" r="2.12"/><circle cx="176.1" cy="209.0" r="2.12"/><circle cx="168.1" cy="195.6" r="2.12"/><circle cx="166.1" cy="219.0" r="2.12"/><circle cx="176.1" cy="217.3" r="2.12"/><circle cx="176.1" cy="210.6" r="2.12"/><circle cx="174.1" cy="219.0" r="2.12"/><circle cx="174.1" cy="219.0" r="2.12"/><circle cx="176.1" cy="198.9" r="2.12"/><circle cx="164.1" cy="209.0" r="2.12"/><circle cx="166.1" cy="197.2" r="2.12"/><circle cx="174.1" cy="217.3" r="2.12"/><circle cx="178.1" cy="209.0" r="2.12"/><circle cx="164.1" cy="203.9" r="2.12"/><circle cx="172.1" cy="220.7" r="2.12"/><circle cx="176.1" cy="215.6" r="2.12"/><circle cx="162.1" cy="212.3" r="2.12"/><circle cx="166.1" cy="212.3" r="2.12"/><circle cx="168.1" cy="214.0" r="2.12"/><circle cx="166.1" cy="220.7" r="2.12"/><circle cx="168.1" cy="209.0" r="2.12"/><circle cx="174.1" cy="227.4" r="2.12"/><circle cx="184.1" cy="217.3" r="2.12"/><circle cx="184.1" cy="214.0" r="2.12"/><circle cx="184.1" cy="225.7" r="2.12"/><circle cx="186.1" cy="220.7" r="2.12"/><circle cx="190.1" cy="219.0" r="2.12"/><circle cx="182.1" cy="200.6" r="2.12"/><circle cx="186.1" cy="219.0" r="2.12"/><circle cx="182.1" cy="227.4" r="2.12"/><circle cx="186.1" cy="224.0" r="2.12"/><circle cx="192.1" cy="215.6" r="2.12"/><circle cx="186.1" cy="202.3" r="2.12"/><circle cx="182.1" cy="200.6" r="2.12"/><circle cx="190.1" cy="219.0" r="2.12"/><circle cx="192.1" cy="222.3" r="2.12"/><circle cx="184.1" cy="210.6" r="2.12"/><circle cx="186.1" cy="222.3" r="2.12"/><circle cx="192.1" cy="207.3" r="2.12"/><circle cx="184.1" cy="225.7" r="2.12"/><circle cx="186.1" cy="217.3" r="2.12"/><circle cx="186.1" cy="225.7" r="2.12"/><circle cx="192.1" cy="217.3" r="2.12"/><circle cx="188.1" cy="222.3" r="2.12"/><circle cx="184.1" cy="207.3" r="2.12"/><circle cx="190.1" cy="210.6" r="2.12"/><circle cx="182.1" cy="227.4" r="2.12"/><circle cx="188.1" cy="210.6" r="2.12"/><circle cx="188.1" cy="210.6" r="2.12"/><circle cx="192.1" cy="225.7" r="2.12"/><circle cx="184.1" cy="219.0" r="2.12"/><circle cx="186.1" cy="220.7" r="2.12"/><circle cx="190.1" cy="222.3" r="2.12"/><circle cx="192.1" cy="217.3" r="2.12"/><circle cx="190.1" cy="214.0" r="2.12"/><circle cx="184.1" cy="217.3" r="2.12"/><circle cx="186.1" cy="217.3" r="2.12"/><circle cx="192.1" cy="200.6" r="2.12"/><circle cx="192.1" cy="220.7" r="2.12"/><circle cx="184.1" cy="207.3" r="2.12"/><circle cx="188.1" cy="212.3" r="2.12"/><circle cx="190.1" cy="214.0" r="2.12"/><circle cx="192.1" cy="230.7" r="2.12"/><circle cx="192.1" cy="224.0" r="2.12"/><circle cx="190.1" cy="224.0" r="2.12"/><circle cx="188.1" cy="227.4" r="2.12"/><circle cx="192.1" cy="219.0" r="2.12"/><circle cx="184.1" cy="224.0" r="2.12"/><circle cx="192.1" cy="222.3" r="2.12"/><circle cx="182.1" cy="209.0" r="2.12"/><circle cx="182.1" cy="209.0" r="2.12"/><circle cx="184.1" cy="209.0" r="2.12"/><circle cx="188.1" cy="224.0" r="2.12"/><circle cx="190.1" cy="210.6" r="2.12"/><circle cx="192.1" cy="220.7" r="2.12"/><circle cx="192.1" cy="212.3" r="2.12"/><circle cx="186.1" cy="209.0" r="2.12"/><circle cx="188.1" cy="219.0" r="2.12"/><circle cx="192.1" cy="222.3" r="2.12"/><circle cx="188.1" cy="214.0" r="2.12"/><circle cx="186.1" cy="207.3" r="2.12"/><circle cx="182.1" cy="209.0" r="2.12"/><circle cx="184.1" cy="210.6" r="2.12"/><circle cx="182.1" cy="210.6" r="2.12"/><circle cx="190.1" cy="219.0" r="2.12"/><circle cx="182.1" cy="207.3" r="2.12"/><circle cx="188.1" cy="205.6" r="2.12"/><circle cx="192.1" cy="220.7" r="2.12"/><circle cx="188.1" cy="207.3" r="2.12"/><circle cx="190.1" cy="219.0" r="2.12"/><circle cx="182.1" cy="222.3" r="2.12"/><circle cx="192.1" cy="220.7" r="2.12"/><circle cx="184.1" cy="203.9" r="2.12"/><circle cx="182.1" cy="212.3" r="2.12"/><circle cx="186.1" cy="229.0" r="2.12"/><circle cx="190.1" cy="207.3" r="2.12"/><circle cx="184.1" cy="205.6" r="2.12"/><circle cx="186.1" cy="215.6" r="2.12"/><circle cx="184.1" cy="219.0" r="2.12"/><circle cx="184.1" cy="222.3" r="2.12"/><circle cx="186.1" cy="212.3" r="2.12"/><circle cx="182.1" cy="205.6" r="2.12"/><circle cx="192.1" cy="232.4" r="2.12"/><circle cx="184.1" cy="214.0" r="2.12"/><circle cx="184.1" cy="215.6" r="2.12"/><circle cx="192.1" cy="217.3" r="2.12"/><circle cx="184.1" cy="210.6" r="2.12"/><circle cx="188.1" cy="207.3" r="2.12"/><circle cx="188.1" cy="215.6" r="2.12"/><circle cx="186.1" cy="215.6" r="2.12"/><circle cx="190.1" cy="215.6" r="2.12"/><circle cx="192.1" cy="214.0" r="2.12"/><circle cx="186.1" cy="212.3" r="2.12"/><circle cx="184.1" cy="215.6" r="2.12"/><circle cx="186.1" cy="219.0" r="2.12"/><circle cx="192.1" cy="217.3" r="2.12"/><circle cx="182.1" cy="210.6" r="2.12"/><circle cx="188.1" cy="219.0" r="2.12"/><circle cx="184.1" cy="219.0" r="2.12"/><circle cx="190.1" cy="219.0" r="2.12"/><circle cx="192.1" cy="210.6" r="2.12"/><circle cx="186.1" cy="225.7" r="2.12"/><circle cx="186.1" cy="219.0" r="2.12"/><circle cx="186.1" cy="214.0" r="2.12"/><circle cx="192.1" cy="224.0" r="2.12"/><circle cx="192.1" cy="215.6" r="2.12"/><circle cx="184.1" cy="227.4" r="2.12"/><circle cx="190.1" cy="222.3" r="2.12"/><circle cx="184.1" cy="217.3" r="2.12"/><circle cx="182.1" cy="217.3" r="2.12"/><circle cx="184.1" cy="219.0" r="2.12"/><circle cx="186.1" cy="219.0" r="2.12"/><circle cx="192.1" cy="217.3" r="2.12"/><circle cx="190.1" cy="225.7" r="2.12"/><circle cx="192.1" cy="210.6" r="2.12"/><circle cx="190.1" cy="230.7" r="2.12"/><circle cx="192.1" cy="209.0" r="2.12"/><circle cx="194.1" cy="229.0" r="2.12"/><circle cx="194.1" cy="227.4" r="2.12"/><circle cx="196.1" cy="214.0" r="2.12"/><circle cx="200.1" cy="217.3" r="2.12"/><circle cx="194.1" cy="219.0" r="2.12"/><circle cx="194.1" cy="209.0" r="2.12"/><circle cx="196.1" cy="220.7" r="2.12"/><circle cx="196.1" cy="229.0" r="2.12"/><circle cx="196.1" cy="230.7" r="2.12"/><circle cx="198.1" cy="212.3" r="2.12"/><circle cx="198.1" cy="214.0" r="2.12"/><circle cx="194.1" cy="215.6" r="2.12"/><circle cx="198.1" cy="225.7" r="2.12"/><circle cx="198.1" cy="219.0" r="2.12"/><circle cx="198.1" cy="212.3" r="2.12"/><circle cx="194.1" cy="203.9" r="2.12"/><circle cx="196.1" cy="217.3" r="2.12"/><circle cx="200.1" cy="215.6" r="2.12"/><circle cx="200.1" cy="214.0" r="2.12"/><circle cx="196.1" cy="210.6" r="2.12"/><circle cx="200.1" cy="207.3" r="2.12"/><circle cx="198.1" cy="225.7" r="2.12"/><circle cx="198.1" cy="220.7" r="2.12"/><circle cx="198.1" cy="219.0" r="2.12"/><circle cx="200.1" cy="219.0" r="2.12"/><circle cx="194.1" cy="225.7" r="2.12"/><circle cx="200.1" cy="214.0" r="2.12"/><circle cx="200.1" cy="232.4" r="2.12"/><circle cx="194.1" cy="209.0" r="2.12"/><circle cx="198.1" cy="212.3" r="2.12"/><circle cx="194.1" cy="222.3" r="2.12"/><circle cx="200.1" cy="207.3" r="2.12"/><circle cx="198.1" cy="212.3" r="2.12"/><circle cx="200.1" cy="214.0" r="2.12"/><circle cx="200.1" cy="217.3" r="2.12"/><circle cx="196.1" cy="224.0" r="2.12"/><circle cx="200.1" cy="222.3" r="2.12"/><circle cx="198.1" cy="210.6" r="2.12"/><circle cx="196.1" cy="210.6" r="2.12"/><circle cx="194.1" cy="217.3" r="2.12"/><circle cx="194.1" cy="225.7" r="2.12"/><circle cx="196.1" cy="214.0" r="2.12"/><circle cx="194.1" cy="227.4" r="2.12"/><circle cx="198.1" cy="209.0" r="2.12"/><circle cx="198.1" cy="219.0" r="2.12"/><circle cx="198.1" cy="225.7" r="2.12"/><circle cx="198.1" cy="215.6" r="2.12"/><circle cx="198.1" cy="225.7" r="2.12"/><circle cx="198.1" cy="225.7" r="2.12"/><circle cx="200.1" cy="215.6" r="2.12"/><circle cx="214.1" cy="219.0" r="2.12"/><circle cx="202.1" cy="215.6" r="2.12"/><circle cx="206.1" cy="214.0" r="2.12"/><circle cx="206.1" cy="227.4" r="2.12"/><circle cx="202.1" cy="217.3" r="2.12"/><circle cx="206.1" cy="222.3" r="2.12"/><circle cx="214.1" cy="222.3" r="2.12"/><circle cx="202.1" cy="227.4" r="2.12"/><circle cx="204.1" cy="224.0" r="2.12"/><circle cx="202.1" cy="215.6" r="2.12"/><circle cx="204.1" cy="227.4" r="2.12"/><circle cx="208.1" cy="224.0" r="2.12"/><circle cx="206.1" cy="217.3" r="2.12"/><circle cx="204.1" cy="225.7" r="2.12"/><circle cx="204.1" cy="217.3" r="2.12"/><circle cx="214.1" cy="224.0" r="2.12"/><circle cx="212.1" cy="227.4" r="2.12"/><circle cx="210.1" cy="219.0" r="2.12"/><circle cx="206.1" cy="220.7" r="2.12"/><circle cx="206.1" cy="222.3" r="2.12"/><circle cx="208.1" cy="220.7" r="2.12"/><circle cx="206.1" cy="215.6" r="2.12"/><circle cx="214.1" cy="212.3" r="2.12"/><circle cx="206.1" cy="217.3" r="2.12"/><circle cx="208.1" cy="220.7" r="2.12"/><circle cx="202.1" cy="214.0" r="2.12"/><circle cx="212.1" cy="219.0" r="2.12"/><circle cx="210.1" cy="224.0" r="2.12"/><circle cx="204.1" cy="217.3" r="2.12"/><circle cx="204.1" cy="229.0" r="2.12"/><circle cx="206.1" cy="217.3" r="2.12"/><circle cx="210.1" cy="225.7" r="2.12"/><circle cx="204.1" cy="224.0" r="2.12"/><circle cx="206.1" cy="219.0" r="2.12"/><circle cx="214.1" cy="224.0" r="2.12"/><circle cx="214.1" cy="227.4" r="2.12"/><circle cx="210.1" cy="215.6" r="2.12"/><circle cx="206.1" cy="224.0" r="2.12"/><circle cx="206.1" cy="219.0" r="2.12"/><circle cx="208.1" cy="212.3" r="2.12"/><circle cx="206.1" cy="215.6" r="2.12"/><circle cx="208.1" cy="220.7" r="2.12"/><circle cx="202.1" cy="220.7" r="2.12"/><circle cx="210.1" cy="227.4" r="2.12"/><circle cx="204.1" cy="220.7" r="2.12"/><circle cx="212.1" cy="219.0" r="2.12"/><circle cx="212.1" cy="215.6" r="2.12"/><circle cx="210.1" cy="212.3" r="2.12"/><circle cx="204.1" cy="229.0" r="2.12"/><circle cx="204.1" cy="222.3" r="2.12"/><circle cx="218.1" cy="227.4" r="2.12"/><circle cx="216.1" cy="217.3" r="2.12"/><circle cx="216.1" cy="219.0" r="2.12"/><circle cx="220.1" cy="222.3" r="2.12"/><circle cx="222.1" cy="235.7" r="2.12"/><circle cx="222.1" cy="222.3" r="2.12"/><circle cx="222.1" cy="224.0" r="2.12"/><circle cx="222.1" cy="224.0" r="2.12"/><circle cx="222.1" cy="219.0" r="2.12"/><circle cx="222.1" cy="222.3" r="2.12"/><circle cx="222.1" cy="222.3" r="2.12"/><circle cx="222.1" cy="212.3" r="2.12"/><circle cx="222.1" cy="219.0" r="2.12"/><circle cx="222.1" cy="224.0" r="2.12"/><circle cx="222.1" cy="219.0" r="2.12"/><circle cx="222.1" cy="222.3" r="2.12"/><circle cx="222.1" cy="227.4" r="2.12"/><circle cx="222.1" cy="229.0" r="2.12"/><circle cx="224.1" cy="224.0" r="2.12"/><circle cx="224.1" cy="219.0" r="2.12"/><circle cx="224.1" cy="224.0" r="2.12"/><circle cx="224.1" cy="220.7" r="2.12"/><circle cx="224.1" cy="212.3" r="2.12"/><circle cx="224.1" cy="227.4" r="2.12"/><circle cx="224.1" cy="219.0" r="2.12"/><circle cx="224.1" cy="232.4" r="2.12"/><circle cx="224.1" cy="214.0" r="2.12"/><circle cx="72.1" cy="187.1" r="2.12"/><circle cx="75.1" cy="183.8" r="2.12"/><circle cx="81.1" cy="185.8" r="2.12"/><circle cx="72.1" cy="191.6" r="2.12"/><circle cx="71.1" cy="194.2" r="2.12"/><circle cx="86.9" cy="190.3" r="2.12"/><circle cx="88.9" cy="194.9" r="2.12"/><circle cx="85.1" cy="194.9" r="2.12"/><circle cx="103.1" cy="197.2" r="2.12"/><circle cx="115.5" cy="192.3" r="2.12"/><circle cx="132.9" cy="190.6" r="2.12"/><circle cx="135.5" cy="195.5" r="2.12"/><circle cx="152.1" cy="187.0" r="2.12"/><circle cx="154.1" cy="185.1" r="2.12"/><circle cx="154.1" cy="189.4" r="2.12"/><circle cx="154.1" cy="194.9" r="2.12"/><circle cx="145.3" cy="197.5" r="2.12"/><circle cx="160.1" cy="197.5" r="2.12"/><circle cx="172.1" cy="189.0" r="2.12"/><circle cx="179.7" cy="192.0" r="2.12"/><circle cx="191.7" cy="192.3" r="2.12"/><circle cx="173.5" cy="194.6" r="2.12"/><circle cx="177.5" cy="195.5" r="2.12"/><circle cx="77.1" cy="231.3" r="2.12"/><circle cx="77.1" cy="228.8" r="2.12"/><circle cx="73.3" cy="224.2" r="2.12"/><circle cx="81.1" cy="223.6" r="2.12"/><circle cx="86.9" cy="222.3" r="2.12"/><circle cx="80.1" cy="227.5" r="2.12"/><circle cx="93.3" cy="222.0" r="2.12"/><circle cx="93.3" cy="227.5" r="2.12"/><circle cx="109.5" cy="224.2" r="2.12"/><circle cx="109.5" cy="229.4" r="2.12"/><circle cx="114.7" cy="224.6" r="2.12"/><circle cx="117.3" cy="222.9" r="2.12"/><circle cx="117.3" cy="231.1" r="2.12"/><circle cx="119.3" cy="233.9" r="2.12"/><circle cx="129.7" cy="224.2" r="2.12"/><circle cx="129.7" cy="227.5" r="2.12"/><circle cx="141.3" cy="225.5" r="2.12"/><circle cx="147.1" cy="223.6" r="2.12"/><circle cx="150.1" cy="225.5" r="2.12"/><circle cx="154.1" cy="225.5" r="2.12"/><circle cx="160.9" cy="231.3" r="2.12"/><circle cx="153.5" cy="225.6" r="2.12"/><circle cx="161.3" cy="230.8" r="2.12"/><circle cx="174.9" cy="231.4" r="2.12"/><circle cx="179.7" cy="235.9" r="2.12"/><circle cx="185.9" cy="242.4" r="2.12"/><circle cx="185.9" cy="235.3" r="2.12"/><circle cx="191.3" cy="239.2" r="2.12"/><circle cx="191.3" cy="236.6" r="2.12"/><circle cx="205.3" cy="235.9" r="2.12"/><circle cx="203.5" cy="233.3" r="2.12"/><circle cx="215.7" cy="237.2" r="2.12"/><circle cx="221.5" cy="241.8" r="2.12"/><circle cx="221.5" cy="244.4" r="2.12"/><circle cx="232.1" cy="221.0" r="2.12"/><circle cx="234.1" cy="232.7" r="2.12"/><circle cx="215.7" cy="217.8" r="2.12"/><circle cx="103.1" cy="217.3" r="2.12"/><circle cx="124.1" cy="219.7" r="2.12"/><circle cx="122.1" cy="220.7" r="2.12"/><circle cx="131.7" cy="219.0" r="2.12"/></g>
<g class="tr"><rect x="61" y="212.38" width="1.25" height="1.25"/><rect x="63" y="212.38" width="1.25" height="1.25"/><rect x="65" y="211.88" width="1.25" height="1.25"/><rect x="67" y="211.88" width="1.25" height="1.25"/><rect x="69" y="211.38" width="1.25" height="1.25"/><rect x="71" y="211.38" width="1.25" height="1.25"/><rect x="73" y="210.88" width="1.25" height="1.25"/><rect x="75" y="210.88" width="1.25" height="1.25"/><rect x="77" y="210.38" width="1.25" height="1.25"/><rect x="79" y="210.38" width="1.25" height="1.25"/><rect x="81" y="210.38" width="1.25" height="1.25"/><rect x="83" y="209.88" width="1.25" height="1.25"/><rect x="85" y="209.88" width="1.25" height="1.25"/><rect x="87" y="209.88" width="1.25" height="1.25"/><rect x="89" y="209.38" width="1.25" height="1.25"/><rect x="91" y="209.38" width="1.25" height="1.25"/><rect x="93" y="209.38" width="1.25" height="1.25"/><rect x="95" y="209.38" width="1.25" height="1.25"/><rect x="97" y="208.88" width="1.25" height="1.25"/><rect x="99" y="208.88" width="1.25" height="1.25"/><rect x="101" y="208.88" width="1.25" height="1.25"/><rect x="103" y="208.88" width="1.25" height="1.25"/><rect x="105" y="208.88" width="1.25" height="1.25"/><rect x="107" y="208.88" width="1.25" height="1.25"/><rect x="109" y="208.88" width="1.25" height="1.25"/><rect x="111" y="208.88" width="1.25" height="1.25"/><rect x="113" y="208.88" width="1.25" height="1.25"/><rect x="115" y="208.38" width="1.25" height="1.25"/><rect x="117" y="208.38" width="1.25" height="1.25"/><rect x="119" y="208.88" width="1.25" height="1.25"/><rect x="121" y="208.88" width="1.25" height="1.25"/><rect x="123" y="208.88" width="1.25" height="1.25"/><rect x="125" y="208.88" width="1.25" height="1.25"/><rect x="127" y="208.88" width="1.25" height="1.25"/><rect x="129" y="208.88" width="1.25" height="1.25"/><rect x="131" y="208.88" width="1.25" height="1.25"/><rect x="133" y="208.88" width="1.25" height="1.25"/><rect x="135" y="208.88" width="1.25" height="1.25"/><rect x="137" y="209.38" width="1.25" height="1.25"/><rect x="139" y="209.38" width="1.25" height="1.25"/><rect x="141" y="209.38" width="1.25" height="1.25"/><rect x="143" y="209.38" width="1.25" height="1.25"/><rect x="145" y="209.88" width="1.25" height="1.25"/><rect x="147" y="209.88" width="1.25" height="1.25"/><rect x="149" y="209.88" width="1.25" height="1.25"/><rect x="151" y="210.38" width="1.25" height="1.25"/><rect x="153" y="210.38" width="1.25" height="1.25"/><rect x="155" y="210.88" width="1.25" height="1.25"/><rect x="157" y="210.88" width="1.25" height="1.25"/><rect x="159" y="211.38" width="1.25" height="1.25"/><rect x="161" y="211.38" width="1.25" height="1.25"/><rect x="163" y="211.38" width="1.25" height="1.25"/><rect x="165" y="211.88" width="1.25" height="1.25"/><rect x="167" y="212.38" width="1.25" height="1.25"/><rect x="169" y="212.38" width="1.25" height="1.25"/><rect x="171" y="212.88" width="1.25" height="1.25"/><rect x="173" y="212.88" width="1.25" height="1.25"/><rect x="175" y="213.38" width="1.25" height="1.25"/><rect x="177" y="213.88" width="1.25" height="1.25"/><rect x="179" y="213.88" width="1.25" height="1.25"/><rect x="181" y="214.38" width="1.25" height="1.25"/><rect x="183" y="214.88" width="1.25" height="1.25"/><rect x="185" y="214.88" width="1.25" height="1.25"/><rect x="187" y="215.38" width="1.25" height="1.25"/><rect x="189" y="215.88" width="1.25" height="1.25"/><rect x="191" y="216.38" width="1.25" height="1.25"/><rect x="193" y="216.38" width="1.25" height="1.25"/><rect x="195" y="216.88" width="1.25" height="1.25"/><rect x="197" y="217.38" width="1.25" height="1.25"/><rect x="199" y="217.88" width="1.25" height="1.25"/><rect x="201" y="218.38" width="1.25" height="1.25"/><rect x="203" y="218.88" width="1.25" height="1.25"/><rect x="205" y="219.38" width="1.25" height="1.25"/><rect x="207" y="219.88" width="1.25" height="1.25"/><rect x="209" y="220.38" width="1.25" height="1.25"/><rect x="211" y="220.88" width="1.25" height="1.25"/><rect x="213" y="221.38" width="1.25" height="1.25"/><rect x="215" y="221.88" width="1.25" height="1.25"/><rect x="217" y="222.38" width="1.25" height="1.25"/><rect x="219" y="222.88" width="1.25" height="1.25"/><rect x="221" y="223.38" width="1.25" height="1.25"/><rect x="223" y="223.88" width="1.25" height="1.25"/><rect x="225" y="224.38" width="1.25" height="1.25"/><rect x="227" y="225.38" width="1.25" height="1.25"/><rect x="229" y="225.88" width="1.25" height="1.25"/><rect x="231" y="226.38" width="1.25" height="1.25"/><rect x="233" y="226.88" width="1.25" height="1.25"/><rect x="235" y="227.88" width="1.25" height="1.25"/><rect x="237" y="228.38" width="1.25" height="1.25"/><rect x="239" y="228.88" width="1.25" height="1.25"/><rect x="241" y="229.88" width="1.25" height="1.25"/></g>
<g class="od"><circle cx="335.1" cy="228.5" r="2.12"/><circle cx="335.1" cy="225.0" r="2.12"/><circle cx="335.1" cy="232.0" r="2.12"/><circle cx="339.1" cy="220.3" r="2.12"/><circle cx="339.1" cy="224.7" r="2.12"/><circle cx="339.1" cy="221.4" r="2.12"/><circle cx="339.1" cy="219.8" r="2.12"/><circle cx="335.1" cy="222.1" r="2.12"/><circle cx="339.1" cy="208.3" r="2.12"/><circle cx="339.1" cy="222.5" r="2.12"/><circle cx="335.1" cy="224.8" r="2.12"/><circle cx="337.1" cy="224.0" r="2.12"/><circle cx="335.1" cy="229.2" r="2.12"/><circle cx="335.1" cy="228.2" r="2.12"/><circle cx="337.1" cy="226.2" r="2.12"/><circle cx="337.1" cy="219.9" r="2.12"/><circle cx="335.1" cy="223.8" r="2.12"/><circle cx="339.1" cy="224.8" r="2.12"/><circle cx="339.1" cy="211.4" r="2.12"/><circle cx="339.1" cy="221.7" r="2.12"/><circle cx="337.1" cy="223.0" r="2.12"/><circle cx="335.1" cy="221.8" r="2.12"/><circle cx="335.1" cy="213.7" r="2.12"/><circle cx="337.1" cy="234.2" r="2.12"/><circle cx="337.1" cy="245.3" r="2.12"/><circle cx="339.1" cy="216.8" r="2.12"/><circle cx="337.1" cy="222.2" r="2.12"/><circle cx="335.1" cy="227.6" r="2.12"/><circle cx="339.1" cy="225.7" r="2.12"/><circle cx="339.1" cy="227.3" r="2.12"/><circle cx="337.1" cy="226.0" r="2.12"/><circle cx="337.1" cy="215.7" r="2.12"/><circle cx="337.1" cy="222.3" r="2.12"/><circle cx="335.1" cy="223.3" r="2.12"/><circle cx="339.1" cy="231.3" r="2.12"/><circle cx="339.1" cy="218.6" r="2.12"/><circle cx="341.1" cy="224.9" r="2.12"/><circle cx="343.1" cy="218.9" r="2.12"/><circle cx="345.1" cy="215.0" r="2.12"/><circle cx="345.1" cy="227.0" r="2.12"/><circle cx="347.1" cy="234.1" r="2.12"/><circle cx="343.1" cy="218.9" r="2.12"/><circle cx="343.1" cy="234.9" r="2.12"/><circle cx="345.1" cy="230.4" r="2.12"/><circle cx="343.1" cy="223.4" r="2.12"/><circle cx="341.1" cy="212.5" r="2.12"/><circle cx="343.1" cy="234.6" r="2.12"/><circle cx="345.1" cy="226.7" r="2.12"/><circle cx="343.1" cy="203.8" r="2.12"/><circle cx="345.1" cy="217.1" r="2.12"/><circle cx="341.1" cy="205.8" r="2.12"/><circle cx="347.1" cy="229.1" r="2.12"/><circle cx="345.1" cy="226.5" r="2.12"/><circle cx="347.1" cy="215.8" r="2.12"/><circle cx="347.1" cy="229.6" r="2.12"/><circle cx="347.1" cy="219.0" r="2.12"/><circle cx="343.1" cy="231.9" r="2.12"/><circle cx="347.1" cy="227.1" r="2.12"/><circle cx="341.1" cy="219.3" r="2.12"/><circle cx="347.1" cy="229.3" r="2.12"/><circle cx="345.1" cy="219.7" r="2.12"/><circle cx="341.1" cy="231.3" r="2.12"/><circle cx="343.1" cy="218.4" r="2.12"/><circle cx="341.1" cy="227.9" r="2.12"/><circle cx="341.1" cy="211.6" r="2.12"/><circle cx="343.1" cy="234.6" r="2.12"/><circle cx="343.1" cy="226.6" r="2.12"/><circle cx="347.1" cy="236.4" r="2.12"/><circle cx="341.1" cy="237.5" r="2.12"/><circle cx="345.1" cy="235.6" r="2.12"/><circle cx="343.1" cy="217.4" r="2.12"/><circle cx="341.1" cy="228.7" r="2.12"/><circle cx="341.1" cy="219.9" r="2.12"/><circle cx="341.1" cy="213.8" r="2.12"/><circle cx="347.1" cy="234.4" r="2.12"/><circle cx="345.1" cy="215.1" r="2.12"/><circle cx="347.1" cy="214.0" r="2.12"/><circle cx="343.1" cy="225.2" r="2.12"/><circle cx="349.1" cy="219.3" r="2.12"/><circle cx="351.1" cy="235.4" r="2.12"/><circle cx="349.1" cy="234.6" r="2.12"/><circle cx="351.1" cy="215.4" r="2.12"/><circle cx="353.1" cy="223.6" r="2.12"/><circle cx="351.1" cy="236.7" r="2.12"/><circle cx="351.1" cy="211.0" r="2.12"/><circle cx="351.1" cy="235.0" r="2.12"/><circle cx="353.1" cy="229.0" r="2.12"/><circle cx="353.1" cy="229.9" r="2.12"/><circle cx="351.1" cy="214.2" r="2.12"/><circle cx="351.1" cy="222.6" r="2.12"/><circle cx="351.1" cy="210.8" r="2.12"/><circle cx="351.1" cy="216.3" r="2.12"/><circle cx="365.1" cy="224.5" r="2.12"/><circle cx="355.1" cy="222.0" r="2.12"/><circle cx="363.1" cy="218.9" r="2.12"/><circle cx="359.1" cy="217.4" r="2.12"/><circle cx="369.1" cy="224.9" r="2.12"/><circle cx="367.1" cy="217.7" r="2.12"/><circle cx="373.1" cy="222.9" r="2.12"/><circle cx="371.1" cy="219.8" r="2.12"/><circle cx="361.1" cy="234.1" r="2.12"/><circle cx="357.1" cy="221.4" r="2.12"/><circle cx="357.1" cy="230.0" r="2.12"/><circle cx="361.1" cy="221.1" r="2.12"/><circle cx="371.1" cy="223.4" r="2.12"/><circle cx="359.1" cy="219.7" r="2.12"/><circle cx="359.1" cy="231.6" r="2.12"/><circle cx="355.1" cy="222.9" r="2.12"/><circle cx="373.1" cy="219.2" r="2.12"/><circle cx="369.1" cy="223.2" r="2.12"/><circle cx="357.1" cy="215.9" r="2.12"/><circle cx="355.1" cy="215.6" r="2.12"/><circle cx="365.1" cy="220.3" r="2.12"/><circle cx="369.1" cy="230.0" r="2.12"/><circle cx="375.1" cy="218.8" r="2.12"/><circle cx="379.1" cy="217.8" r="2.12"/><circle cx="385.1" cy="213.2" r="2.12"/><circle cx="391.1" cy="211.6" r="2.12"/><circle cx="387.1" cy="226.6" r="2.12"/><circle cx="375.1" cy="215.6" r="2.12"/><circle cx="401.1" cy="229.3" r="2.12"/><circle cx="383.1" cy="218.6" r="2.12"/><circle cx="381.1" cy="228.2" r="2.12"/><circle cx="385.1" cy="228.4" r="2.12"/><circle cx="379.1" cy="215.3" r="2.12"/><circle cx="399.1" cy="223.1" r="2.12"/><circle cx="391.1" cy="218.3" r="2.12"/><circle cx="375.1" cy="227.3" r="2.12"/><circle cx="375.1" cy="216.4" r="2.12"/><circle cx="393.1" cy="207.9" r="2.12"/><circle cx="391.1" cy="219.7" r="2.12"/><circle cx="393.1" cy="223.1" r="2.12"/><circle cx="397.1" cy="217.9" r="2.12"/><circle cx="381.1" cy="221.9" r="2.12"/><circle cx="395.1" cy="219.0" r="2.12"/><circle cx="379.1" cy="221.5" r="2.12"/><circle cx="377.1" cy="221.7" r="2.12"/><circle cx="385.1" cy="224.5" r="2.12"/><circle cx="383.1" cy="225.6" r="2.12"/><circle cx="383.1" cy="222.4" r="2.12"/><circle cx="375.1" cy="223.4" r="2.12"/><circle cx="403.1" cy="214.9" r="2.12"/><circle cx="391.1" cy="223.4" r="2.12"/><circle cx="399.1" cy="225.1" r="2.12"/><circle cx="387.1" cy="216.8" r="2.12"/><circle cx="387.1" cy="228.9" r="2.12"/><circle cx="395.1" cy="228.9" r="2.12"/><circle cx="387.1" cy="223.1" r="2.12"/><circle cx="389.1" cy="221.4" r="2.12"/><circle cx="375.1" cy="217.7" r="2.12"/><circle cx="395.1" cy="215.0" r="2.12"/><circle cx="377.1" cy="209.1" r="2.12"/><circle cx="389.1" cy="212.9" r="2.12"/><circle cx="381.1" cy="224.7" r="2.12"/><circle cx="405.1" cy="222.7" r="2.12"/><circle cx="415.1" cy="212.9" r="2.12"/><circle cx="405.1" cy="230.6" r="2.12"/><circle cx="411.1" cy="222.7" r="2.12"/><circle cx="409.1" cy="218.3" r="2.12"/><circle cx="405.1" cy="222.6" r="2.12"/><circle cx="415.1" cy="224.8" r="2.12"/><circle cx="411.1" cy="232.1" r="2.12"/><circle cx="407.1" cy="207.8" r="2.12"/><circle cx="413.1" cy="223.0" r="2.12"/><circle cx="413.1" cy="221.4" r="2.12"/><circle cx="407.1" cy="225.3" r="2.12"/><circle cx="409.1" cy="212.5" r="2.12"/><circle cx="411.1" cy="229.1" r="2.12"/><circle cx="411.1" cy="216.1" r="2.12"/><circle cx="413.1" cy="227.7" r="2.12"/><circle cx="413.1" cy="214.0" r="2.12"/><circle cx="413.1" cy="226.6" r="2.12"/><circle cx="405.1" cy="213.1" r="2.12"/><circle cx="409.1" cy="236.8" r="2.12"/><circle cx="407.1" cy="233.8" r="2.12"/><circle cx="413.1" cy="216.5" r="2.12"/><circle cx="411.1" cy="227.0" r="2.12"/><circle cx="409.1" cy="222.4" r="2.12"/><circle cx="405.1" cy="219.2" r="2.12"/><circle cx="413.1" cy="214.7" r="2.12"/><circle cx="413.1" cy="213.2" r="2.12"/><circle cx="409.1" cy="238.1" r="2.12"/><circle cx="423.1" cy="225.5" r="2.12"/><circle cx="419.1" cy="228.5" r="2.12"/><circle cx="423.1" cy="224.2" r="2.12"/><circle cx="421.1" cy="223.4" r="2.12"/><circle cx="423.1" cy="226.1" r="2.12"/><circle cx="421.1" cy="222.9" r="2.12"/><circle cx="421.1" cy="226.1" r="2.12"/><circle cx="423.1" cy="231.9" r="2.12"/><circle cx="419.1" cy="223.2" r="2.12"/><circle cx="421.1" cy="222.6" r="2.12"/><circle cx="423.1" cy="216.4" r="2.12"/><circle cx="419.1" cy="226.6" r="2.12"/><circle cx="421.1" cy="215.5" r="2.12"/><circle cx="423.1" cy="228.8" r="2.12"/><circle cx="417.1" cy="229.5" r="2.12"/><circle cx="417.1" cy="214.8" r="2.12"/><circle cx="423.1" cy="223.6" r="2.12"/><circle cx="421.1" cy="233.3" r="2.12"/><circle cx="419.1" cy="216.3" r="2.12"/><circle cx="419.1" cy="218.7" r="2.12"/><circle cx="417.1" cy="219.8" r="2.12"/><circle cx="423.1" cy="227.6" r="2.12"/><circle cx="417.1" cy="219.4" r="2.12"/><circle cx="417.1" cy="231.2" r="2.12"/><circle cx="421.1" cy="231.0" r="2.12"/><circle cx="423.1" cy="225.6" r="2.12"/><circle cx="421.1" cy="202.3" r="2.12"/><circle cx="419.1" cy="224.7" r="2.12"/><circle cx="421.1" cy="205.9" r="2.12"/><circle cx="417.1" cy="219.8" r="2.12"/><circle cx="423.1" cy="224.4" r="2.12"/><circle cx="417.1" cy="217.7" r="2.12"/><circle cx="421.1" cy="230.7" r="2.12"/><circle cx="417.1" cy="230.4" r="2.12"/><circle cx="423.1" cy="220.5" r="2.12"/><circle cx="419.1" cy="223.6" r="2.12"/><circle cx="417.1" cy="225.8" r="2.12"/><circle cx="417.1" cy="217.1" r="2.12"/><circle cx="417.1" cy="206.8" r="2.12"/><circle cx="419.1" cy="227.9" r="2.12"/><circle cx="437.1" cy="224.6" r="2.12"/><circle cx="439.1" cy="221.0" r="2.12"/><circle cx="431.1" cy="235.5" r="2.12"/><circle cx="429.1" cy="226.9" r="2.12"/><circle cx="429.1" cy="231.3" r="2.12"/><circle cx="429.1" cy="228.6" r="2.12"/><circle cx="437.1" cy="229.5" r="2.12"/><circle cx="433.1" cy="232.8" r="2.12"/><circle cx="429.1" cy="224.0" r="2.12"/><circle cx="439.1" cy="224.9" r="2.12"/><circle cx="441.1" cy="210.1" r="2.12"/><circle cx="431.1" cy="241.2" r="2.12"/><circle cx="427.1" cy="223.0" r="2.12"/><circle cx="435.1" cy="230.7" r="2.12"/><circle cx="431.1" cy="223.2" r="2.12"/><circle cx="433.1" cy="228.9" r="2.12"/><circle cx="433.1" cy="215.7" r="2.12"/><circle cx="439.1" cy="227.4" r="2.12"/><circle cx="429.1" cy="235.8" r="2.12"/><circle cx="441.1" cy="226.2" r="2.12"/><circle cx="425.1" cy="221.2" r="2.12"/><circle cx="443.1" cy="216.2" r="2.12"/><circle cx="441.1" cy="230.9" r="2.12"/><circle cx="431.1" cy="240.6" r="2.12"/><circle cx="443.1" cy="234.8" r="2.12"/><circle cx="429.1" cy="218.2" r="2.12"/><circle cx="431.1" cy="231.1" r="2.12"/><circle cx="427.1" cy="231.8" r="2.12"/><circle cx="425.1" cy="231.9" r="2.12"/><circle cx="433.1" cy="223.0" r="2.12"/><circle cx="439.1" cy="218.8" r="2.12"/><circle cx="439.1" cy="216.1" r="2.12"/><circle cx="431.1" cy="214.5" r="2.12"/><circle cx="435.1" cy="213.7" r="2.12"/><circle cx="443.1" cy="228.7" r="2.12"/><circle cx="441.1" cy="233.1" r="2.12"/><circle cx="431.1" cy="219.9" r="2.12"/><circle cx="435.1" cy="239.0" r="2.12"/><circle cx="443.1" cy="242.9" r="2.12"/><circle cx="427.1" cy="224.1" r="2.12"/><circle cx="441.1" cy="224.4" r="2.12"/><circle cx="429.1" cy="214.8" r="2.12"/><circle cx="431.1" cy="224.4" r="2.12"/><circle cx="433.1" cy="229.1" r="2.12"/><circle cx="425.1" cy="203.4" r="2.12"/><circle cx="431.1" cy="223.9" r="2.12"/><circle cx="443.1" cy="215.8" r="2.12"/><circle cx="439.1" cy="220.7" r="2.12"/><circle cx="429.1" cy="214.5" r="2.12"/><circle cx="439.1" cy="230.6" r="2.12"/><circle cx="427.1" cy="229.2" r="2.12"/><circle cx="429.1" cy="222.1" r="2.12"/><circle cx="431.1" cy="224.5" r="2.12"/><circle cx="437.1" cy="215.8" r="2.12"/><circle cx="437.1" cy="216.0" r="2.12"/><circle cx="443.1" cy="240.7" r="2.12"/><circle cx="425.1" cy="225.3" r="2.12"/><circle cx="431.1" cy="229.7" r="2.12"/><circle cx="443.1" cy="235.8" r="2.12"/><circle cx="437.1" cy="241.9" r="2.12"/><circle cx="441.1" cy="226.7" r="2.12"/><circle cx="435.1" cy="217.2" r="2.12"/><circle cx="425.1" cy="219.2" r="2.12"/><circle cx="427.1" cy="218.8" r="2.12"/><circle cx="425.1" cy="219.6" r="2.12"/><circle cx="437.1" cy="217.6" r="2.12"/><circle cx="425.1" cy="225.0" r="2.12"/><circle cx="425.1" cy="213.0" r="2.12"/><circle cx="433.1" cy="218.9" r="2.12"/><circle cx="441.1" cy="227.6" r="2.12"/><circle cx="427.1" cy="221.1" r="2.12"/><circle cx="437.1" cy="225.6" r="2.12"/><circle cx="427.1" cy="224.4" r="2.12"/><circle cx="427.1" cy="211.8" r="2.12"/><circle cx="427.1" cy="236.5" r="2.12"/><circle cx="429.1" cy="226.8" r="2.12"/><circle cx="433.1" cy="219.0" r="2.12"/><circle cx="433.1" cy="230.9" r="2.12"/><circle cx="441.1" cy="225.1" r="2.12"/><circle cx="443.1" cy="219.3" r="2.12"/><circle cx="441.1" cy="221.0" r="2.12"/><circle cx="441.1" cy="236.9" r="2.12"/><circle cx="433.1" cy="215.0" r="2.12"/><circle cx="431.1" cy="227.4" r="2.12"/><circle cx="443.1" cy="234.2" r="2.12"/><circle cx="429.1" cy="213.3" r="2.12"/><circle cx="441.1" cy="232.9" r="2.12"/><circle cx="431.1" cy="221.8" r="2.12"/><circle cx="429.1" cy="216.8" r="2.12"/><circle cx="435.1" cy="230.6" r="2.12"/><circle cx="437.1" cy="224.2" r="2.12"/><circle cx="427.1" cy="240.5" r="2.12"/><circle cx="429.1" cy="232.3" r="2.12"/><circle cx="429.1" cy="221.6" r="2.12"/><circle cx="433.1" cy="233.7" r="2.12"/><circle cx="439.1" cy="235.9" r="2.12"/><circle cx="429.1" cy="215.9" r="2.12"/><circle cx="437.1" cy="224.4" r="2.12"/><circle cx="439.1" cy="245.1" r="2.12"/><circle cx="429.1" cy="215.7" r="2.12"/><circle cx="443.1" cy="223.8" r="2.12"/><circle cx="439.1" cy="232.6" r="2.12"/><circle cx="435.1" cy="233.0" r="2.12"/><circle cx="441.1" cy="224.0" r="2.12"/><circle cx="425.1" cy="229.4" r="2.12"/><circle cx="439.1" cy="243.4" r="2.12"/><circle cx="441.1" cy="223.7" r="2.12"/><circle cx="443.1" cy="225.6" r="2.12"/><circle cx="435.1" cy="225.2" r="2.12"/><circle cx="431.1" cy="210.5" r="2.12"/><circle cx="437.1" cy="221.9" r="2.12"/><circle cx="425.1" cy="232.7" r="2.12"/><circle cx="439.1" cy="225.4" r="2.12"/><circle cx="433.1" cy="228.0" r="2.12"/><circle cx="441.1" cy="231.7" r="2.12"/><circle cx="437.1" cy="239.9" r="2.12"/><circle cx="443.1" cy="224.9" r="2.12"/><circle cx="425.1" cy="233.8" r="2.12"/><circle cx="427.1" cy="236.3" r="2.12"/><circle cx="441.1" cy="221.0" r="2.12"/><circle cx="431.1" cy="223.9" r="2.12"/><circle cx="439.1" cy="228.3" r="2.12"/><circle cx="443.1" cy="246.2" r="2.12"/><circle cx="427.1" cy="215.8" r="2.12"/><circle cx="427.1" cy="217.3" r="2.12"/><circle cx="427.1" cy="234.5" r="2.12"/><circle cx="435.1" cy="227.5" r="2.12"/><circle cx="437.1" cy="235.8" r="2.12"/><circle cx="441.1" cy="216.9" r="2.12"/><circle cx="437.1" cy="218.2" r="2.12"/><circle cx="443.1" cy="217.7" r="2.12"/><circle cx="425.1" cy="225.4" r="2.12"/><circle cx="425.1" cy="224.1" r="2.12"/><circle cx="425.1" cy="219.6" r="2.12"/><circle cx="427.1" cy="237.0" r="2.12"/><circle cx="431.1" cy="214.9" r="2.12"/><circle cx="443.1" cy="224.5" r="2.12"/><circle cx="441.1" cy="231.9" r="2.12"/><circle cx="431.1" cy="228.0" r="2.12"/><circle cx="429.1" cy="234.7" r="2.12"/><circle cx="425.1" cy="219.7" r="2.12"/><circle cx="441.1" cy="235.8" r="2.12"/><circle cx="437.1" cy="226.8" r="2.12"/><circle cx="425.1" cy="232.4" r="2.12"/><circle cx="429.1" cy="229.7" r="2.12"/><circle cx="429.1" cy="213.9" r="2.12"/><circle cx="443.1" cy="222.6" r="2.12"/><circle cx="443.1" cy="229.1" r="2.12"/><circle cx="437.1" cy="247.4" r="2.12"/><circle cx="439.1" cy="221.0" r="2.12"/><circle cx="431.1" cy="206.7" r="2.12"/><circle cx="429.1" cy="225.5" r="2.12"/><circle cx="439.1" cy="226.5" r="2.12"/><circle cx="439.1" cy="224.4" r="2.12"/><circle cx="437.1" cy="235.0" r="2.12"/><circle cx="437.1" cy="226.3" r="2.12"/><circle cx="439.1" cy="211.1" r="2.12"/><circle cx="427.1" cy="219.0" r="2.12"/><circle cx="429.1" cy="209.3" r="2.12"/><circle cx="437.1" cy="230.8" r="2.12"/><circle cx="441.1" cy="224.8" r="2.12"/><circle cx="427.1" cy="218.0" r="2.12"/><circle cx="435.1" cy="234.4" r="2.12"/><circle cx="439.1" cy="226.0" r="2.12"/><circle cx="425.1" cy="224.2" r="2.12"/><circle cx="429.1" cy="223.4" r="2.12"/><circle cx="431.1" cy="221.4" r="2.12"/><circle cx="429.1" cy="234.5" r="2.12"/><circle cx="431.1" cy="219.3" r="2.12"/><circle cx="437.1" cy="234.8" r="2.12"/><circle cx="447.1" cy="227.9" r="2.12"/><circle cx="447.1" cy="224.2" r="2.12"/><circle cx="447.1" cy="241.1" r="2.12"/><circle cx="449.1" cy="237.0" r="2.12"/><circle cx="453.1" cy="230.4" r="2.12"/><circle cx="445.1" cy="214.0" r="2.12"/><circle cx="449.1" cy="232.7" r="2.12"/><circle cx="445.1" cy="243.5" r="2.12"/><circle cx="449.1" cy="232.5" r="2.12"/><circle cx="455.1" cy="226.9" r="2.12"/><circle cx="449.1" cy="213.5" r="2.12"/><circle cx="445.1" cy="216.3" r="2.12"/><circle cx="453.1" cy="232.8" r="2.12"/><circle cx="455.1" cy="236.5" r="2.12"/><circle cx="447.1" cy="222.5" r="2.12"/><circle cx="449.1" cy="241.9" r="2.12"/><circle cx="455.1" cy="216.6" r="2.12"/><circle cx="447.1" cy="237.1" r="2.12"/><circle cx="449.1" cy="233.1" r="2.12"/><circle cx="449.1" cy="238.8" r="2.12"/><circle cx="455.1" cy="232.5" r="2.12"/><circle cx="451.1" cy="237.9" r="2.12"/><circle cx="447.1" cy="220.9" r="2.12"/><circle cx="453.1" cy="224.9" r="2.12"/><circle cx="445.1" cy="243.9" r="2.12"/><circle cx="451.1" cy="223.0" r="2.12"/><circle cx="451.1" cy="223.9" r="2.12"/><circle cx="455.1" cy="241.6" r="2.12"/><circle cx="447.1" cy="237.0" r="2.12"/><circle cx="449.1" cy="230.2" r="2.12"/><circle cx="453.1" cy="235.4" r="2.12"/><circle cx="455.1" cy="230.7" r="2.12"/><circle cx="453.1" cy="228.8" r="2.12"/><circle cx="447.1" cy="230.7" r="2.12"/><circle cx="449.1" cy="229.4" r="2.12"/><circle cx="455.1" cy="211.6" r="2.12"/><circle cx="455.1" cy="238.9" r="2.12"/><circle cx="447.1" cy="221.3" r="2.12"/><circle cx="451.1" cy="229.2" r="2.12"/><circle cx="453.1" cy="228.2" r="2.12"/><circle cx="455.1" cy="247.6" r="2.12"/><circle cx="455.1" cy="238.2" r="2.12"/><circle cx="453.1" cy="234.7" r="2.12"/><circle cx="451.1" cy="240.5" r="2.12"/><circle cx="455.1" cy="231.1" r="2.12"/><circle cx="447.1" cy="245.5" r="2.12"/><circle cx="455.1" cy="236.3" r="2.12"/><circle cx="445.1" cy="221.1" r="2.12"/><circle cx="445.1" cy="221.4" r="2.12"/><circle cx="447.1" cy="224.0" r="2.12"/><circle cx="451.1" cy="237.6" r="2.12"/><circle cx="453.1" cy="225.2" r="2.12"/><circle cx="455.1" cy="236.1" r="2.12"/><circle cx="455.1" cy="223.0" r="2.12"/><circle cx="449.1" cy="222.8" r="2.12"/><circle cx="451.1" cy="232.4" r="2.12"/><circle cx="455.1" cy="230.4" r="2.12"/><circle cx="451.1" cy="229.3" r="2.12"/><circle cx="449.1" cy="220.3" r="2.12"/><circle cx="445.1" cy="221.7" r="2.12"/><circle cx="447.1" cy="222.1" r="2.12"/><circle cx="445.1" cy="221.1" r="2.12"/><circle cx="453.1" cy="231.8" r="2.12"/><circle cx="445.1" cy="219.2" r="2.12"/><circle cx="451.1" cy="216.8" r="2.12"/><circle cx="455.1" cy="234.7" r="2.12"/><circle cx="451.1" cy="222.3" r="2.12"/><circle cx="453.1" cy="230.7" r="2.12"/><circle cx="445.1" cy="238.4" r="2.12"/><circle cx="455.1" cy="236.0" r="2.12"/><circle cx="447.1" cy="215.2" r="2.12"/><circle cx="445.1" cy="232.1" r="2.12"/><circle cx="449.1" cy="236.4" r="2.12"/><circle cx="453.1" cy="226.4" r="2.12"/><circle cx="447.1" cy="216.1" r="2.12"/><circle cx="449.1" cy="232.4" r="2.12"/><circle cx="447.1" cy="235.5" r="2.12"/><circle cx="447.1" cy="232.4" r="2.12"/><circle cx="449.1" cy="228.3" r="2.12"/><circle cx="445.1" cy="217.8" r="2.12"/><circle cx="455.1" cy="247.0" r="2.12"/><circle cx="447.1" cy="231.1" r="2.12"/><circle cx="447.1" cy="224.2" r="2.12"/><circle cx="455.1" cy="226.8" r="2.12"/><circle cx="447.1" cy="220.3" r="2.12"/><circle cx="451.1" cy="220.7" r="2.12"/><circle cx="451.1" cy="230.8" r="2.12"/><circle cx="449.1" cy="222.5" r="2.12"/><circle cx="453.1" cy="232.3" r="2.12"/><circle cx="455.1" cy="223.3" r="2.12"/><circle cx="449.1" cy="224.8" r="2.12"/><circle cx="447.1" cy="226.9" r="2.12"/><circle cx="449.1" cy="226.1" r="2.12"/><circle cx="455.1" cy="231.6" r="2.12"/><circle cx="445.1" cy="228.0" r="2.12"/><circle cx="451.1" cy="225.4" r="2.12"/><circle cx="447.1" cy="223.8" r="2.12"/><circle cx="453.1" cy="228.3" r="2.12"/><circle cx="455.1" cy="225.9" r="2.12"/><circle cx="449.1" cy="241.6" r="2.12"/><circle cx="449.1" cy="237.0" r="2.12"/><circle cx="449.1" cy="225.4" r="2.12"/><circle cx="455.1" cy="235.7" r="2.12"/><circle cx="455.1" cy="230.2" r="2.12"/><circle cx="447.1" cy="242.0" r="2.12"/><circle cx="453.1" cy="233.6" r="2.12"/><circle cx="447.1" cy="234.2" r="2.12"/><circle cx="445.1" cy="230.2" r="2.12"/><circle cx="447.1" cy="232.8" r="2.12"/><circle cx="449.1" cy="233.8" r="2.12"/><circle cx="455.1" cy="227.2" r="2.12"/><circle cx="453.1" cy="238.3" r="2.12"/><circle cx="455.1" cy="221.4" r="2.12"/><circle cx="453.1" cy="246.3" r="2.12"/><circle cx="455.1" cy="221.9" r="2.12"/><circle cx="457.1" cy="248.2" r="2.12"/><circle cx="457.1" cy="239.4" r="2.12"/><circle cx="459.1" cy="228.1" r="2.12"/><circle cx="463.1" cy="234.0" r="2.12"/><circle cx="457.1" cy="232.3" r="2.12"/><circle cx="457.1" cy="222.4" r="2.12"/><circle cx="459.1" cy="234.5" r="2.12"/><circle cx="459.1" cy="240.6" r="2.12"/><circle cx="459.1" cy="247.5" r="2.12"/><circle cx="461.1" cy="222.6" r="2.12"/><circle cx="461.1" cy="233.7" r="2.12"/><circle cx="457.1" cy="231.2" r="2.12"/><circle cx="461.1" cy="240.3" r="2.12"/><circle cx="461.1" cy="233.6" r="2.12"/><circle cx="461.1" cy="223.5" r="2.12"/><circle cx="457.1" cy="216.2" r="2.12"/><circle cx="459.1" cy="229.8" r="2.12"/><circle cx="463.1" cy="235.5" r="2.12"/><circle cx="463.1" cy="224.4" r="2.12"/><circle cx="459.1" cy="220.2" r="2.12"/><circle cx="463.1" cy="218.8" r="2.12"/><circle cx="461.1" cy="244.2" r="2.12"/><circle cx="461.1" cy="234.1" r="2.12"/><circle cx="461.1" cy="229.0" r="2.12"/><circle cx="463.1" cy="229.1" r="2.12"/><circle cx="457.1" cy="235.4" r="2.12"/><circle cx="463.1" cy="224.3" r="2.12"/><circle cx="463.1" cy="251.7" r="2.12"/><circle cx="457.1" cy="225.8" r="2.12"/><circle cx="461.1" cy="223.0" r="2.12"/><circle cx="457.1" cy="235.0" r="2.12"/><circle cx="463.1" cy="223.2" r="2.12"/><circle cx="461.1" cy="227.2" r="2.12"/><circle cx="463.1" cy="227.9" r="2.12"/><circle cx="463.1" cy="228.7" r="2.12"/><circle cx="459.1" cy="238.1" r="2.12"/><circle cx="463.1" cy="236.9" r="2.12"/><circle cx="461.1" cy="227.5" r="2.12"/><circle cx="459.1" cy="224.5" r="2.12"/><circle cx="457.1" cy="227.5" r="2.12"/><circle cx="457.1" cy="240.8" r="2.12"/><circle cx="459.1" cy="222.7" r="2.12"/><circle cx="457.1" cy="243.7" r="2.12"/><circle cx="461.1" cy="226.7" r="2.12"/><circle cx="461.1" cy="229.3" r="2.12"/><circle cx="461.1" cy="236.8" r="2.12"/><circle cx="461.1" cy="226.1" r="2.12"/><circle cx="461.1" cy="235.1" r="2.12"/><circle cx="461.1" cy="238.1" r="2.12"/><circle cx="463.1" cy="232.0" r="2.12"/><circle cx="477.1" cy="234.7" r="2.12"/><circle cx="465.1" cy="227.3" r="2.12"/><circle cx="469.1" cy="228.6" r="2.12"/><circle cx="469.1" cy="239.3" r="2.12"/><circle cx="465.1" cy="234.2" r="2.12"/><circle cx="469.1" cy="233.9" r="2.12"/><circle cx="477.1" cy="239.3" r="2.12"/><circle cx="465.1" cy="239.8" r="2.12"/><circle cx="467.1" cy="238.3" r="2.12"/><circle cx="465.1" cy="229.2" r="2.12"/><circle cx="467.1" cy="242.0" r="2.12"/><circle cx="471.1" cy="245.1" r="2.12"/><circle cx="469.1" cy="228.0" r="2.12"/><circle cx="467.1" cy="239.7" r="2.12"/><circle cx="467.1" cy="233.2" r="2.12"/><circle cx="477.1" cy="236.7" r="2.12"/><circle cx="475.1" cy="241.4" r="2.12"/><circle cx="473.1" cy="233.6" r="2.12"/><circle cx="469.1" cy="233.4" r="2.12"/><circle cx="469.1" cy="235.8" r="2.12"/><circle cx="471.1" cy="240.0" r="2.12"/><circle cx="469.1" cy="227.2" r="2.12"/><circle cx="477.1" cy="223.5" r="2.12"/><circle cx="469.1" cy="231.0" r="2.12"/><circle cx="471.1" cy="231.9" r="2.12"/><circle cx="465.1" cy="228.4" r="2.12"/><circle cx="475.1" cy="234.7" r="2.12"/><circle cx="473.1" cy="244.1" r="2.12"/><circle cx="467.1" cy="230.4" r="2.12"/><circle cx="467.1" cy="245.0" r="2.12"/><circle cx="469.1" cy="235.5" r="2.12"/><circle cx="473.1" cy="246.0" r="2.12"/><circle cx="467.1" cy="241.5" r="2.12"/><circle cx="469.1" cy="229.3" r="2.12"/><circle cx="477.1" cy="244.4" r="2.12"/><circle cx="477.1" cy="245.3" r="2.12"/><circle cx="473.1" cy="230.6" r="2.12"/><circle cx="469.1" cy="235.8" r="2.12"/><circle cx="469.1" cy="233.8" r="2.12"/><circle cx="471.1" cy="224.0" r="2.12"/><circle cx="469.1" cy="226.6" r="2.12"/><circle cx="471.1" cy="236.5" r="2.12"/><circle cx="465.1" cy="236.5" r="2.12"/><circle cx="473.1" cy="242.5" r="2.12"/><circle cx="467.1" cy="230.1" r="2.12"/><circle cx="475.1" cy="232.9" r="2.12"/><circle cx="475.1" cy="235.1" r="2.12"/><circle cx="473.1" cy="225.8" r="2.12"/><circle cx="467.1" cy="241.5" r="2.12"/><circle cx="467.1" cy="239.4" r="2.12"/><circle cx="481.1" cy="241.3" r="2.12"/><circle cx="479.1" cy="229.2" r="2.12"/><circle cx="479.1" cy="241.0" r="2.12"/><circle cx="483.1" cy="238.9" r="2.12"/><circle cx="485.1" cy="246.9" r="2.12"/><circle cx="485.1" cy="238.5" r="2.12"/><circle cx="485.1" cy="236.5" r="2.12"/><circle cx="485.1" cy="243.8" r="2.12"/><circle cx="485.1" cy="237.4" r="2.12"/><circle cx="485.1" cy="236.9" r="2.12"/><circle cx="485.1" cy="240.0" r="2.12"/><circle cx="485.1" cy="227.8" r="2.12"/><circle cx="485.1" cy="231.1" r="2.12"/><circle cx="485.1" cy="238.3" r="2.12"/><circle cx="485.1" cy="238.3" r="2.12"/><circle cx="485.1" cy="243.8" r="2.12"/><circle cx="485.1" cy="242.0" r="2.12"/><circle cx="485.1" cy="249.2" r="2.12"/><circle cx="487.1" cy="239.7" r="2.12"/><circle cx="487.1" cy="230.7" r="2.12"/><circle cx="487.1" cy="243.9" r="2.12"/><circle cx="487.1" cy="234.5" r="2.12"/><circle cx="487.1" cy="234.5" r="2.12"/><circle cx="487.1" cy="244.9" r="2.12"/><circle cx="487.1" cy="232.9" r="2.12"/><circle cx="487.1" cy="250.7" r="2.12"/><circle cx="487.1" cy="226.7" r="2.12"/><circle cx="339.1" cy="191.8" r="2.12"/><circle cx="335.1" cy="196.4" r="2.12"/><circle cx="345.1" cy="196.1" r="2.12"/><circle cx="353.1" cy="201.6" r="2.12"/><circle cx="350.5" cy="202.2" r="2.12"/><circle cx="336.1" cy="202.9" r="2.12"/><circle cx="341.1" cy="203.5" r="2.12"/><circle cx="365.1" cy="208.7" r="2.12"/><circle cx="379.1" cy="206.1" r="2.12"/><circle cx="373.1" cy="210.6" r="2.12"/><circle cx="385.1" cy="210.6" r="2.12"/><circle cx="397.1" cy="205.5" r="2.12"/><circle cx="399.7" cy="207.4" r="2.12"/><circle cx="395.1" cy="210.4" r="2.12"/><circle cx="409.1" cy="207.4" r="2.12"/><circle cx="413.1" cy="208.7" r="2.12"/><circle cx="416.5" cy="197.7" r="2.12"/><circle cx="416.5" cy="201.6" r="2.12"/><circle cx="417.1" cy="203.9" r="2.12"/><circle cx="423.7" cy="205.5" r="2.12"/><circle cx="435.9" cy="204.2" r="2.12"/><circle cx="437.1" cy="203.1" r="2.12"/><circle cx="443.1" cy="204.2" r="2.12"/><circle cx="445.1" cy="207.4" r="2.12"/><circle cx="455.1" cy="206.8" r="2.12"/><circle cx="449.1" cy="210.4" r="2.12"/><circle cx="339.1" cy="257.0" r="2.12"/><circle cx="341.1" cy="247.2" r="2.12"/><circle cx="351.1" cy="238.2" r="2.12"/><circle cx="357.1" cy="236.9" r="2.12"/><circle cx="357.1" cy="243.6" r="2.12"/><circle cx="367.1" cy="233.0" r="2.12"/><circle cx="373.1" cy="236.9" r="2.12"/><circle cx="373.1" cy="244.6" r="2.12"/><circle cx="373.1" cy="229.0" r="2.12"/><circle cx="379.1" cy="240.1" r="2.12"/><circle cx="381.1" cy="235.6" r="2.12"/><circle cx="381.1" cy="244.6" r="2.12"/><circle cx="383.1" cy="247.2" r="2.12"/><circle cx="385.1" cy="233.6" r="2.12"/><circle cx="387.1" cy="235.6" r="2.12"/><circle cx="393.1" cy="237.5" r="2.12"/><circle cx="393.1" cy="240.8" r="2.12"/><circle cx="395.1" cy="233.6" r="2.12"/><circle cx="405.1" cy="236.2" r="2.12"/><circle cx="411.1" cy="242.0" r="2.12"/><circle cx="414.1" cy="240.1" r="2.12"/><circle cx="417.1" cy="241.4" r="2.12"/><circle cx="424.3" cy="247.9" r="2.12"/><circle cx="425.1" cy="248.2" r="2.12"/><circle cx="427.1" cy="258.9" r="2.12"/><circle cx="439.1" cy="250.5" r="2.12"/><circle cx="443.7" cy="251.7" r="2.12"/><circle cx="449.1" cy="262.5" r="2.12"/><circle cx="449.1" cy="253.5" r="2.12"/><circle cx="451.1" cy="272.3" r="2.12"/><circle cx="455.1" cy="255.3" r="2.12"/><circle cx="455.1" cy="258.9" r="2.12"/><circle cx="463.1" cy="247.3" r="2.12"/><circle cx="467.9" cy="252.6" r="2.12"/><circle cx="469.1" cy="250.8" r="2.12"/><circle cx="479.1" cy="256.2" r="2.12"/><circle cx="483.1" cy="245.5" r="2.12"/><circle cx="485.7" cy="258.0" r="2.12"/><circle cx="485.7" cy="261.9" r="2.12"/><circle cx="495.5" cy="235.1" r="2.12"/><circle cx="497.1" cy="252.6" r="2.12"/><circle cx="479.1" cy="232.0" r="2.12"/><circle cx="481.1" cy="236.5" r="2.12"/></g>
<g class="tr"><rect x="324" y="224.38" width="1.25" height="1.25"/><rect x="326" y="224.38" width="1.25" height="1.25"/><rect x="328" y="223.88" width="1.25" height="1.25"/><rect x="330" y="223.38" width="1.25" height="1.25"/><rect x="332" y="223.38" width="1.25" height="1.25"/><rect x="334" y="222.88" width="1.25" height="1.25"/><rect x="336" y="222.88" width="1.25" height="1.25"/><rect x="338" y="222.38" width="1.25" height="1.25"/><rect x="340" y="222.38" width="1.25" height="1.25"/><rect x="342" y="221.88" width="1.25" height="1.25"/><rect x="344" y="221.88" width="1.25" height="1.25"/><rect x="346" y="221.88" width="1.25" height="1.25"/><rect x="348" y="221.38" width="1.25" height="1.25"/><rect x="350" y="221.38" width="1.25" height="1.25"/><rect x="352" y="220.88" width="1.25" height="1.25"/><rect x="354" y="220.88" width="1.25" height="1.25"/><rect x="356" y="220.88" width="1.25" height="1.25"/><rect x="358" y="220.88" width="1.25" height="1.25"/><rect x="360" y="220.38" width="1.25" height="1.25"/><rect x="362" y="220.38" width="1.25" height="1.25"/><rect x="364" y="220.38" width="1.25" height="1.25"/><rect x="366" y="220.38" width="1.25" height="1.25"/><rect x="368" y="220.38" width="1.25" height="1.25"/><rect x="370" y="220.38" width="1.25" height="1.25"/><rect x="372" y="220.38" width="1.25" height="1.25"/><rect x="374" y="220.38" width="1.25" height="1.25"/><rect x="376" y="220.38" width="1.25" height="1.25"/><rect x="378" y="220.38" width="1.25" height="1.25"/><rect x="380" y="220.38" width="1.25" height="1.25"/><rect x="382" y="220.38" width="1.25" height="1.25"/><rect x="384" y="220.38" width="1.25" height="1.25"/><rect x="386" y="220.38" width="1.25" height="1.25"/><rect x="388" y="220.38" width="1.25" height="1.25"/><rect x="390" y="220.38" width="1.25" height="1.25"/><rect x="392" y="220.38" width="1.25" height="1.25"/><rect x="394" y="220.88" width="1.25" height="1.25"/><rect x="396" y="220.88" width="1.25" height="1.25"/><rect x="398" y="220.88" width="1.25" height="1.25"/><rect x="400" y="220.88" width="1.25" height="1.25"/><rect x="402" y="221.38" width="1.25" height="1.25"/><rect x="404" y="221.38" width="1.25" height="1.25"/><rect x="406" y="221.88" width="1.25" height="1.25"/><rect x="408" y="221.88" width="1.25" height="1.25"/><rect x="410" y="221.88" width="1.25" height="1.25"/><rect x="412" y="222.38" width="1.25" height="1.25"/><rect x="414" y="222.38" width="1.25" height="1.25"/><rect x="416" y="222.88" width="1.25" height="1.25"/><rect x="418" y="222.88" width="1.25" height="1.25"/><rect x="420" y="223.38" width="1.25" height="1.25"/><rect x="422" y="223.38" width="1.25" height="1.25"/><rect x="424" y="223.88" width="1.25" height="1.25"/><rect x="426" y="224.38" width="1.25" height="1.25"/><rect x="428" y="224.38" width="1.25" height="1.25"/><rect x="430" y="224.88" width="1.25" height="1.25"/><rect x="432" y="225.38" width="1.25" height="1.25"/><rect x="434" y="225.38" width="1.25" height="1.25"/><rect x="436" y="225.88" width="1.25" height="1.25"/><rect x="438" y="226.38" width="1.25" height="1.25"/><rect x="440" y="226.88" width="1.25" height="1.25"/><rect x="442" y="227.38" width="1.25" height="1.25"/><rect x="444" y="227.38" width="1.25" height="1.25"/><rect x="446" y="227.88" width="1.25" height="1.25"/><rect x="448" y="228.38" width="1.25" height="1.25"/><rect x="450" y="228.88" width="1.25" height="1.25"/><rect x="452" y="229.38" width="1.25" height="1.25"/><rect x="454" y="229.88" width="1.25" height="1.25"/><rect x="456" y="230.38" width="1.25" height="1.25"/><rect x="458" y="230.88" width="1.25" height="1.25"/><rect x="460" y="231.38" width="1.25" height="1.25"/><rect x="462" y="231.88" width="1.25" height="1.25"/><rect x="464" y="232.38" width="1.25" height="1.25"/><rect x="466" y="233.38" width="1.25" height="1.25"/><rect x="468" y="233.88" width="1.25" height="1.25"/><rect x="470" y="234.38" width="1.25" height="1.25"/><rect x="472" y="234.88" width="1.25" height="1.25"/><rect x="474" y="235.38" width="1.25" height="1.25"/><rect x="476" y="236.38" width="1.25" height="1.25"/><rect x="478" y="236.88" width="1.25" height="1.25"/><rect x="480" y="237.38" width="1.25" height="1.25"/><rect x="482" y="238.38" width="1.25" height="1.25"/><rect x="484" y="238.88" width="1.25" height="1.25"/><rect x="486" y="239.38" width="1.25" height="1.25"/><rect x="488" y="240.38" width="1.25" height="1.25"/><rect x="490" y="240.88" width="1.25" height="1.25"/><rect x="492" y="241.88" width="1.25" height="1.25"/><rect x="494" y="242.38" width="1.25" height="1.25"/><rect x="496" y="243.38" width="1.25" height="1.25"/><rect x="498" y="243.88" width="1.25" height="1.25"/><rect x="500" y="244.88" width="1.25" height="1.25"/><rect x="502" y="245.88" width="1.25" height="1.25"/><rect x="504" y="246.38" width="1.25" height="1.25"/></g>
<g class="od"><circle cx="598.4" cy="225.5" r="2.12"/><circle cx="598.4" cy="222.0" r="2.12"/><circle cx="598.4" cy="229.0" r="2.12"/><circle cx="602.4" cy="217.3" r="2.12"/><circle cx="602.4" cy="221.8" r="2.12"/><circle cx="602.4" cy="218.4" r="2.12"/><circle cx="602.4" cy="216.8" r="2.12"/><circle cx="598.4" cy="219.2" r="2.12"/><circle cx="602.4" cy="205.3" r="2.12"/><circle cx="602.4" cy="219.6" r="2.12"/><circle cx="598.4" cy="221.8" r="2.12"/><circle cx="600.4" cy="221.0" r="2.12"/><circle cx="598.4" cy="226.2" r="2.12"/><circle cx="598.4" cy="225.3" r="2.12"/><circle cx="600.4" cy="223.2" r="2.12"/><circle cx="600.4" cy="216.9" r="2.12"/><circle cx="598.4" cy="220.8" r="2.12"/><circle cx="602.4" cy="221.8" r="2.12"/><circle cx="602.4" cy="208.5" r="2.12"/><circle cx="602.4" cy="218.7" r="2.12"/><circle cx="600.4" cy="220.0" r="2.12"/><circle cx="598.4" cy="218.8" r="2.12"/><circle cx="598.4" cy="210.7" r="2.12"/><circle cx="600.4" cy="231.2" r="2.12"/><circle cx="600.4" cy="242.4" r="2.12"/><circle cx="602.4" cy="213.9" r="2.12"/><circle cx="600.4" cy="219.2" r="2.12"/><circle cx="598.4" cy="224.6" r="2.12"/><circle cx="602.4" cy="222.7" r="2.12"/><circle cx="602.4" cy="224.3" r="2.12"/><circle cx="600.4" cy="223.1" r="2.12"/><circle cx="600.4" cy="212.8" r="2.12"/><circle cx="600.4" cy="219.3" r="2.12"/><circle cx="598.4" cy="220.3" r="2.12"/><circle cx="602.4" cy="228.3" r="2.12"/><circle cx="602.4" cy="215.6" r="2.12"/><circle cx="604.4" cy="221.9" r="2.12"/><circle cx="606.4" cy="215.9" r="2.12"/><circle cx="608.4" cy="212.1" r="2.12"/><circle cx="608.4" cy="224.0" r="2.12"/><circle cx="610.4" cy="231.2" r="2.12"/><circle cx="606.4" cy="215.9" r="2.12"/><circle cx="606.4" cy="231.9" r="2.12"/><circle cx="608.4" cy="227.4" r="2.12"/><circle cx="606.4" cy="220.4" r="2.12"/><circle cx="604.4" cy="209.6" r="2.12"/><circle cx="606.4" cy="231.7" r="2.12"/><circle cx="608.4" cy="223.7" r="2.12"/><circle cx="606.4" cy="200.9" r="2.12"/><circle cx="608.4" cy="214.1" r="2.12"/><circle cx="604.4" cy="202.9" r="2.12"/><circle cx="610.4" cy="226.2" r="2.12"/><circle cx="608.4" cy="223.6" r="2.12"/><circle cx="610.4" cy="212.9" r="2.12"/><circle cx="610.4" cy="226.6" r="2.12"/><circle cx="610.4" cy="216.0" r="2.12"/><circle cx="606.4" cy="228.9" r="2.12"/><circle cx="610.4" cy="224.2" r="2.12"/><circle cx="604.4" cy="216.3" r="2.12"/><circle cx="610.4" cy="226.3" r="2.12"/><circle cx="608.4" cy="216.7" r="2.12"/><circle cx="604.4" cy="228.3" r="2.12"/><circle cx="606.4" cy="215.4" r="2.12"/><circle cx="604.4" cy="225.0" r="2.12"/><circle cx="604.4" cy="208.7" r="2.12"/><circle cx="606.4" cy="231.6" r="2.12"/><circle cx="606.4" cy="223.7" r="2.12"/><circle cx="610.4" cy="233.5" r="2.12"/><circle cx="604.4" cy="234.6" r="2.12"/><circle cx="608.4" cy="232.6" r="2.12"/><circle cx="606.4" cy="214.4" r="2.12"/><circle cx="604.4" cy="225.7" r="2.12"/><circle cx="604.4" cy="216.9" r="2.12"/><circle cx="604.4" cy="210.8" r="2.12"/><circle cx="610.4" cy="231.4" r="2.12"/><circle cx="608.4" cy="212.2" r="2.12"/><circle cx="610.4" cy="211.1" r="2.12"/><circle cx="606.4" cy="222.2" r="2.12"/><circle cx="612.4" cy="216.3" r="2.12"/><circle cx="614.4" cy="232.5" r="2.12"/><circle cx="612.4" cy="231.6" r="2.12"/><circle cx="614.4" cy="212.5" r="2.12"/><circle cx="616.4" cy="220.6" r="2.12"/><circle cx="614.4" cy="233.7" r="2.12"/><circle cx="614.4" cy="208.0" r="2.12"/><circle cx="614.4" cy="232.0" r="2.12"/><circle cx="616.4" cy="226.0" r="2.12"/><circle cx="616.4" cy="227.0" r="2.12"/><circle cx="614.4" cy="211.3" r="2.12"/><circle cx="614.4" cy="219.7" r="2.12"/><circle cx="614.4" cy="207.8" r="2.12"/><circle cx="614.4" cy="213.3" r="2.12"/><circle cx="628.4" cy="221.5" r="2.12"/><circle cx="618.4" cy="219.0" r="2.12"/><circle cx="626.4" cy="215.9" r="2.12"/><circle cx="622.4" cy="214.4" r="2.12"/><circle cx="632.4" cy="221.9" r="2.12"/><circle cx="630.4" cy="214.7" r="2.12"/><circle cx="636.4" cy="219.9" r="2.12"/><circle cx="634.4" cy="216.8" r="2.12"/><circle cx="624.4" cy="231.2" r="2.12"/><circle cx="620.4" cy="218.5" r="2.12"/><circle cx="620.4" cy="227.0" r="2.12"/><circle cx="624.4" cy="218.1" r="2.12"/><circle cx="634.4" cy="220.4" r="2.12"/><circle cx="622.4" cy="216.7" r="2.12"/><circle cx="622.4" cy="228.6" r="2.12"/><circle cx="618.4" cy="219.9" r="2.12"/><circle cx="636.4" cy="216.2" r="2.12"/><circle cx="632.4" cy="220.2" r="2.12"/><circle cx="620.4" cy="212.9" r="2.12"/><circle cx="618.4" cy="212.6" r="2.12"/><circle cx="628.4" cy="217.3" r="2.12"/><circle cx="632.4" cy="227.0" r="2.12"/><circle cx="638.4" cy="215.8" r="2.12"/><circle cx="642.4" cy="214.8" r="2.12"/><circle cx="648.4" cy="210.2" r="2.12"/><circle cx="654.4" cy="208.7" r="2.12"/><circle cx="650.4" cy="223.6" r="2.12"/><circle cx="638.4" cy="212.6" r="2.12"/><circle cx="664.4" cy="226.3" r="2.12"/><circle cx="646.4" cy="215.6" r="2.12"/><circle cx="644.4" cy="225.2" r="2.12"/><circle cx="648.4" cy="225.4" r="2.12"/><circle cx="642.4" cy="212.3" r="2.12"/><circle cx="662.4" cy="220.1" r="2.12"/><circle cx="654.4" cy="215.3" r="2.12"/><circle cx="638.4" cy="224.3" r="2.12"/><circle cx="638.4" cy="213.4" r="2.12"/><circle cx="656.4" cy="204.9" r="2.12"/><circle cx="654.4" cy="216.7" r="2.12"/><circle cx="656.4" cy="220.1" r="2.12"/><circle cx="660.4" cy="214.9" r="2.12"/><circle cx="644.4" cy="219.0" r="2.12"/><circle cx="658.4" cy="216.1" r="2.12"/><circle cx="642.4" cy="218.5" r="2.12"/><circle cx="640.4" cy="218.7" r="2.12"/><circle cx="648.4" cy="221.5" r="2.12"/><circle cx="646.4" cy="222.6" r="2.12"/><circle cx="646.4" cy="219.4" r="2.12"/><circle cx="638.4" cy="220.4" r="2.12"/><circle cx="666.4" cy="212.0" r="2.12"/><circle cx="654.4" cy="220.5" r="2.12"/><circle cx="662.4" cy="222.2" r="2.12"/><circle cx="650.4" cy="213.9" r="2.12"/><circle cx="650.4" cy="225.9" r="2.12"/><circle cx="658.4" cy="225.9" r="2.12"/><circle cx="650.4" cy="220.1" r="2.12"/><circle cx="652.4" cy="218.4" r="2.12"/><circle cx="638.4" cy="214.7" r="2.12"/><circle cx="658.4" cy="212.1" r="2.12"/><circle cx="640.4" cy="206.1" r="2.12"/><circle cx="652.4" cy="209.9" r="2.12"/><circle cx="644.4" cy="221.7" r="2.12"/><circle cx="668.4" cy="219.7" r="2.12"/><circle cx="678.4" cy="209.9" r="2.12"/><circle cx="668.4" cy="227.6" r="2.12"/><circle cx="674.4" cy="219.7" r="2.12"/><circle cx="672.4" cy="215.3" r="2.12"/><circle cx="668.4" cy="219.6" r="2.12"/><circle cx="678.4" cy="221.8" r="2.12"/><circle cx="674.4" cy="229.1" r="2.12"/><circle cx="670.4" cy="204.9" r="2.12"/><circle cx="676.4" cy="220.1" r="2.12"/><circle cx="676.4" cy="218.4" r="2.12"/><circle cx="670.4" cy="222.3" r="2.12"/><circle cx="672.4" cy="209.5" r="2.12"/><circle cx="674.4" cy="226.2" r="2.12"/><circle cx="674.4" cy="213.1" r="2.12"/><circle cx="676.4" cy="224.7" r="2.12"/><circle cx="676.4" cy="211.1" r="2.12"/><circle cx="676.4" cy="223.6" r="2.12"/><circle cx="668.4" cy="210.2" r="2.12"/><circle cx="672.4" cy="233.8" r="2.12"/><circle cx="670.4" cy="230.8" r="2.12"/><circle cx="676.4" cy="213.5" r="2.12"/><circle cx="674.4" cy="224.0" r="2.12"/><circle cx="672.4" cy="219.4" r="2.12"/><circle cx="668.4" cy="216.2" r="2.12"/><circle cx="676.4" cy="211.7" r="2.12"/><circle cx="676.4" cy="210.2" r="2.12"/><circle cx="672.4" cy="235.1" r="2.12"/><circle cx="686.4" cy="222.5" r="2.12"/><circle cx="682.4" cy="225.5" r="2.12"/><circle cx="686.4" cy="221.2" r="2.12"/><circle cx="684.4" cy="220.4" r="2.12"/><circle cx="686.4" cy="223.1" r="2.12"/><circle cx="684.4" cy="220.0" r="2.12"/><circle cx="684.4" cy="223.1" r="2.12"/><circle cx="686.4" cy="228.9" r="2.12"/><circle cx="682.4" cy="220.2" r="2.12"/><circle cx="684.4" cy="219.6" r="2.12"/><circle cx="686.4" cy="213.5" r="2.12"/><circle cx="682.4" cy="223.6" r="2.12"/><circle cx="684.4" cy="212.5" r="2.12"/><circle cx="686.4" cy="225.8" r="2.12"/><circle cx="680.4" cy="226.5" r="2.12"/><circle cx="680.4" cy="211.8" r="2.12"/><circle cx="686.4" cy="220.6" r="2.12"/><circle cx="684.4" cy="230.3" r="2.12"/><circle cx="682.4" cy="213.3" r="2.12"/><circle cx="682.4" cy="215.8" r="2.12"/><circle cx="680.4" cy="216.9" r="2.12"/><circle cx="686.4" cy="224.6" r="2.12"/><circle cx="680.4" cy="216.4" r="2.12"/><circle cx="680.4" cy="228.3" r="2.12"/><circle cx="684.4" cy="228.0" r="2.12"/><circle cx="686.4" cy="222.6" r="2.12"/><circle cx="684.4" cy="199.3" r="2.12"/><circle cx="682.4" cy="221.7" r="2.12"/><circle cx="684.4" cy="202.9" r="2.12"/><circle cx="680.4" cy="216.8" r="2.12"/><circle cx="686.4" cy="221.5" r="2.12"/><circle cx="680.4" cy="214.7" r="2.12"/><circle cx="684.4" cy="227.7" r="2.12"/><circle cx="680.4" cy="227.4" r="2.12"/><circle cx="686.4" cy="217.5" r="2.12"/><circle cx="682.4" cy="220.6" r="2.12"/><circle cx="680.4" cy="222.8" r="2.12"/><circle cx="680.4" cy="214.1" r="2.12"/><circle cx="680.4" cy="203.9" r="2.12"/><circle cx="682.4" cy="224.9" r="2.12"/><circle cx="700.4" cy="221.6" r="2.12"/><circle cx="702.4" cy="218.0" r="2.12"/><circle cx="694.4" cy="232.6" r="2.12"/><circle cx="692.4" cy="223.9" r="2.12"/><circle cx="692.4" cy="228.4" r="2.12"/><circle cx="692.4" cy="225.6" r="2.12"/><circle cx="700.4" cy="226.5" r="2.12"/><circle cx="696.4" cy="229.9" r="2.12"/><circle cx="692.4" cy="221.0" r="2.12"/><circle cx="702.4" cy="221.9" r="2.12"/><circle cx="704.4" cy="207.1" r="2.12"/><circle cx="694.4" cy="238.2" r="2.12"/><circle cx="690.4" cy="220.1" r="2.12"/><circle cx="698.4" cy="227.7" r="2.12"/><circle cx="694.4" cy="220.2" r="2.12"/><circle cx="696.4" cy="225.9" r="2.12"/><circle cx="696.4" cy="212.7" r="2.12"/><circle cx="702.4" cy="224.4" r="2.12"/><circle cx="692.4" cy="232.9" r="2.12"/><circle cx="704.4" cy="223.2" r="2.12"/><circle cx="688.4" cy="218.3" r="2.12"/><circle cx="706.4" cy="213.3" r="2.12"/><circle cx="704.4" cy="227.9" r="2.12"/><circle cx="694.4" cy="237.6" r="2.12"/><circle cx="706.4" cy="231.8" r="2.12"/><circle cx="692.4" cy="215.2" r="2.12"/><circle cx="694.4" cy="228.1" r="2.12"/><circle cx="690.4" cy="228.8" r="2.12"/><circle cx="688.4" cy="228.9" r="2.12"/><circle cx="696.4" cy="220.0" r="2.12"/><circle cx="702.4" cy="215.8" r="2.12"/><circle cx="702.4" cy="213.1" r="2.12"/><circle cx="694.4" cy="211.5" r="2.12"/><circle cx="698.4" cy="210.7" r="2.12"/><circle cx="706.4" cy="225.7" r="2.12"/><circle cx="704.4" cy="230.1" r="2.12"/><circle cx="694.4" cy="217.0" r="2.12"/><circle cx="698.4" cy="236.1" r="2.12"/><circle cx="706.4" cy="240.0" r="2.12"/><circle cx="690.4" cy="221.1" r="2.12"/><circle cx="704.4" cy="221.4" r="2.12"/><circle cx="692.4" cy="211.9" r="2.12"/><circle cx="694.4" cy="221.4" r="2.12"/><circle cx="696.4" cy="226.1" r="2.12"/><circle cx="688.4" cy="200.5" r="2.12"/><circle cx="694.4" cy="220.9" r="2.12"/><circle cx="706.4" cy="212.8" r="2.12"/><circle cx="702.4" cy="217.8" r="2.12"/><circle cx="692.4" cy="211.5" r="2.12"/><circle cx="702.4" cy="227.6" r="2.12"/><circle cx="690.4" cy="226.2" r="2.12"/><circle cx="692.4" cy="219.1" r="2.12"/><circle cx="694.4" cy="221.5" r="2.12"/><circle cx="700.4" cy="212.8" r="2.12"/><circle cx="700.4" cy="213.0" r="2.12"/><circle cx="706.4" cy="237.7" r="2.12"/><circle cx="688.4" cy="222.4" r="2.12"/><circle cx="694.4" cy="226.8" r="2.12"/><circle cx="706.4" cy="232.8" r="2.12"/><circle cx="700.4" cy="238.9" r="2.12"/><circle cx="704.4" cy="223.7" r="2.12"/><circle cx="698.4" cy="214.2" r="2.12"/><circle cx="688.4" cy="216.2" r="2.12"/><circle cx="690.4" cy="215.9" r="2.12"/><circle cx="688.4" cy="216.6" r="2.12"/><circle cx="700.4" cy="214.7" r="2.12"/><circle cx="688.4" cy="222.0" r="2.12"/><circle cx="688.4" cy="210.0" r="2.12"/><circle cx="696.4" cy="215.9" r="2.12"/><circle cx="704.4" cy="224.6" r="2.12"/><circle cx="690.4" cy="218.1" r="2.12"/><circle cx="700.4" cy="222.7" r="2.12"/><circle cx="690.4" cy="221.4" r="2.12"/><circle cx="690.4" cy="208.9" r="2.12"/><circle cx="690.4" cy="233.5" r="2.12"/><circle cx="692.4" cy="223.8" r="2.12"/><circle cx="696.4" cy="216.0" r="2.12"/><circle cx="696.4" cy="228.0" r="2.12"/><circle cx="704.4" cy="222.1" r="2.12"/><circle cx="706.4" cy="216.3" r="2.12"/><circle cx="704.4" cy="218.0" r="2.12"/><circle cx="704.4" cy="233.9" r="2.12"/><circle cx="696.4" cy="212.0" r="2.12"/><circle cx="694.4" cy="224.4" r="2.12"/><circle cx="706.4" cy="231.2" r="2.12"/><circle cx="692.4" cy="210.3" r="2.12"/><circle cx="704.4" cy="229.9" r="2.12"/><circle cx="694.4" cy="218.8" r="2.12"/><circle cx="692.4" cy="213.8" r="2.12"/><circle cx="698.4" cy="227.7" r="2.12"/><circle cx="700.4" cy="221.2" r="2.12"/><circle cx="690.4" cy="237.5" r="2.12"/><circle cx="692.4" cy="229.3" r="2.12"/><circle cx="692.4" cy="218.6" r="2.12"/><circle cx="696.4" cy="230.7" r="2.12"/><circle cx="702.4" cy="232.9" r="2.12"/><circle cx="692.4" cy="212.9" r="2.12"/><circle cx="700.4" cy="221.5" r="2.12"/><circle cx="702.4" cy="242.1" r="2.12"/><circle cx="692.4" cy="212.7" r="2.12"/><circle cx="706.4" cy="220.8" r="2.12"/><circle cx="702.4" cy="229.7" r="2.12"/><circle cx="698.4" cy="230.0" r="2.12"/><circle cx="704.4" cy="221.0" r="2.12"/><circle cx="688.4" cy="226.4" r="2.12"/><circle cx="702.4" cy="240.4" r="2.12"/><circle cx="704.4" cy="220.8" r="2.12"/><circle cx="706.4" cy="222.6" r="2.12"/><circle cx="698.4" cy="222.2" r="2.12"/><circle cx="694.4" cy="207.5" r="2.12"/><circle cx="700.4" cy="218.9" r="2.12"/><circle cx="688.4" cy="229.7" r="2.12"/><circle cx="702.4" cy="222.5" r="2.12"/><circle cx="696.4" cy="225.0" r="2.12"/><circle cx="704.4" cy="228.7" r="2.12"/><circle cx="700.4" cy="236.9" r="2.12"/><circle cx="706.4" cy="221.9" r="2.12"/><circle cx="688.4" cy="230.8" r="2.12"/><circle cx="690.4" cy="233.4" r="2.12"/><circle cx="704.4" cy="218.1" r="2.12"/><circle cx="694.4" cy="221.0" r="2.12"/><circle cx="702.4" cy="225.3" r="2.12"/><circle cx="706.4" cy="243.3" r="2.12"/><circle cx="690.4" cy="212.8" r="2.12"/><circle cx="690.4" cy="214.4" r="2.12"/><circle cx="690.4" cy="231.5" r="2.12"/><circle cx="698.4" cy="224.5" r="2.12"/><circle cx="700.4" cy="232.8" r="2.12"/><circle cx="704.4" cy="213.9" r="2.12"/><circle cx="700.4" cy="215.3" r="2.12"/><circle cx="706.4" cy="214.7" r="2.12"/><circle cx="688.4" cy="222.5" r="2.12"/><circle cx="688.4" cy="221.1" r="2.12"/><circle cx="688.4" cy="216.6" r="2.12"/><circle cx="690.4" cy="234.0" r="2.12"/><circle cx="694.4" cy="211.9" r="2.12"/><circle cx="706.4" cy="221.5" r="2.12"/><circle cx="704.4" cy="228.9" r="2.12"/><circle cx="694.4" cy="225.0" r="2.12"/><circle cx="692.4" cy="231.7" r="2.12"/><circle cx="688.4" cy="216.7" r="2.12"/><circle cx="704.4" cy="232.8" r="2.12"/><circle cx="700.4" cy="223.8" r="2.12"/><circle cx="688.4" cy="229.4" r="2.12"/><circle cx="692.4" cy="226.7" r="2.12"/><circle cx="692.4" cy="210.9" r="2.12"/><circle cx="706.4" cy="219.6" r="2.12"/><circle cx="706.4" cy="226.2" r="2.12"/><circle cx="700.4" cy="244.4" r="2.12"/><circle cx="702.4" cy="218.1" r="2.12"/><circle cx="694.4" cy="203.8" r="2.12"/><circle cx="692.4" cy="222.5" r="2.12"/><circle cx="702.4" cy="223.5" r="2.12"/><circle cx="702.4" cy="221.5" r="2.12"/><circle cx="700.4" cy="232.0" r="2.12"/><circle cx="700.4" cy="223.3" r="2.12"/><circle cx="702.4" cy="208.1" r="2.12"/><circle cx="690.4" cy="216.0" r="2.12"/><circle cx="692.4" cy="206.3" r="2.12"/><circle cx="700.4" cy="227.8" r="2.12"/><circle cx="704.4" cy="221.9" r="2.12"/><circle cx="690.4" cy="215.0" r="2.12"/><circle cx="698.4" cy="231.5" r="2.12"/><circle cx="702.4" cy="223.0" r="2.12"/><circle cx="688.4" cy="221.2" r="2.12"/><circle cx="692.4" cy="220.4" r="2.12"/><circle cx="694.4" cy="218.4" r="2.12"/><circle cx="692.4" cy="231.5" r="2.12"/><circle cx="694.4" cy="216.3" r="2.12"/><circle cx="700.4" cy="231.8" r="2.12"/><circle cx="710.4" cy="224.9" r="2.12"/><circle cx="710.4" cy="221.2" r="2.12"/><circle cx="710.4" cy="238.1" r="2.12"/><circle cx="712.4" cy="234.1" r="2.12"/><circle cx="716.4" cy="227.4" r="2.12"/><circle cx="708.4" cy="211.0" r="2.12"/><circle cx="712.4" cy="229.8" r="2.12"/><circle cx="708.4" cy="240.5" r="2.12"/><circle cx="712.4" cy="229.5" r="2.12"/><circle cx="718.4" cy="223.9" r="2.12"/><circle cx="712.4" cy="210.5" r="2.12"/><circle cx="708.4" cy="213.4" r="2.12"/><circle cx="716.4" cy="229.9" r="2.12"/><circle cx="718.4" cy="233.6" r="2.12"/><circle cx="710.4" cy="219.5" r="2.12"/><circle cx="712.4" cy="239.0" r="2.12"/><circle cx="718.4" cy="213.6" r="2.12"/><circle cx="710.4" cy="234.1" r="2.12"/><circle cx="712.4" cy="230.1" r="2.12"/><circle cx="712.4" cy="235.8" r="2.12"/><circle cx="718.4" cy="229.5" r="2.12"/><circle cx="714.4" cy="234.9" r="2.12"/><circle cx="710.4" cy="217.9" r="2.12"/><circle cx="716.4" cy="221.9" r="2.12"/><circle cx="708.4" cy="240.9" r="2.12"/><circle cx="714.4" cy="220.0" r="2.12"/><circle cx="714.4" cy="221.0" r="2.12"/><circle cx="718.4" cy="238.6" r="2.12"/><circle cx="710.4" cy="234.0" r="2.12"/><circle cx="712.4" cy="227.2" r="2.12"/><circle cx="716.4" cy="232.4" r="2.12"/><circle cx="718.4" cy="227.7" r="2.12"/><circle cx="716.4" cy="225.8" r="2.12"/><circle cx="710.4" cy="227.7" r="2.12"/><circle cx="712.4" cy="226.4" r="2.12"/><circle cx="718.4" cy="208.6" r="2.12"/><circle cx="718.4" cy="235.9" r="2.12"/><circle cx="710.4" cy="218.3" r="2.12"/><circle cx="714.4" cy="226.2" r="2.12"/><circle cx="716.4" cy="225.2" r="2.12"/><circle cx="718.4" cy="244.6" r="2.12"/><circle cx="718.4" cy="235.3" r="2.12"/><circle cx="716.4" cy="231.7" r="2.12"/><circle cx="714.4" cy="237.5" r="2.12"/><circle cx="718.4" cy="228.2" r="2.12"/><circle cx="710.4" cy="242.5" r="2.12"/><circle cx="718.4" cy="233.3" r="2.12"/><circle cx="708.4" cy="218.1" r="2.12"/><circle cx="708.4" cy="218.5" r="2.12"/><circle cx="710.4" cy="221.0" r="2.12"/><circle cx="714.4" cy="234.7" r="2.12"/><circle cx="716.4" cy="222.2" r="2.12"/><circle cx="718.4" cy="233.1" r="2.12"/><circle cx="718.4" cy="220.1" r="2.12"/><circle cx="712.4" cy="219.8" r="2.12"/><circle cx="714.4" cy="229.4" r="2.12"/><circle cx="718.4" cy="227.4" r="2.12"/><circle cx="714.4" cy="226.3" r="2.12"/><circle cx="712.4" cy="217.3" r="2.12"/><circle cx="708.4" cy="218.7" r="2.12"/><circle cx="710.4" cy="219.1" r="2.12"/><circle cx="708.4" cy="218.1" r="2.12"/><circle cx="716.4" cy="228.8" r="2.12"/><circle cx="708.4" cy="216.2" r="2.12"/><circle cx="714.4" cy="213.8" r="2.12"/><circle cx="718.4" cy="231.7" r="2.12"/><circle cx="714.4" cy="219.3" r="2.12"/><circle cx="716.4" cy="227.7" r="2.12"/><circle cx="708.4" cy="235.5" r="2.12"/><circle cx="718.4" cy="233.0" r="2.12"/><circle cx="710.4" cy="212.3" r="2.12"/><circle cx="708.4" cy="229.1" r="2.12"/><circle cx="712.4" cy="233.4" r="2.12"/><circle cx="716.4" cy="223.4" r="2.12"/><circle cx="710.4" cy="213.1" r="2.12"/><circle cx="712.4" cy="229.4" r="2.12"/><circle cx="710.4" cy="232.5" r="2.12"/><circle cx="710.4" cy="229.4" r="2.12"/><circle cx="712.4" cy="225.3" r="2.12"/><circle cx="708.4" cy="214.9" r="2.12"/><circle cx="718.4" cy="244.0" r="2.12"/><circle cx="710.4" cy="228.2" r="2.12"/><circle cx="710.4" cy="221.2" r="2.12"/><circle cx="718.4" cy="223.8" r="2.12"/><circle cx="710.4" cy="217.3" r="2.12"/><circle cx="714.4" cy="217.8" r="2.12"/><circle cx="714.4" cy="227.8" r="2.12"/><circle cx="712.4" cy="219.5" r="2.12"/><circle cx="716.4" cy="229.3" r="2.12"/><circle cx="718.4" cy="220.3" r="2.12"/><circle cx="712.4" cy="221.8" r="2.12"/><circle cx="710.4" cy="223.9" r="2.12"/><circle cx="712.4" cy="223.2" r="2.12"/><circle cx="718.4" cy="228.6" r="2.12"/><circle cx="708.4" cy="225.0" r="2.12"/><circle cx="714.4" cy="222.4" r="2.12"/><circle cx="710.4" cy="220.8" r="2.12"/><circle cx="716.4" cy="225.3" r="2.12"/><circle cx="718.4" cy="222.9" r="2.12"/><circle cx="712.4" cy="238.6" r="2.12"/><circle cx="712.4" cy="234.0" r="2.12"/><circle cx="712.4" cy="222.4" r="2.12"/><circle cx="718.4" cy="232.7" r="2.12"/><circle cx="718.4" cy="227.2" r="2.12"/><circle cx="710.4" cy="239.1" r="2.12"/><circle cx="716.4" cy="230.6" r="2.12"/><circle cx="710.4" cy="231.3" r="2.12"/><circle cx="708.4" cy="227.2" r="2.12"/><circle cx="710.4" cy="229.8" r="2.12"/><circle cx="712.4" cy="230.8" r="2.12"/><circle cx="718.4" cy="224.2" r="2.12"/><circle cx="716.4" cy="235.4" r="2.12"/><circle cx="718.4" cy="218.4" r="2.12"/><circle cx="716.4" cy="243.3" r="2.12"/><circle cx="718.4" cy="218.9" r="2.12"/><circle cx="720.4" cy="245.2" r="2.12"/><circle cx="720.4" cy="236.4" r="2.12"/><circle cx="722.4" cy="225.2" r="2.12"/><circle cx="726.4" cy="231.0" r="2.12"/><circle cx="720.4" cy="229.3" r="2.12"/><circle cx="720.4" cy="219.4" r="2.12"/><circle cx="722.4" cy="231.5" r="2.12"/><circle cx="722.4" cy="237.7" r="2.12"/><circle cx="722.4" cy="244.5" r="2.12"/><circle cx="724.4" cy="219.6" r="2.12"/><circle cx="724.4" cy="230.7" r="2.12"/><circle cx="720.4" cy="228.2" r="2.12"/><circle cx="724.4" cy="237.3" r="2.12"/><circle cx="724.4" cy="230.6" r="2.12"/><circle cx="724.4" cy="220.5" r="2.12"/><circle cx="720.4" cy="213.2" r="2.12"/><circle cx="722.4" cy="226.8" r="2.12"/><circle cx="726.4" cy="232.5" r="2.12"/><circle cx="726.4" cy="221.4" r="2.12"/><circle cx="722.4" cy="217.2" r="2.12"/><circle cx="726.4" cy="215.9" r="2.12"/><circle cx="724.4" cy="241.2" r="2.12"/><circle cx="724.4" cy="231.1" r="2.12"/><circle cx="724.4" cy="226.0" r="2.12"/><circle cx="726.4" cy="226.2" r="2.12"/><circle cx="720.4" cy="232.5" r="2.12"/><circle cx="726.4" cy="221.3" r="2.12"/><circle cx="726.4" cy="248.7" r="2.12"/><circle cx="720.4" cy="222.8" r="2.12"/><circle cx="724.4" cy="220.1" r="2.12"/><circle cx="720.4" cy="232.1" r="2.12"/><circle cx="726.4" cy="220.3" r="2.12"/><circle cx="724.4" cy="224.2" r="2.12"/><circle cx="726.4" cy="224.9" r="2.12"/><circle cx="726.4" cy="225.7" r="2.12"/><circle cx="722.4" cy="235.1" r="2.12"/><circle cx="726.4" cy="233.9" r="2.12"/><circle cx="724.4" cy="224.5" r="2.12"/><circle cx="722.4" cy="221.5" r="2.12"/><circle cx="720.4" cy="224.6" r="2.12"/><circle cx="720.4" cy="237.8" r="2.12"/><circle cx="722.4" cy="219.7" r="2.12"/><circle cx="720.4" cy="240.8" r="2.12"/><circle cx="724.4" cy="223.7" r="2.12"/><circle cx="724.4" cy="226.3" r="2.12"/><circle cx="724.4" cy="233.8" r="2.12"/><circle cx="724.4" cy="223.1" r="2.12"/><circle cx="724.4" cy="232.2" r="2.12"/><circle cx="724.4" cy="235.2" r="2.12"/><circle cx="726.4" cy="229.0" r="2.12"/><circle cx="740.4" cy="231.7" r="2.12"/><circle cx="728.4" cy="224.3" r="2.12"/><circle cx="732.4" cy="225.6" r="2.12"/><circle cx="732.4" cy="236.4" r="2.12"/><circle cx="728.4" cy="231.2" r="2.12"/><circle cx="732.4" cy="230.9" r="2.12"/><circle cx="740.4" cy="236.3" r="2.12"/><circle cx="728.4" cy="236.8" r="2.12"/><circle cx="730.4" cy="235.3" r="2.12"/><circle cx="728.4" cy="226.2" r="2.12"/><circle cx="730.4" cy="239.0" r="2.12"/><circle cx="734.4" cy="242.1" r="2.12"/><circle cx="732.4" cy="225.0" r="2.12"/><circle cx="730.4" cy="236.7" r="2.12"/><circle cx="730.4" cy="230.2" r="2.12"/><circle cx="740.4" cy="233.7" r="2.12"/><circle cx="738.4" cy="238.4" r="2.12"/><circle cx="736.4" cy="230.6" r="2.12"/><circle cx="732.4" cy="230.4" r="2.12"/><circle cx="732.4" cy="232.8" r="2.12"/><circle cx="734.4" cy="237.1" r="2.12"/><circle cx="732.4" cy="224.3" r="2.12"/><circle cx="740.4" cy="220.5" r="2.12"/><circle cx="732.4" cy="228.0" r="2.12"/><circle cx="734.4" cy="228.9" r="2.12"/><circle cx="728.4" cy="225.5" r="2.12"/><circle cx="738.4" cy="231.7" r="2.12"/><circle cx="736.4" cy="241.1" r="2.12"/><circle cx="730.4" cy="227.4" r="2.12"/><circle cx="730.4" cy="242.1" r="2.12"/><circle cx="732.4" cy="232.5" r="2.12"/><circle cx="736.4" cy="243.0" r="2.12"/><circle cx="730.4" cy="238.5" r="2.12"/><circle cx="732.4" cy="226.3" r="2.12"/><circle cx="740.4" cy="241.4" r="2.12"/><circle cx="740.4" cy="242.4" r="2.12"/><circle cx="736.4" cy="227.6" r="2.12"/><circle cx="732.4" cy="232.8" r="2.12"/><circle cx="732.4" cy="230.8" r="2.12"/><circle cx="734.4" cy="221.1" r="2.12"/><circle cx="732.4" cy="223.7" r="2.12"/><circle cx="734.4" cy="233.5" r="2.12"/><circle cx="728.4" cy="233.5" r="2.12"/><circle cx="736.4" cy="239.6" r="2.12"/><circle cx="730.4" cy="227.1" r="2.12"/><circle cx="738.4" cy="229.9" r="2.12"/><circle cx="738.4" cy="232.1" r="2.12"/><circle cx="736.4" cy="222.8" r="2.12"/><circle cx="730.4" cy="238.5" r="2.12"/><circle cx="730.4" cy="236.4" r="2.12"/><circle cx="744.4" cy="238.3" r="2.12"/><circle cx="742.4" cy="226.2" r="2.12"/><circle cx="742.4" cy="238.0" r="2.12"/><circle cx="746.4" cy="235.9" r="2.12"/><circle cx="748.4" cy="243.9" r="2.12"/><circle cx="748.4" cy="235.5" r="2.12"/><circle cx="748.4" cy="233.5" r="2.12"/><circle cx="748.4" cy="240.8" r="2.12"/><circle cx="748.4" cy="234.4" r="2.12"/><circle cx="748.4" cy="233.9" r="2.12"/><circle cx="748.4" cy="237.0" r="2.12"/><circle cx="748.4" cy="224.9" r="2.12"/><circle cx="748.4" cy="228.1" r="2.12"/><circle cx="748.4" cy="235.3" r="2.12"/><circle cx="748.4" cy="235.3" r="2.12"/><circle cx="748.4" cy="240.8" r="2.12"/><circle cx="748.4" cy="239.0" r="2.12"/><circle cx="748.4" cy="246.2" r="2.12"/><circle cx="750.4" cy="236.8" r="2.12"/><circle cx="750.4" cy="227.8" r="2.12"/><circle cx="750.4" cy="241.0" r="2.12"/><circle cx="750.4" cy="231.5" r="2.12"/><circle cx="750.4" cy="231.5" r="2.12"/><circle cx="750.4" cy="241.9" r="2.12"/><circle cx="750.4" cy="229.9" r="2.12"/><circle cx="750.4" cy="247.7" r="2.12"/><circle cx="750.4" cy="223.8" r="2.12"/><circle cx="602.4" cy="188.8" r="2.12"/><circle cx="598.4" cy="193.4" r="2.12"/><circle cx="608.4" cy="193.1" r="2.12"/><circle cx="616.4" cy="198.6" r="2.12"/><circle cx="613.8" cy="199.2" r="2.12"/><circle cx="599.4" cy="199.9" r="2.12"/><circle cx="604.4" cy="200.5" r="2.12"/><circle cx="628.4" cy="205.7" r="2.12"/><circle cx="642.4" cy="203.1" r="2.12"/><circle cx="636.4" cy="207.6" r="2.12"/><circle cx="648.4" cy="207.6" r="2.12"/><circle cx="660.4" cy="202.5" r="2.12"/><circle cx="663.0" cy="204.4" r="2.12"/><circle cx="658.4" cy="207.4" r="2.12"/><circle cx="672.4" cy="204.4" r="2.12"/><circle cx="676.4" cy="205.7" r="2.12"/><circle cx="679.8" cy="194.7" r="2.12"/><circle cx="679.8" cy="198.6" r="2.12"/><circle cx="680.4" cy="200.9" r="2.12"/><circle cx="687.0" cy="202.5" r="2.12"/><circle cx="699.2" cy="201.2" r="2.12"/><circle cx="700.4" cy="200.1" r="2.12"/><circle cx="706.4" cy="201.2" r="2.12"/><circle cx="708.4" cy="204.4" r="2.12"/><circle cx="718.4" cy="203.8" r="2.12"/><circle cx="712.4" cy="207.4" r="2.12"/><circle cx="602.4" cy="254.0" r="2.12"/><circle cx="604.4" cy="244.2" r="2.12"/><circle cx="614.4" cy="235.2" r="2.12"/><circle cx="620.4" cy="233.9" r="2.12"/><circle cx="620.4" cy="240.6" r="2.12"/><circle cx="630.4" cy="230.0" r="2.12"/><circle cx="636.4" cy="233.9" r="2.12"/><circle cx="636.4" cy="241.6" r="2.12"/><circle cx="636.4" cy="226.0" r="2.12"/><circle cx="642.4" cy="237.1" r="2.12"/><circle cx="644.4" cy="232.6" r="2.12"/><circle cx="644.4" cy="241.6" r="2.12"/><circle cx="646.4" cy="244.2" r="2.12"/><circle cx="648.4" cy="230.6" r="2.12"/><circle cx="650.4" cy="232.6" r="2.12"/><circle cx="656.4" cy="234.5" r="2.12"/><circle cx="656.4" cy="237.8" r="2.12"/><circle cx="658.4" cy="230.6" r="2.12"/><circle cx="668.4" cy="233.2" r="2.12"/><circle cx="674.4" cy="239.0" r="2.12"/><circle cx="677.4" cy="237.1" r="2.12"/><circle cx="680.4" cy="238.4" r="2.12"/><circle cx="687.6" cy="244.9" r="2.12"/><circle cx="688.4" cy="245.2" r="2.12"/><circle cx="690.4" cy="255.9" r="2.12"/><circle cx="702.4" cy="247.5" r="2.12"/><circle cx="707.0" cy="248.7" r="2.12"/><circle cx="712.4" cy="259.5" r="2.12"/><circle cx="712.4" cy="250.5" r="2.12"/><circle cx="714.4" cy="269.3" r="2.12"/><circle cx="718.4" cy="252.3" r="2.12"/><circle cx="718.4" cy="255.9" r="2.12"/><circle cx="726.4" cy="244.3" r="2.12"/><circle cx="731.2" cy="249.6" r="2.12"/><circle cx="732.4" cy="247.8" r="2.12"/><circle cx="742.4" cy="253.2" r="2.12"/><circle cx="746.4" cy="242.5" r="2.12"/><circle cx="749.0" cy="255.0" r="2.12"/><circle cx="749.0" cy="258.9" r="2.12"/><circle cx="758.8" cy="232.1" r="2.12"/><circle cx="760.4" cy="249.6" r="2.12"/><circle cx="742.4" cy="229.0" r="2.12"/><circle cx="744.4" cy="233.5" r="2.12"/></g>
<g class="tr"><rect x="587" y="222.88" width="1.25" height="1.25"/><rect x="589" y="222.38" width="1.25" height="1.25"/><rect x="591" y="222.38" width="1.25" height="1.25"/><rect x="593" y="221.88" width="1.25" height="1.25"/><rect x="595" y="221.38" width="1.25" height="1.25"/><rect x="597" y="221.38" width="1.25" height="1.25"/><rect x="599" y="220.88" width="1.25" height="1.25"/><rect x="601" y="220.88" width="1.25" height="1.25"/><rect x="603" y="220.38" width="1.25" height="1.25"/><rect x="605" y="220.38" width="1.25" height="1.25"/><rect x="607" y="219.88" width="1.25" height="1.25"/><rect x="609" y="219.88" width="1.25" height="1.25"/><rect x="611" y="219.88" width="1.25" height="1.25"/><rect x="613" y="219.38" width="1.25" height="1.25"/><rect x="615" y="219.38" width="1.25" height="1.25"/><rect x="617" y="219.38" width="1.25" height="1.25"/><rect x="619" y="218.88" width="1.25" height="1.25"/><rect x="621" y="218.88" width="1.25" height="1.25"/><rect x="623" y="218.88" width="1.25" height="1.25"/><rect x="625" y="218.88" width="1.25" height="1.25"/><rect x="627" y="218.88" width="1.25" height="1.25"/><rect x="629" y="218.38" width="1.25" height="1.25"/><rect x="631" y="218.38" width="1.25" height="1.25"/><rect x="633" y="218.38" width="1.25" height="1.25"/><rect x="635" y="218.38" width="1.25" height="1.25"/><rect x="637" y="218.38" width="1.25" height="1.25"/><rect x="639" y="218.38" width="1.25" height="1.25"/><rect x="641" y="218.38" width="1.25" height="1.25"/><rect x="643" y="218.38" width="1.25" height="1.25"/><rect x="645" y="218.38" width="1.25" height="1.25"/><rect x="647" y="218.38" width="1.25" height="1.25"/><rect x="649" y="218.38" width="1.25" height="1.25"/><rect x="651" y="218.38" width="1.25" height="1.25"/><rect x="653" y="218.88" width="1.25" height="1.25"/><rect x="655" y="218.88" width="1.25" height="1.25"/><rect x="657" y="218.88" width="1.25" height="1.25"/><rect x="659" y="218.88" width="1.25" height="1.25"/><rect x="661" y="219.38" width="1.25" height="1.25"/><rect x="663" y="219.38" width="1.25" height="1.25"/><rect x="665" y="219.38" width="1.25" height="1.25"/><rect x="667" y="219.88" width="1.25" height="1.25"/><rect x="669" y="219.88" width="1.25" height="1.25"/><rect x="671" y="219.88" width="1.25" height="1.25"/><rect x="673" y="220.38" width="1.25" height="1.25"/><rect x="675" y="220.38" width="1.25" height="1.25"/><rect x="677" y="220.88" width="1.25" height="1.25"/><rect x="679" y="220.88" width="1.25" height="1.25"/><rect x="681" y="221.38" width="1.25" height="1.25"/><rect x="683" y="221.38" width="1.25" height="1.25"/><rect x="685" y="221.88" width="1.25" height="1.25"/><rect x="687" y="221.88" width="1.25" height="1.25"/><rect x="689" y="222.38" width="1.25" height="1.25"/><rect x="691" y="222.88" width="1.25" height="1.25"/><rect x="693" y="222.88" width="1.25" height="1.25"/><rect x="695" y="223.38" width="1.25" height="1.25"/><rect x="697" y="223.88" width="1.25" height="1.25"/><rect x="699" y="224.38" width="1.25" height="1.25"/><rect x="701" y="224.38" width="1.25" height="1.25"/><rect x="703" y="224.88" width="1.25" height="1.25"/><rect x="705" y="225.38" width="1.25" height="1.25"/><rect x="707" y="225.88" width="1.25" height="1.25"/><rect x="709" y="226.38" width="1.25" height="1.25"/><rect x="711" y="226.88" width="1.25" height="1.25"/><rect x="713" y="227.38" width="1.25" height="1.25"/><rect x="715" y="227.38" width="1.25" height="1.25"/><rect x="717" y="227.88" width="1.25" height="1.25"/><rect x="719" y="228.38" width="1.25" height="1.25"/><rect x="721" y="228.88" width="1.25" height="1.25"/><rect x="723" y="229.88" width="1.25" height="1.25"/><rect x="725" y="230.38" width="1.25" height="1.25"/><rect x="727" y="230.88" width="1.25" height="1.25"/><rect x="729" y="231.38" width="1.25" height="1.25"/><rect x="731" y="231.88" width="1.25" height="1.25"/><rect x="733" y="232.38" width="1.25" height="1.25"/><rect x="735" y="232.88" width="1.25" height="1.25"/><rect x="737" y="233.88" width="1.25" height="1.25"/><rect x="739" y="234.38" width="1.25" height="1.25"/><rect x="741" y="234.88" width="1.25" height="1.25"/><rect x="743" y="235.88" width="1.25" height="1.25"/><rect x="745" y="236.38" width="1.25" height="1.25"/><rect x="747" y="236.88" width="1.25" height="1.25"/><rect x="749" y="237.88" width="1.25" height="1.25"/><rect x="751" y="238.38" width="1.25" height="1.25"/><rect x="753" y="239.38" width="1.25" height="1.25"/><rect x="755" y="239.88" width="1.25" height="1.25"/><rect x="757" y="240.88" width="1.25" height="1.25"/><rect x="759" y="241.38" width="1.25" height="1.25"/><rect x="761" y="242.38" width="1.25" height="1.25"/><rect x="763" y="242.88" width="1.25" height="1.25"/><rect x="765" y="243.88" width="1.25" height="1.25"/><rect x="767" y="244.38" width="1.25" height="1.25"/></g>
<line x1="42.1" y1="8.3" x2="42.1" y2="142.6" class="ax"/>
<line x1="42.1" y1="8.80" x2="45.1" y2="8.80" class="ax"/>
<text x="30.1" y="12.40" class="tk" text-anchor="end">10.0</text>
<line x1="42.1" y1="42.12" x2="45.1" y2="42.12" class="ax"/>
<text x="30.1" y="45.73" class="tk" text-anchor="end">8.0</text>
<line x1="42.1" y1="75.45" x2="45.1" y2="75.45" class="ax"/>
<text x="30.1" y="79.05" class="tk" text-anchor="end">6.0</text>
<line x1="42.1" y1="108.77" x2="45.1" y2="108.77" class="ax"/>
<text x="30.1" y="112.37" class="tk" text-anchor="end">4.0</text>
<line x1="42.1" y1="142.10" x2="45.1" y2="142.10" class="ax"/>
<text x="30.1" y="145.70" class="tk" text-anchor="end">2.0</text>
<line x1="42.1" y1="163.3" x2="42.1" y2="264.65" class="ax"/>
<line x1="42.1" y1="163.80" x2="45.1" y2="163.80" class="ax"/>
<text x="30.1" y="167.40" class="tk" text-anchor="end">8.0</text>
<line x1="42.1" y1="197.25" x2="45.1" y2="197.25" class="ax"/>
<text x="30.1" y="200.85" class="tk" text-anchor="end">6.0</text>
<line x1="42.1" y1="230.70" x2="45.1" y2="230.70" class="ax"/>
<text x="30.1" y="234.30" class="tk" text-anchor="end">4.0</text>
<line x1="42.1" y1="264.15" x2="45.1" y2="264.15" class="ax"/>
<text x="30.1" y="267.75" class="tk" text-anchor="end">2.0</text>
<line x1="305.1" y1="3.3" x2="305.1" y2="147.0" class="ax"/>
<line x1="305.1" y1="3.80" x2="308.1" y2="3.80" class="ax"/>
<text x="293.1" y="7.40" class="tk" text-anchor="end">0.65</text>
<line x1="305.1" y1="32.34" x2="308.1" y2="32.34" class="ax"/>
<text x="293.1" y="35.94" class="tk" text-anchor="end">0.70</text>
<line x1="305.1" y1="60.88" x2="308.1" y2="60.88" class="ax"/>
<text x="293.1" y="64.48" class="tk" text-anchor="end">0.75</text>
<line x1="305.1" y1="89.42" x2="308.1" y2="89.42" class="ax"/>
<text x="293.1" y="93.02" class="tk" text-anchor="end">0.80</text>
<line x1="305.1" y1="117.96" x2="308.1" y2="117.96" class="ax"/>
<text x="293.1" y="121.56" class="tk" text-anchor="end">0.85</text>
<line x1="305.1" y1="146.50" x2="308.1" y2="146.50" class="ax"/>
<text x="293.1" y="150.10" class="tk" text-anchor="end">0.90</text>
<line x1="305.1" y1="182.3" x2="305.1" y2="269.4" class="ax"/>
<line x1="305.1" y1="182.80" x2="308.1" y2="182.80" class="ax"/>
<text x="293.1" y="186.40" class="tk" text-anchor="end">0.75</text>
<line x1="305.1" y1="211.50" x2="308.1" y2="211.50" class="ax"/>
<text x="293.1" y="215.10" class="tk" text-anchor="end">0.80</text>
<line x1="305.1" y1="240.20" x2="308.1" y2="240.20" class="ax"/>
<text x="293.1" y="243.80" class="tk" text-anchor="end">0.85</text>
<line x1="305.1" y1="268.90" x2="308.1" y2="268.90" class="ax"/>
<text x="293.1" y="272.50" class="tk" text-anchor="end">0.90</text>
<line x1="568.4" y1="3.3" x2="568.4" y2="147.0" class="ax"/>
<line x1="568.4" y1="3.80" x2="571.4" y2="3.80" class="ax"/>
<text x="556.4" y="7.40" class="tk" text-anchor="end">0.65</text>
<line x1="568.4" y1="32.34" x2="571.4" y2="32.34" class="ax"/>
<text x="556.4" y="35.94" class="tk" text-anchor="end">0.70</text>
<line x1="568.4" y1="60.88" x2="571.4" y2="60.88" class="ax"/>
<text x="556.4" y="64.48" class="tk" text-anchor="end">0.75</text>
<line x1="568.4" y1="89.42" x2="571.4" y2="89.42" class="ax"/>
<text x="556.4" y="93.02" class="tk" text-anchor="end">0.80</text>
<line x1="568.4" y1="117.96" x2="571.4" y2="117.96" class="ax"/>
<text x="556.4" y="121.56" class="tk" text-anchor="end">0.85</text>
<line x1="568.4" y1="146.50" x2="571.4" y2="146.50" class="ax"/>
<text x="556.4" y="150.10" class="tk" text-anchor="end">0.90</text>
<line x1="568.4" y1="182.3" x2="568.4" y2="269.4" class="ax"/>
<line x1="568.4" y1="182.80" x2="571.4" y2="182.80" class="ax"/>
<text x="556.4" y="186.40" class="tk" text-anchor="end">0.75</text>
<line x1="568.4" y1="211.50" x2="571.4" y2="211.50" class="ax"/>
<text x="556.4" y="215.10" class="tk" text-anchor="end">0.80</text>
<line x1="568.4" y1="240.20" x2="571.4" y2="240.20" class="ax"/>
<text x="556.4" y="243.80" class="tk" text-anchor="end">0.85</text>
<line x1="568.4" y1="268.90" x2="571.4" y2="268.90" class="ax"/>
<text x="556.4" y="272.50" class="tk" text-anchor="end">0.90</text>
<line x1="41.4" y1="293.1" x2="242.79999999999998" y2="293.1" class="ax"/>
<line x1="42.1" y1="289.8" x2="42.1" y2="293.1" class="ax"/>
<text x="42.1" y="308.4" class="tk" text-anchor="middle">0</text>
<line x1="82.1" y1="289.8" x2="82.1" y2="293.1" class="ax"/>
<text x="82.1" y="308.4" class="tk" text-anchor="middle">20</text>
<line x1="122.1" y1="289.8" x2="122.1" y2="293.1" class="ax"/>
<text x="122.1" y="308.4" class="tk" text-anchor="middle">40</text>
<line x1="162.1" y1="289.8" x2="162.1" y2="293.1" class="ax"/>
<text x="162.1" y="308.4" class="tk" text-anchor="middle">60</text>
<line x1="202.1" y1="289.8" x2="202.1" y2="293.1" class="ax"/>
<text x="202.1" y="308.4" class="tk" text-anchor="middle">80</text>
<line x1="242.1" y1="289.8" x2="242.1" y2="293.1" class="ax"/>
<text x="242.1" y="308.4" class="tk" text-anchor="middle">100</text>
<line x1="304.40000000000003" y1="293.1" x2="505.8" y2="293.1" class="ax"/>
<line x1="305.1" y1="289.8" x2="305.1" y2="293.1" class="ax"/>
<text x="305.1" y="308.4" class="tk" text-anchor="middle">0</text>
<line x1="345.1" y1="289.8" x2="345.1" y2="293.1" class="ax"/>
<text x="345.1" y="308.4" class="tk" text-anchor="middle">20</text>
<line x1="385.1" y1="289.8" x2="385.1" y2="293.1" class="ax"/>
<text x="385.1" y="308.4" class="tk" text-anchor="middle">40</text>
<line x1="425.1" y1="289.8" x2="425.1" y2="293.1" class="ax"/>
<text x="425.1" y="308.4" class="tk" text-anchor="middle">60</text>
<line x1="465.1" y1="289.8" x2="465.1" y2="293.1" class="ax"/>
<text x="465.1" y="308.4" class="tk" text-anchor="middle">80</text>
<line x1="505.1" y1="289.8" x2="505.1" y2="293.1" class="ax"/>
<text x="505.1" y="308.4" class="tk" text-anchor="middle">100</text>
<line x1="567.6999999999999" y1="293.1" x2="769.0999999999999" y2="293.1" class="ax"/>
<line x1="568.4" y1="289.8" x2="568.4" y2="293.1" class="ax"/>
<text x="568.4" y="308.4" class="tk" text-anchor="middle">0</text>
<line x1="608.4" y1="289.8" x2="608.4" y2="293.1" class="ax"/>
<text x="608.4" y="308.4" class="tk" text-anchor="middle">20</text>
<line x1="648.4" y1="289.8" x2="648.4" y2="293.1" class="ax"/>
<text x="648.4" y="308.4" class="tk" text-anchor="middle">40</text>
<line x1="688.4" y1="289.8" x2="688.4" y2="293.1" class="ax"/>
<text x="688.4" y="308.4" class="tk" text-anchor="middle">60</text>
<line x1="728.4" y1="289.8" x2="728.4" y2="293.1" class="ax"/>
<text x="728.4" y="308.4" class="tk" text-anchor="middle">80</text>
<line x1="768.4" y1="289.8" x2="768.4" y2="293.1" class="ax"/>
<text x="768.4" y="308.4" class="tk" text-anchor="middle">100</text>
<text x="46.8" y="17.5" class="grp">Male</text>
<text x="46.8" y="171.2" class="grp">Female</text>
<text x="406" y="321.5" class="xt" text-anchor="middle">Age (years)</text>
<text transform="translate(8.6,180.4) rotate(-90)" class="yt">Phase Angle (<tspan x="74.4">)</tspan></text>
<circle cx="1.8" cy="115.0" r="0.9" fill="none" stroke="#000" stroke-width="0.6"/>
<text transform="translate(270.3,141.5) rotate(-90)" class="yt2" text-anchor="middle">Impedance Ratio (Ω/ Ω)</text>
<text transform="translate(534.0,141.3) rotate(-90)" class="yt2" text-anchor="middle">Resistance Ratio (Ω/ Ω)</text>
<text x="177.5" y="31.8" class="eq" text-anchor="middle">y = -0.0005x² + 0.0322x + 5.9821</text>
<text x="177.5" y="42.6" class="eq" text-anchor="middle">R² = 0.45</text>
<text x="177.5" y="171.8" class="eq" text-anchor="middle">y = -0.0003x² + 0.0237x + 4.8442</text>
<text x="177.5" y="182.6" class="eq" text-anchor="middle">R² = 0.14</text>
<text x="437.3" y="31.8" class="eq" text-anchor="middle">y = 0.00002x² - 0.0012x + 0.7931</text>
<text x="437.3" y="42.6" class="eq" text-anchor="middle">R² = 0.47</text>
<text x="444.5" y="172.1" class="eq" text-anchor="middle">y = 0.00001x² - 0.0008x + 0.8305</text>
<text x="444.5" y="182.9" class="eq" text-anchor="middle">R² = 0.17</text>
<text x="703.8" y="31.8" class="eq" text-anchor="middle">y = 0.00002x² - 0.0012x + 0.7891</text>
<text x="703.8" y="42.6" class="eq" text-anchor="middle">R² = 0.47</text>
<text x="704.0" y="172.1" class="eq" text-anchor="middle">y = 0.00001x² - 0.0008x + 0.8274</text>
<text x="704.0" y="182.9" class="eq" text-anchor="middle">R² = 0.17</text>
</svg>
</body></html>
